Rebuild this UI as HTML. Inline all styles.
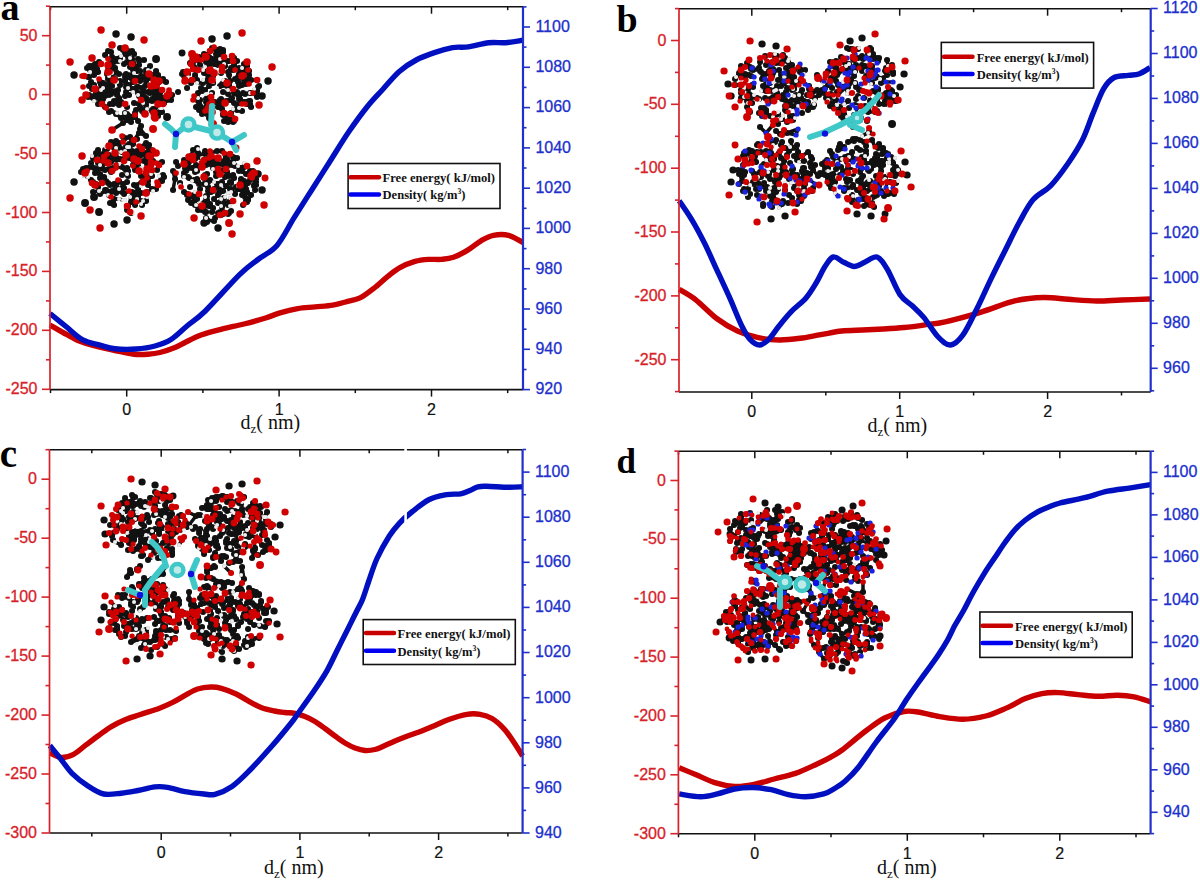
<!DOCTYPE html><html><head><meta charset="utf-8"><style>html,body{margin:0;padding:0;background:#fff;}svg{display:block;}</style></head><body>
<svg width="1200" height="881" viewBox="0 0 1200 881">
<rect width="1200" height="881" fill="#fff"/>
<path d="M50.0,325.0 C52.8,326.6 62.0,332.0 67.0,334.7 C72.0,337.4 75.7,339.5 80.0,341.3 C84.3,343.1 87.2,344.0 93.0,345.5 C98.8,347.0 108.2,349.1 115.0,350.5 C121.8,351.9 128.5,353.6 134.0,354.2 C139.5,354.8 143.7,354.5 148.0,354.2 C152.3,353.9 155.5,353.6 160.0,352.5 C164.5,351.4 170.8,349.2 175.0,347.5 C179.2,345.8 180.7,344.6 185.0,342.5 C189.3,340.4 194.8,337.3 201.0,335.0 C207.2,332.7 215.3,330.7 222.5,328.9 C229.7,327.1 236.8,325.8 244.0,324.0 C251.2,322.2 259.6,319.9 265.6,318.0 C271.6,316.1 274.7,314.5 280.0,312.9 C285.3,311.3 291.7,309.6 297.6,308.6 C303.5,307.6 309.3,307.5 315.2,306.9 C321.1,306.3 327.5,306.0 332.8,305.1 C338.1,304.2 342.4,302.8 346.9,301.6 C351.4,300.4 355.5,300.1 360.0,297.9 C364.5,295.7 369.2,291.9 373.8,288.3 C378.4,284.8 383.1,280.1 387.5,276.6 C391.9,273.2 395.3,270.1 399.9,267.6 C404.5,265.1 410.2,262.8 415.0,261.4 C419.8,260.0 424.4,259.7 428.8,259.4 C433.2,259.1 437.1,259.8 441.2,259.4 C445.3,259.0 449.1,258.8 453.5,257.3 C457.9,255.8 462.7,253.2 467.3,250.4 C471.9,247.7 476.6,243.3 481.0,240.8 C485.4,238.3 488.8,236.2 493.4,235.3 C498.0,234.4 503.7,234.1 508.6,235.3 C513.5,236.5 520.5,241.3 522.9,242.5" fill="none" stroke="#c80000" stroke-width="5.4" stroke-linejoin="round" stroke-linecap="butt"/>
<path d="M50.0,313.5 C52.7,315.7 60.6,322.1 66.0,326.5 C71.4,330.9 76.6,336.5 82.3,339.6 C88.0,342.7 94.5,343.7 100.0,345.2 C105.5,346.7 109.0,348.2 115.0,348.8 C121.0,349.4 129.3,349.5 136.0,349.0 C142.7,348.5 149.2,347.6 155.0,346.0 C160.8,344.4 165.7,342.8 171.0,339.5 C176.3,336.2 181.3,330.8 187.0,326.0 C192.7,321.2 196.5,319.6 205.3,311.0 C214.1,302.4 231.0,283.0 239.8,274.4 C248.6,265.8 251.8,264.3 258.0,259.5 C264.2,254.7 271.0,252.3 277.0,245.4 C283.0,238.5 288.1,227.3 294.0,217.9 C299.9,208.5 306.1,198.8 312.2,189.2 C318.3,179.6 324.4,170.1 330.5,160.5 C336.6,150.9 342.7,140.7 348.8,131.8 C354.9,122.9 361.4,114.0 367.0,107.0 C372.6,100.0 377.3,95.4 382.7,89.5 C388.1,83.6 393.7,76.4 399.3,71.5 C404.9,66.6 410.4,63.1 416.2,60.0 C422.0,56.9 428.3,54.7 434.4,52.6 C440.4,50.5 446.9,48.6 452.5,47.6 C458.1,46.6 462.2,47.7 468.2,46.9 C474.2,46.1 482.4,43.5 488.7,42.8 C494.9,42.1 500.0,43.1 505.7,42.7 C511.4,42.3 520.0,40.6 522.9,40.2" fill="none" stroke="#0010c0" stroke-width="5.4" stroke-linejoin="round" stroke-linecap="butt"/>
<path d="M679.2,289.4 C682.0,291.1 689.5,294.9 695.8,299.8 C702.0,304.7 709.8,313.3 716.7,318.5 C723.7,323.7 730.6,327.8 737.5,331.0 C744.4,334.2 751.3,336.2 758.3,337.7 C765.2,339.2 772.2,339.9 779.2,340.0 C786.2,340.1 793.1,339.2 800.0,338.3 C806.9,337.4 813.8,335.8 820.8,334.6 C827.8,333.4 834.8,331.8 841.7,331.0 C848.7,330.2 855.6,330.3 862.5,330.0 C869.4,329.7 876.3,329.4 883.3,329.0 C890.2,328.6 897.2,328.2 904.2,327.5 C911.2,326.8 918.2,325.8 925.0,324.8 C931.8,323.9 936.0,323.9 945.2,321.8 C954.4,319.7 968.7,315.8 980.4,312.3 C992.1,308.8 1005.0,303.2 1015.6,300.7 C1026.2,298.2 1035.0,297.7 1043.8,297.5 C1052.6,297.3 1059.7,298.7 1068.5,299.3 C1077.3,299.9 1087.8,300.9 1096.6,301.0 C1105.4,301.1 1112.4,300.3 1121.3,300.0 C1130.2,299.7 1145.2,299.2 1150.0,299.0" fill="none" stroke="#c80000" stroke-width="5.4" stroke-linejoin="round" stroke-linecap="butt"/>
<path d="M679.2,200.8 C681.3,203.9 687.5,212.7 691.7,219.6 C695.9,226.5 700.0,234.2 704.2,242.5 C708.4,250.8 712.5,260.6 716.7,269.6 C720.9,278.6 725.0,287.3 729.2,296.7 C733.4,306.1 738.2,318.7 741.7,325.8 C745.2,332.9 747.0,336.2 750.0,339.4 C753.0,342.6 756.3,345.0 759.4,345.0 C762.5,345.0 765.5,342.6 768.8,339.4 C772.0,336.2 775.4,330.5 779.2,325.8 C783.0,321.1 787.2,315.9 791.7,311.2 C796.2,306.6 802.1,302.6 806.2,297.7 C810.4,292.8 813.6,287.2 816.7,282.0 C819.8,276.8 822.2,270.7 825.0,266.5 C827.8,262.3 830.2,257.7 833.3,257.0 C836.4,256.3 840.3,260.7 843.8,262.3 C847.2,263.9 850.7,266.5 854.2,266.5 C857.7,266.5 860.8,263.9 864.6,262.3 C868.4,260.7 873.2,255.8 877.0,257.0 C880.8,258.2 883.7,263.3 887.5,269.6 C891.3,275.9 895.8,288.5 900.0,294.6 C904.2,300.7 908.5,302.2 912.5,306.0 C916.5,309.8 919.7,312.4 924.0,317.6 C928.3,322.8 933.8,332.4 938.2,337.0 C942.6,341.6 946.4,345.3 950.5,345.0 C954.6,344.7 958.4,341.2 962.8,335.2 C967.2,329.2 972.2,318.2 976.9,308.8 C981.6,299.4 986.3,288.6 991.0,278.9 C995.7,269.2 1000.3,260.1 1005.0,250.7 C1009.7,241.3 1014.5,231.0 1019.2,222.5 C1023.9,214.0 1027.9,205.8 1033.2,199.6 C1038.5,193.4 1044.9,191.8 1050.8,185.6 C1056.7,179.4 1063.2,170.3 1068.5,162.7 C1073.8,155.1 1078.4,148.0 1082.5,139.8 C1086.6,131.6 1089.5,121.9 1093.0,113.4 C1096.5,104.9 1100.2,94.7 1103.7,88.7 C1107.2,82.7 1110.1,79.7 1114.2,77.5 C1118.3,75.3 1124.2,76.0 1128.3,75.4 C1132.4,74.8 1135.3,75.3 1138.9,74.0 C1142.5,72.7 1148.2,68.7 1150.0,67.6" fill="none" stroke="#0010c0" stroke-width="5.4" stroke-linejoin="round" stroke-linecap="butt"/>
<path d="M49.8,752.7 C51.7,753.5 57.0,757.1 61.0,757.4 C65.0,757.7 69.4,756.4 73.6,754.3 C77.8,752.2 82.1,747.9 86.3,744.7 C90.5,741.5 94.8,738.2 99.0,735.2 C103.2,732.2 107.5,728.9 111.8,726.4 C116.0,723.9 119.7,722.0 124.5,720.0 C129.3,718.0 134.6,716.5 140.4,714.5 C146.2,712.5 154.2,710.2 159.5,708.2 C164.8,706.2 167.9,704.7 172.2,702.6 C176.4,700.5 180.8,697.7 185.0,695.4 C189.2,693.1 193.3,690.4 197.6,689.0 C201.9,687.6 206.7,687.1 210.7,687.0 C214.7,686.9 217.2,687.1 221.4,688.3 C225.7,689.5 231.6,691.8 236.2,694.0 C240.8,696.2 244.8,699.1 249.0,701.4 C253.2,703.7 257.4,706.2 261.7,707.8 C265.9,709.4 270.6,710.2 274.5,711.0 C278.4,711.8 281.6,712.1 285.0,712.5 C288.4,712.9 291.7,712.8 295.0,713.5 C298.3,714.2 301.7,715.2 305.0,716.5 C308.3,717.8 311.7,719.5 315.0,721.5 C318.3,723.5 321.7,726.1 325.0,728.5 C328.3,730.9 331.7,733.6 335.0,736.0 C338.3,738.4 341.7,741.0 345.0,743.0 C348.3,745.0 351.7,746.8 355.0,748.0 C358.3,749.2 361.7,750.2 365.0,750.5 C368.3,750.8 371.7,750.3 375.0,749.5 C378.3,748.7 381.7,746.9 385.0,745.5 C388.3,744.1 391.7,742.4 395.0,741.0 C398.3,739.6 400.6,738.7 405.0,737.0 C409.4,735.3 416.7,732.9 421.7,731.0 C426.7,729.1 430.5,727.4 435.0,725.5 C439.5,723.6 443.5,721.4 448.8,719.5 C454.1,717.6 461.8,715.2 467.0,714.3 C472.2,713.4 475.8,713.6 480.0,714.3 C484.2,715.0 488.0,716.1 492.0,718.5 C496.0,720.9 500.5,725.0 504.0,728.8 C507.5,732.5 509.9,736.5 513.0,741.0 C516.1,745.5 521.0,753.5 522.6,756.0" fill="none" stroke="#c80000" stroke-width="5.4" stroke-linejoin="round" stroke-linecap="butt"/>
<path d="M49.8,745.5 C51.5,747.6 56.3,753.4 60.0,758.0 C63.7,762.6 67.3,768.6 72.0,773.3 C76.7,778.0 82.7,782.5 88.0,786.0 C93.3,789.5 98.2,792.8 103.8,794.0 C109.3,795.2 115.6,793.8 121.3,793.2 C127.0,792.6 132.4,791.5 138.0,790.5 C143.6,789.5 149.8,787.4 154.7,786.9 C159.6,786.4 162.3,786.5 167.4,787.3 C172.5,788.1 178.9,790.5 185.0,791.6 C191.1,792.7 199.0,793.5 204.0,794.0 C209.0,794.5 210.3,795.6 215.0,794.3 C219.7,793.0 226.3,790.3 232.0,786.4 C237.7,782.5 242.2,777.9 249.0,771.0 C255.8,764.1 265.5,753.4 272.6,745.3 C279.7,737.2 287.1,728.0 291.5,722.5 C295.9,717.0 295.2,717.4 298.9,712.2 C302.6,707.0 308.9,698.4 313.6,691.5 C318.3,684.6 323.0,677.7 326.9,670.8 C330.8,663.9 333.8,657.1 337.2,650.2 C340.6,643.3 344.4,635.9 347.6,629.5 C350.8,623.1 353.9,616.7 356.4,611.8 C358.8,606.9 360.2,605.1 362.3,600.0 C364.4,594.9 366.4,587.9 368.8,581.0 C371.2,574.1 373.6,566.0 377.0,558.5 C380.4,551.0 385.6,541.9 389.3,536.0 C393.1,530.1 395.8,527.1 399.5,523.1 C403.2,519.1 406.8,515.9 411.8,512.0 C416.8,508.1 423.5,502.4 429.3,499.5 C435.1,496.6 441.4,495.6 446.6,494.6 C451.8,493.7 456.8,494.5 460.7,493.8 C464.6,493.1 467.1,491.7 470.0,490.5 C472.9,489.3 475.2,487.5 478.0,486.8 C480.8,486.1 481.6,486.2 486.7,486.3 C491.8,486.4 502.3,487.2 508.3,487.3 C514.3,487.4 520.2,486.9 522.6,486.8" fill="none" stroke="#0010c0" stroke-width="5.4" stroke-linejoin="round" stroke-linecap="butt"/>
<path d="M679.2,767.7 C682.0,768.9 690.3,772.3 696.2,774.8 C702.1,777.3 708.3,780.6 714.7,782.6 C721.1,784.6 728.1,786.1 734.5,786.5 C740.9,786.9 746.3,786.0 752.9,784.7 C759.5,783.5 767.1,780.9 774.2,779.0 C781.3,777.1 788.3,775.9 795.4,773.4 C802.5,770.9 810.7,766.9 816.6,764.2 C822.5,761.5 826.5,759.5 830.8,757.1 C835.0,754.7 836.3,754.4 842.1,750.0 C847.9,745.6 858.6,736.3 865.7,731.0 C872.8,725.7 878.4,721.2 884.7,718.0 C891.1,714.8 898.2,712.5 903.8,711.5 C909.3,710.5 912.0,711.1 918.0,712.0 C924.0,712.9 932.3,715.5 939.8,716.7 C947.3,717.9 955.1,719.4 962.8,719.3 C970.5,719.2 978.7,717.8 985.8,716.0 C992.9,714.2 999.0,711.3 1005.6,708.4 C1012.2,705.5 1019.3,701.1 1025.3,698.6 C1031.3,696.1 1036.3,694.6 1041.8,693.6 C1047.3,692.6 1052.3,692.4 1058.3,692.6 C1064.3,692.8 1071.4,694.0 1078.0,694.6 C1084.6,695.2 1091.2,696.2 1097.8,696.3 C1104.4,696.4 1111.5,695.2 1117.5,695.3 C1123.5,695.4 1128.5,695.8 1134.0,696.9 C1139.5,698.0 1147.8,701.0 1150.5,701.8" fill="none" stroke="#c80000" stroke-width="5.4" stroke-linejoin="round" stroke-linecap="butt"/>
<path d="M679.2,793.9 C682.8,794.4 694.1,796.7 700.5,796.7 C706.9,796.7 711.8,795.2 717.5,793.9 C723.2,792.6 728.6,790.1 734.5,789.0 C740.4,787.9 746.8,787.4 752.9,787.5 C759.0,787.6 765.4,788.5 771.3,789.7 C777.2,790.9 782.6,793.4 788.3,794.6 C794.0,795.8 799.4,796.8 805.3,796.7 C811.2,796.6 818.8,795.3 823.7,793.9 C828.7,792.5 831.5,790.3 835.0,788.2 C838.5,786.1 841.1,784.7 845.0,781.2 C848.9,777.8 853.0,774.0 858.2,767.5 C863.4,761.0 870.2,750.2 876.3,742.0 C882.3,733.8 889.5,725.5 894.5,718.5 C899.5,711.5 902.5,705.7 906.2,700.0 C910.0,694.3 912.9,690.2 917.0,684.5 C921.1,678.8 927.0,670.8 930.6,665.8 C934.2,660.8 935.8,658.9 938.6,654.5 C941.5,650.1 945.1,644.4 947.7,639.7 C950.4,635.0 951.9,631.0 954.5,626.1 C957.1,621.2 960.4,616.3 963.6,610.5 C966.8,604.7 970.1,597.7 973.6,591.5 C977.1,585.3 980.9,578.9 984.5,573.1 C988.1,567.3 992.0,561.9 995.4,556.8 C998.8,551.7 1001.8,546.9 1005.0,542.5 C1008.2,538.1 1011.1,534.0 1014.5,530.2 C1017.9,526.5 1021.5,523.1 1025.4,520.0 C1029.3,516.9 1033.8,514.0 1037.7,511.8 C1041.6,509.6 1044.9,508.5 1048.6,507.0 C1052.3,505.5 1054.0,504.6 1060.0,503.0 C1066.0,501.4 1076.6,499.7 1084.6,497.7 C1092.5,495.7 1100.0,492.8 1107.7,491.2 C1115.4,489.6 1123.6,489.0 1130.7,487.9 C1137.8,486.8 1147.2,485.2 1150.5,484.6" fill="none" stroke="#0010c0" stroke-width="5.4" stroke-linejoin="round" stroke-linecap="butt"/>
<path d="M150 66L150 66M150 66L148 70M125 81L126 84M125 81L125 77M140 107L139 104M140 107L142 111M157 80L157 78M157 80L159 81M121 102L118 103M121 102L119 105M99 79L100 82M99 79L103 83M120 85L120 81M120 85L117 82M101 64L99 62M101 64L96 66M100 82L101 85M157 89L157 86M157 89L155 86M139 61L138 59M139 61L139 65M90 72L90 70M90 72L90 69M147 101L146 104M147 101L146 105M157 98L157 101M157 98L159 96M107 92L105 92M107 92L104 93M162 112L159 112M162 112L162 108M126 92L126 92M126 92L129 95M154 78L154 80M154 78L152 75M95 89L94 87M95 89L96 92M145 98L146 98M145 98L143 97M114 80L115 79M114 80L112 78M127 107L127 104M127 107L125 104M128 77L128 75M128 77L125 75M125 48L123 50M125 48L128 51M116 59L118 61M116 59L114 62M151 88L151 86M151 88L151 90M127 120L127 120M127 120L130 121M133 82L135 81M133 82L132 79M104 89L103 88M104 89L106 88M152 110L153 110M152 110L153 109M162 104L162 104M162 104L163 104M155 86L154 86M155 86L157 86M132 79L135 81M132 62L133 63M132 62L132 64M126 84L129 85M112 73L114 73M112 73L110 72M129 95L126 92M136 82L135 81M96 92L99 90M160 108L162 108M160 108L158 106M154 109L153 109M154 109L153 110M150 66L148 70M89 95L88 97M89 95L86 95M111 52L108 51M111 52L112 57M94 87L94 85M95 67L96 66M95 67L97 69M146 81L149 78M146 81L145 86M109 83L107 85M109 83L112 86M118 61L120 61M118 61L120 58M127 62L124 64M127 62L130 58M136 110L135 113M94 101L93 98M94 101L95 97M142 88L142 88M142 88L143 90M154 86L151 86M100 96L99 94M100 96L98 98M116 91L118 90M116 91L117 94M109 95L111 94M149 78L149 74M132 59L130 58M145 86L142 88M114 73L116 72M98 98L95 97M120 61L120 58M107 85L106 88M98 72L97 69M98 72L95 71M111 63L114 62M111 63L108 65M142 111L143 112M142 111L144 112M162 99L163 98M162 99L158 101M101 102L102 102M101 102L102 104M150 93L148 92M150 93L151 90M158 75L158 76M158 75L157 77M111 69L112 67M111 69L110 72M160 93L159 96M160 93L162 90M92 89L92 87M111 94L111 91M152 75L149 74M132 64L133 63M166 82L163 79M166 82L159 81M105 107L106 108M105 107L102 104M102 104L102 104M103 83L101 85M88 97L86 95M108 51L105 55M99 94L99 90M143 97L146 98M103 88L102 89M108 65L112 67M87 68L89 66M87 68L90 69M140 96L139 96M140 96L138 95M108 72L110 72M108 72L108 70M109 112L111 111M109 112L106 108M110 88L111 91M110 88L112 86M133 92L133 89M133 92L136 90M131 52L132 51M131 52L128 51M106 108L110 104M125 113L125 113M125 113L127 114M94 85L92 85M156 71L158 76M89 86L92 87M89 86L92 85M154 117L155 118M154 117L158 116M158 104L158 106M158 104L158 101M144 60L138 59M120 58L121 56M130 88L128 88M130 88L133 89M159 81L159 82M116 72L119 74M140 78L140 80M140 78L138 78M132 51L134 54M112 57L108 59M91 66L89 66M91 66L90 69M157 77L157 78M157 77L158 76M117 94L117 95M129 85L128 88M140 80L140 81M143 103L143 102M143 103L146 104M105 96L104 93M105 96L103 99M127 114L125 113M144 112L143 112M144 112L145 112M114 101L116 101M114 101L113 104M148 92L151 90M169 90L169 94M169 90L167 96M96 66L95 64M99 90L101 90M99 90L102 89M143 102L141 100M155 95L155 93M121 118L124 117M121 118L116 114M154 80L156 82M95 71L97 69M135 78L138 78M90 69L90 70M90 69L89 66M120 48L123 50M138 93L138 95M138 93L139 96M105 92L104 93M103 99L102 102M115 68L112 67M130 121L131 122M92 85L92 87M133 70L134 73M133 70L130 67M126 74L125 75M126 74L128 75M120 81L117 82M108 77L109 76M108 77L108 79M152 99L152 101M135 115L135 115M135 115L135 113M157 86L157 84M108 59L105 55M137 87L138 87M137 87L136 90M115 79L117 82M117 113L116 114M117 113L111 111M134 103L139 104M163 104L162 104M125 104L127 104M125 104L127 103M139 96L138 95M145 114L145 112M130 58L128 57M157 84L156 82M127 104L127 103M127 120L124 117M144 77L141 76M143 93L143 90M99 62L95 64M95 97L94 96M95 97L93 98M146 109L145 109M146 109L147 109M101 90L102 89M145 112L143 112M137 71L140 71M137 71L134 73M119 105L118 103M136 67L139 65M128 57L128 54M113 104L110 104M146 70L148 70M146 70L146 72M89 77L88 77M89 77L84 76M125 54L128 54M125 54L128 53M135 115L135 117M145 109L147 109M169 94L167 96M88 77L84 76M125 75L125 77M156 82L155 83M146 72L148 70M135 117L133 117M154 113L154 113M109 76L107 74M93 98L94 96M84 76L82 76M158 116L155 118M134 73L132 75M136 90L133 89M128 51L128 53M119 98L117 95M119 98L116 101M146 104L146 105M116 101L118 103M128 53L128 54M110 72L110 72M157 101L158 101M126 87L128 88M167 96L163 98M143 90L142 88M162 108L162 104M214 59L217 59M214 59L210 58M226 101L225 103M226 101L222 102M238 95L239 96M238 95L237 92M223 60L223 60M223 60L223 59M228 122L228 120M228 122L231 120M222 102L222 104M222 102L220 100M218 107L220 104M218 107L222 109M210 82L209 81M210 82L212 80M257 94L257 91M257 94L253 93M209 118L210 119M209 118L211 118M220 59L220 60M220 59L222 60M223 60L223 59M217 65L214 64M217 65L219 63M222 71L222 71M222 71L222 70M229 61L227 61M229 61L233 61M231 120L233 122M231 120L234 121M228 94L228 94M228 94L228 90M210 84L209 86M257 97L253 93M228 94L228 90M228 72L229 75M228 72L231 68M233 61L234 58M233 61L234 65M222 84L223 85M222 84L223 83M250 93L250 93M250 93L251 93M235 119L235 119M235 119L233 118M251 93L250 93M243 93L245 94M243 93L239 96M194 67L193 69M194 67L193 69M248 70L249 71M248 70L246 68M243 77L242 76M243 77L244 75M225 66L224 64M225 66L222 67M245 82L244 80M245 82L246 84M197 83L197 80M197 83L203 83M201 88L202 91M201 88L205 90M184 76L184 74M184 76L182 74M207 70L206 72M207 70L209 71M207 98L206 99M207 98L211 97M245 69L246 68M245 69L246 71M214 73L214 73M214 73L214 72M237 105L240 102M237 105L234 103M242 104L245 104M242 104L243 102M233 70L235 70M233 70L231 68M211 118L210 119M214 64L210 62M198 101L199 100M198 101L200 100M211 94L212 93M211 94L211 97M239 69L239 70M239 69L239 68M239 74L238 77M239 74L242 76M239 99L240 99M239 99L240 102M217 59L218 61M216 73L214 73M246 84L249 84M233 109L236 109M233 109L237 110M235 79L238 79M235 79L238 77M250 104L247 104M250 104L251 107M233 55L232 56M233 55L234 58M198 93L202 91M198 93L198 98M233 122L234 121M257 80L251 80M257 80L250 80M229 86L227 86M229 86L229 84M193 69L193 69M198 98L197 98M198 98L200 100M215 102L212 102M215 102L211 99M183 72L182 74M183 72L184 74M226 83L227 83M226 83L225 81M202 91L205 90M223 115L223 114M223 115L224 113M195 77L195 75M195 77L197 80M207 55L206 57M207 55L205 56M226 85L227 86M226 85L227 83M198 70L199 69M198 70L203 70M206 102L206 99M206 102L209 104M185 81L185 79M185 81L188 77M199 104L200 106M199 61L201 60M199 61L196 59M245 104L247 104M245 104L246 102M223 114L224 113M240 102L240 99M243 71L246 71M209 105L209 104M209 105L209 107M211 99L211 97M211 99L212 102M249 84L249 81M208 60L210 62M208 60L206 62M234 65L231 68M203 70L205 67M203 70L204 73M249 78L250 80M249 78L249 81M210 71L209 71M210 71L210 70M259 86L258 87M259 86L257 91M210 70L209 71M205 56L206 57M225 103L222 104M194 96L193 100M194 96L197 98M192 59L195 58M192 59L196 59M247 66L246 68M247 66L244 64M203 83L203 80M203 83L207 81M209 81L207 81M220 49L220 51M220 49L216 50M234 103L230 100M209 112L212 112M209 112L207 114M222 109L224 113M195 75L197 80M239 108L237 110M239 108L236 109M200 106L202 110M222 67L221 68M251 107L247 104M251 80L250 80M251 80L249 81M222 60L223 59M199 57L196 57M199 57L201 60M199 100L200 100M234 93L237 92M234 93L237 92M193 100L197 98M249 101L250 101M249 101L246 102M254 89L257 91M221 73L220 72M220 86L223 85M235 119L233 118M235 70L239 70M206 107L208 109M206 107L209 107M187 72L188 74M187 72L184 74M202 110L199 110M214 47L212 48M214 47L216 50M189 80L192 80M189 80L188 77M243 102L246 102M221 68L222 70M209 104L212 102M237 61L234 58M220 100L221 99M223 83L223 85M220 72L222 71M238 77L238 79M249 81L250 80M229 75L230 81M249 75L249 71M209 65L210 62M209 65L206 62M184 74L182 74M208 109L209 107M227 83L229 84M228 115L230 114M228 115L231 115M230 81L229 84M193 62L191 64M213 82L213 83M213 82L212 80M247 104L246 102M238 82L239 84M238 82L238 79M222 70L222 71M205 111L207 114M197 98L200 100M236 109L237 110M208 79L207 81M239 86L239 84M239 86L242 85M228 120L226 119M204 73L206 72M242 111L237 110M202 114L207 114M225 81L223 80M242 76L244 75M214 72L214 73M188 77L185 79M231 113L230 114M231 113L231 115M209 57L210 58M196 107L199 110M234 58L232 56M226 119L224 121M213 76L214 73M239 70L239 68M239 96L240 99M212 112L212 107M195 58L196 59M195 58L196 57M230 114L231 115M258 87L257 91M196 59L196 57M192 80L191 83M237 92L237 92M212 48L210 51M218 61L219 63M223 52L223 50M223 52L220 51M216 54L216 50M216 54L220 51M223 50L220 51M191 64L190 63M220 104L222 104M230 100L232 98M127 174L128 176M127 174L128 171M141 168L139 171M141 168L138 166M125 158L124 161M125 158L126 155M102 167L101 168M102 167L103 164M88 168L86 168M88 168L87 171M100 194L99 191M100 194L106 191M106 191L106 190M106 191L105 190M134 159L135 160M134 159L134 161M117 183L114 184M117 183L119 181M144 161L146 159M144 161L147 159M138 197L137 199M138 197L137 200M117 191L116 193M117 191L119 189M135 170L133 166M135 170L139 171M142 205L141 204M142 205L141 201M130 197L132 197M130 197L131 202M109 169L111 172M109 169L112 171M148 178L147 178M148 178L146 177M131 202L136 202M131 202L135 205M93 182L93 183M93 182L92 183M141 183L143 182M141 183L143 182M137 199L137 200M137 199L136 200M114 148L116 148M114 148L115 145M94 168L92 167M94 168L98 169M156 189L153 191M156 189L152 189M122 188L124 188M122 188L122 191M131 213L130 212M131 213L133 213M113 168L113 169M113 168L116 168M141 201L143 201M141 201L140 201M142 149L139 151M142 149L144 146M133 158L133 156M103 157L104 157M103 157L102 159M137 200L136 200M119 199L123 200M119 199L114 199M83 169L81 172M83 169L85 173M149 145L149 149M149 145L146 143M149 149L151 150M149 149L149 151M128 206L127 206M128 206L127 210M153 150L151 150M150 168L152 170M150 168L147 169M123 200L125 200M136 162L135 160M136 162L138 161M103 161L102 159M103 161L103 164M146 173L146 177M146 173L147 169M98 187L97 185M98 187L95 185M146 177L147 178M146 177L145 179M110 193L112 191M110 193L108 192M87 171L86 168M137 158L137 156M137 158L138 161M111 197L109 195M111 197L114 199M132 155L131 154M132 155L132 153M151 165L151 162M116 186L115 186M116 186L114 184M104 177L106 181M104 177L100 178M96 153L99 154M96 153L98 150M151 156L149 156M151 156L151 154M103 154L105 153M116 148L115 145M136 202L136 200M136 200L135 199M93 158L94 157M93 158L92 156M151 162L153 161M143 182L143 182M130 137L132 142M130 137L125 138M147 192L147 193M147 192L146 193M149 151L151 150M108 163L111 162M108 163L107 158M147 164L147 163M129 191L132 192M129 191L124 194M103 164L100 165M151 154L149 156M119 164L119 166M119 164L122 167M130 212L133 213M145 179L147 178M152 170L151 174M132 142L132 143M132 142L133 144M92 183L93 183M151 174L151 176M151 174L150 176M159 176L162 176M159 176L163 175M114 199L113 203M135 153L135 152M135 153L137 154M106 181L108 183M146 156L146 156M146 156L148 155M135 160L134 161M91 163L92 167M107 158L107 156M107 158L104 157M128 176L128 171M150 176L151 176M150 176L152 176M162 162L159 165M162 162L156 163M124 161L120 159M132 192L135 193M100 165L98 163M116 193L119 189M124 139L125 138M124 139L123 137M81 172L85 173M143 201L140 201M132 153L131 154M147 159L146 159M138 189L137 187M138 189L138 185M112 171L111 172M112 171L113 169M108 183L110 185M121 152L121 152M121 152L122 152M123 143L123 142M123 143L119 143M163 175L164 177M163 175L162 176M137 154L137 151M138 161L139 161M94 157L92 156M122 136L123 137M112 144L111 142M93 192L99 191M137 187L138 185M124 194L122 192M124 194L122 191M98 169L101 168M115 186L114 184M118 180L119 181M152 189L153 191M96 184L95 185M96 184L97 185M149 156L148 155M133 165L133 166M133 165L134 161M125 138L123 137M98 150L99 154M107 149L105 150M107 149L106 147M134 185L138 185M112 157L112 160M112 157L109 155M114 205L113 204M114 205L113 203M120 148L121 152M129 147L127 147M129 147L127 149M145 153L146 156M145 153L148 155M138 185L139 185M146 201L147 197M157 170L159 165M110 185L114 184M121 152L122 152M116 168L116 165M116 168L119 166M141 193L140 193M141 193L146 193M157 182L158 184M157 182L158 185M139 146L144 146M131 145L133 144M131 145L132 143M112 191L108 192M127 151L127 149M127 151L125 151M122 191L122 192M144 146L146 143M162 181L161 180M162 181L164 177M106 190L105 190M113 204L113 203M95 185L97 185M161 180L162 176M111 142L109 146M124 151L124 150M124 151L125 151M128 171L126 170M128 171L125 169M127 182L127 182M127 182L123 184M126 146L127 147M127 168L125 169M127 168L126 170M119 166L122 167M120 159L117 160M120 159L116 157M115 153L115 153M115 153L116 157M151 176L152 176M105 153L107 154M107 156L107 154M107 156L109 155M88 177L91 180M88 177L84 176M126 170L125 169M158 184L158 185M135 152L137 151M148 185L148 181M148 155L146 156M132 143L133 144M124 150L125 151M91 180L93 183M147 193L146 193M159 165L156 163M147 197L146 193M98 163L97 160M140 156L140 153M100 178L100 174M116 157L117 160M85 173L84 176M156 163L153 161M109 146L109 146M111 162L112 160M109 195L108 195M107 154L109 155M139 185L141 186M162 176L164 177M116 141L119 143M139 151L140 153M204 178L204 177M204 178L204 177M214 189L213 190M214 189L213 191M207 185L206 184M207 185L207 183M214 165L215 163M214 165L212 165M202 163L201 166M202 163L204 160M205 197L206 198M205 197L206 196M213 168L213 169M231 183L230 182M231 183L234 178M206 180L208 182M252 172L253 171M252 172L252 174M231 189L230 189M231 189L231 190M188 163L189 162M188 163L188 164M241 185L240 185M241 185L240 187M216 172L218 169M216 172L219 172M221 185L222 182M221 185L218 184M200 189L200 189M200 189L199 194M229 202L228 205M229 202L230 198M210 204L209 206M210 204L207 202M184 173L186 171M184 173L184 176M231 190L231 192M207 200L207 201M207 200L206 198M245 197L242 195M245 197L248 200M201 207L202 206M201 207L202 210M252 178L251 176M252 178L251 177M221 157L222 158M221 157L218 158M225 177L227 175M225 177L229 176M186 168L185 168M186 168L186 168M244 167L243 168M244 167L243 168M230 154L230 154M230 154L227 155M204 160L202 158M212 191L213 191M212 191L213 190M254 186L254 185M254 186L256 185M187 194L187 195M187 194L189 194M223 213L223 214M223 213L222 211M221 206L222 207M221 206L224 203M224 203L222 207M244 163L247 166M222 182L218 184M206 196L207 196M243 168L243 168M219 172L220 174M197 167L195 167M197 167L196 165M248 183L245 182M248 183L245 186M246 189L247 192M246 189L245 186M197 156L200 157M197 156L198 153M234 178L233 175M206 218L206 218M206 218L206 219M218 186L217 184M218 186L218 184M220 212L222 211M220 212L218 213M205 202L204 203M205 202L207 201M233 157L230 154M199 184L198 182M199 184L197 181M233 175L229 176M196 170L197 171M196 170L195 172M213 190L213 191M197 171L195 172M189 162L188 164M202 167L201 166M191 196L189 194M191 196L187 195M247 192L251 195M243 205L244 204M243 205L246 201M209 154L211 153M209 154L211 156M225 165L227 166M225 165L223 163M240 189L239 189M240 189L242 190M256 182L256 185M256 182L256 179M187 169L186 168M208 159L209 158M208 159L210 162M205 212L206 212M205 212L202 210M180 183L180 185M180 183L181 187M195 205L196 205M195 205L194 201M228 205L230 206M225 213L223 214M212 160L210 162M212 160L214 159M227 175L227 172M200 157L202 158M221 215L220 215M221 215L223 214M211 156L209 158M217 151L222 151M217 151L211 153M198 149L197 148M198 149L198 153M200 203L201 204M200 203L204 203M225 197L224 198M225 197L221 199M204 154L205 151M204 154L202 158M191 203L194 201M191 203L188 200M184 176L184 177M206 218L206 219M207 174L205 175M207 174L204 177M224 153L222 151M224 153L227 155M196 165L195 167M236 187L237 189M236 187L238 186M184 192L187 195M222 207L222 211M250 171L253 171M234 163L234 165M234 163L232 164M244 181L245 182M244 181L241 181M208 191L208 187M208 191L211 192M218 203L221 199M206 184L204 184M227 172L226 169M198 210L202 210M228 163L226 161M228 163L230 163M207 196L206 198M214 182L217 184M214 182L210 180M218 164L217 163M218 164L215 163M226 169L227 166M202 206L201 204M240 187L240 185M240 187L238 186M205 206L204 203M232 165L232 164M232 165L234 165M254 185L256 185M207 202L207 201M244 204L246 201M189 194L187 195M215 218L214 221M222 164L223 163M204 177L204 177M231 211L229 213M231 211L228 214M205 175L204 177M251 195L248 200M235 166L235 166M235 166L234 165M223 191L220 190M223 191L219 193M192 155L193 156M192 155L189 157M181 187L180 185M212 165L211 164M251 176L251 177M207 183L208 182M241 179L241 181M214 159L218 158M233 201L230 198M246 201L247 202M246 201L247 202M237 158L233 161M235 166L234 165M232 164L234 165M206 212L202 210M192 181L194 180M192 181L189 178M242 190L239 189M185 168L186 168M211 192L213 191M184 177L188 177M193 156L195 159M197 181L198 182M197 181L197 179M193 150L197 148M217 184L218 184M228 193L231 192M206 165L207 163M206 165L211 164M220 190L219 193M239 171L242 171M239 171L240 168M194 180L197 179M195 192L194 195M195 192L199 194M230 154L227 155M197 179L198 182M227 159L226 161M227 159L227 155M230 182L226 186M189 178L188 177M214 221L207 220M247 202L247 202M197 199L194 201M204 203L201 204M193 160L195 159M248 200L247 202M246 174L251 177M207 163L210 162M226 186L230 189M192 168L195 167M210 162L211 164M224 198L221 199M213 208L212 212M240 168L238 166M229 213L228 214M196 205L194 201M210 180L208 182M218 195L219 193M207 222L207 220M253 171L254 173M252 174L254 173M251 179L250 180M215 163L217 163M239 189L237 189M222 158L218 158M235 194L237 189M210 151L211 153M172 95L171 96M172 95L171 100M167 100L171 100M167 100L171 96M171 96L171 100M112 130L123 123M146 136L139 133M146 136L140 129M129 144L134 140M141 126L140 129M141 126L139 133M134 140L139 133M139 133L140 129M173 171L176 173M173 171L175 179M176 173L175 179M173 190L175 179" fill="none" stroke="#111" stroke-width="3.5" stroke-linecap="round"/>
<path d="M150 66h.1M125 81h.1M140 107h.1M157 80h.1M121 102h.1M120 85h.1M100 82h.1M157 89h.1M139 61h.1M147 101h.1M157 98h.1M107 92h.1M162 112h.1M126 92h.1M154 78h.1M145 98h.1M127 107h.1M128 77h.1M116 59h.1M151 88h.1M127 120h.1M133 82h.1M104 89h.1M152 110h.1M162 104h.1M155 86h.1M132 79h.1M132 62h.1M126 84h.1M129 95h.1M96 92h.1M154 109h.1M150 66h.1M89 95h.1M111 52h.1M95 67h.1M146 81h.1M109 83h.1M118 61h.1M127 62h.1M136 110h.1M142 88h.1M100 96h.1M116 91h.1M109 95h.1M149 78h.1M132 59h.1M145 86h.1M114 73h.1M98 98h.1M107 85h.1M98 72h.1M111 63h.1M142 111h.1M162 99h.1M101 102h.1M150 93h.1M158 75h.1M111 69h.1M160 93h.1M92 89h.1M153 110h.1M111 94h.1M152 75h.1M166 82h.1M105 107h.1M103 83h.1M88 97h.1M108 51h.1M99 94h.1M143 97h.1M87 68h.1M140 96h.1M109 112h.1M110 88h.1M131 52h.1M125 113h.1M94 85h.1M156 71h.1M89 86h.1M144 60h.1M120 58h.1M146 98h.1M130 88h.1M116 72h.1M140 78h.1M132 51h.1M112 57h.1M91 66h.1M157 77h.1M117 94h.1M129 85h.1M140 80h.1M101 85h.1M124 64h.1M118 90h.1M105 96h.1M127 114h.1M144 112h.1M114 101h.1M148 92h.1M96 66h.1M99 90h.1M143 102h.1M112 86h.1M155 95h.1M152 111h.1M121 118h.1M95 71h.1M135 78h.1M90 69h.1M120 48h.1M138 93h.1M106 88h.1M105 92h.1M103 99h.1M153 109h.1M151 90h.1M115 68h.1M130 121h.1M92 85h.1M133 70h.1M126 74h.1M120 81h.1M108 77h.1M152 99h.1M125 96h.1M114 62h.1M135 115h.1M157 78h.1M137 87h.1M115 79h.1M134 103h.1M139 96h.1M138 78h.1M158 106h.1M155 93h.1M112 67h.1M157 84h.1M123 50h.1M119 74h.1M127 120h.1M144 77h.1M143 93h.1M99 62h.1M128 75h.1M95 97h.1M146 109h.1M104 93h.1M145 112h.1M137 71h.1M119 105h.1M138 59h.1M164 103h.1M136 67h.1M128 57h.1M113 104h.1M102 102h.1M146 70h.1M89 77h.1M125 54h.1M145 109h.1M111 111h.1M88 77h.1M125 75h.1M95 64h.1M156 82h.1M133 63h.1M146 72h.1M135 117h.1M133 117h.1M116 114h.1M93 98h.1M91 82h.1M158 116h.1M105 55h.1M139 104h.1M143 112h.1M141 76h.1M138 121h.1M139 65h.1M136 90h.1M128 51h.1M112 78h.1M119 98h.1M146 104h.1M146 105h.1M159 112h.1M155 83h.1M116 101h.1M128 53h.1M154 113h.1M108 79h.1M102 89h.1M134 54h.1M140 81h.1M157 101h.1M129 116h.1M94 75h.1M128 54h.1M111 91h.1M140 71h.1M107 74h.1M110 104h.1M126 87h.1M124 117h.1M92 87h.1M152 101h.1M143 90h.1M118 103h.1M130 67h.1M89 66h.1M138 87h.1M159 96h.1M158 101h.1M135 113h.1M163 79h.1M142 88h.1M98 104h.1M125 77h.1M159 82h.1M97 69h.1M90 70h.1M162 104h.1M133 89h.1M117 95h.1M108 70h.1M126 92h.1M131 122h.1M94 96h.1M132 75h.1M163 98h.1M158 76h.1M214 59h.1M226 101h.1M238 95h.1M223 60h.1M228 122h.1M222 102h.1M218 107h.1M210 82h.1M257 94h.1M209 118h.1M223 60h.1M217 65h.1M222 71h.1M229 61h.1M231 120h.1M228 94h.1M210 84h.1M257 97h.1M228 94h.1M228 72h.1M222 84h.1M250 93h.1M251 93h.1M243 93h.1M194 67h.1M243 77h.1M225 66h.1M245 82h.1M209 86h.1M201 88h.1M184 76h.1M207 70h.1M207 98h.1M245 69h.1M214 73h.1M237 105h.1M233 70h.1M211 118h.1M214 64h.1M198 101h.1M239 69h.1M239 74h.1M239 99h.1M217 59h.1M246 84h.1M235 79h.1M250 104h.1M198 93h.1M233 122h.1M229 86h.1M215 102h.1M183 72h.1M245 94h.1M226 83h.1M202 91h.1M223 115h.1M195 77h.1M207 55h.1M226 85h.1M206 102h.1M199 104h.1M199 61h.1M223 114h.1M240 102h.1M243 71h.1M209 105h.1M211 99h.1M208 60h.1M234 65h.1M244 80h.1M249 78h.1M210 71h.1M259 86h.1M247 66h.1M203 83h.1M209 81h.1M206 99h.1M220 49h.1M234 103h.1M210 119h.1M209 112h.1M222 109h.1M195 75h.1M205 90h.1M200 106h.1M227 61h.1M227 86h.1M251 107h.1M251 80h.1M222 60h.1M246 68h.1M199 57h.1M220 60h.1M199 100h.1M197 80h.1M234 93h.1M249 101h.1M221 73h.1M220 86h.1M206 107h.1M202 110h.1M193 69h.1M189 80h.1M231 68h.1M243 102h.1M237 61h.1M220 100h.1M223 83h.1M223 59h.1M238 77h.1M249 81h.1M229 75h.1M249 75h.1M209 65h.1M250 80h.1M184 74h.1M228 115h.1M230 81h.1M193 62h.1M247 104h.1M238 82h.1M222 70h.1M223 85h.1M197 98h.1M236 109h.1M208 79h.1M239 86h.1M210 62h.1M213 83h.1M223 92h.1M228 120h.1M229 84h.1M204 73h.1M242 111h.1M202 114h.1M225 81h.1M206 72h.1M214 72h.1M231 113h.1M209 57h.1M196 107h.1M234 58h.1M238 79h.1M226 119h.1M213 76h.1M239 70h.1M239 96h.1M204 54h.1M195 58h.1M221 99h.1M246 71h.1M237 110h.1M182 74h.1M234 121h.1M199 110h.1M206 62h.1M208 75h.1M207 114h.1M258 87h.1M224 121h.1M240 99h.1M244 64h.1M237 92h.1M191 83h.1M239 68h.1M212 48h.1M218 61h.1M200 100h.1M246 102h.1M223 52h.1M207 81h.1M257 91h.1M239 84h.1M233 118h.1M200 65h.1M212 107h.1M216 54h.1M223 50h.1M242 85h.1M210 58h.1M220 104h.1M187 88h.1M221 56h.1M250 101h.1M212 93h.1M249 71h.1M190 63h.1M230 100h.1M188 74h.1M237 92h.1M220 51h.1M232 98h.1M219 63h.1M216 50h.1M222 104h.1M125 158h.1M102 167h.1M88 168h.1M100 194h.1M106 191h.1M117 183h.1M144 161h.1M138 197h.1M117 191h.1M135 170h.1M142 205h.1M109 169h.1M148 178h.1M131 202h.1M93 182h.1M141 183h.1M114 148h.1M94 168h.1M156 189h.1M122 188h.1M131 213h.1M113 168h.1M141 201h.1M133 158h.1M103 157h.1M137 200h.1M83 169h.1M149 145h.1M149 149h.1M128 206h.1M150 168h.1M136 162h.1M98 187h.1M146 177h.1M110 193h.1M137 158h.1M132 155h.1M116 186h.1M104 177h.1M96 153h.1M103 154h.1M136 200h.1M93 158h.1M130 137h.1M147 192h.1M138 166h.1M149 151h.1M147 164h.1M103 164h.1M151 154h.1M145 179h.1M132 142h.1M114 199h.1M135 153h.1M106 181h.1M146 156h.1M135 160h.1M91 163h.1M107 158h.1M128 176h.1M102 159h.1M147 163h.1M92 167h.1M150 176h.1M162 162h.1M115 145h.1M132 192h.1M116 193h.1M124 139h.1M81 172h.1M132 153h.1M147 159h.1M138 189h.1M108 183h.1M135 199h.1M163 175h.1M137 154h.1M146 159h.1M132 197h.1M94 157h.1M112 144h.1M93 192h.1M137 187h.1M124 194h.1M98 169h.1M115 186h.1M113 169h.1M152 189h.1M96 184h.1M133 165h.1M141 176h.1M125 138h.1M98 150h.1M107 149h.1M134 185h.1M112 157h.1M114 205h.1M132 159h.1M120 148h.1M145 153h.1M138 185h.1M146 201h.1M157 170h.1M110 185h.1M141 193h.1M131 145h.1M112 191h.1M127 151h.1M122 191h.1M144 146h.1M162 181h.1M106 190h.1M129 158h.1M131 154h.1M113 204h.1M122 152h.1M137 156h.1M161 180h.1M143 182h.1M111 142h.1M124 151h.1M128 171h.1M127 182h.1M127 210h.1M126 146h.1M111 172h.1M127 168h.1M119 166h.1M120 159h.1M97 185h.1M151 176h.1M139 161h.1M105 153h.1M107 156h.1M122 175h.1M126 170h.1M158 184h.1M123 137h.1M135 152h.1M151 150h.1M122 192h.1M108 192h.1M148 185h.1M132 143h.1M124 150h.1M125 169h.1M91 180h.1M113 203h.1M86 168h.1M110 203h.1M133 144h.1M105 150h.1M98 163h.1M95 173h.1M140 156h.1M122 167h.1M105 170h.1M100 178h.1M116 157h.1M140 193h.1M117 160h.1M152 176h.1M146 143h.1M146 156h.1M140 201h.1M132 151h.1M109 146h.1M148 181h.1M101 168h.1M111 162h.1M123 184h.1M109 195h.1M105 190h.1M137 151h.1M139 185h.1M93 183h.1M127 182h.1M100 174h.1M162 176h.1M164 177h.1M116 141h.1M139 151h.1M109 155h.1M124 188h.1M127 149h.1M99 154h.1M135 205h.1M114 184h.1M137 139h.1M134 161h.1M153 161h.1M112 160h.1M135 193h.1M115 153h.1M133 156h.1M119 181h.1M140 153h.1M119 143h.1M204 178h.1M214 189h.1M207 185h.1M214 165h.1M213 168h.1M231 183h.1M206 180h.1M252 172h.1M231 189h.1M188 163h.1M216 172h.1M200 189h.1M229 202h.1M210 204h.1M184 173h.1M231 190h.1M207 200h.1M245 197h.1M201 207h.1M225 177h.1M186 168h.1M244 167h.1M212 191h.1M254 186h.1M187 194h.1M223 213h.1M224 203h.1M222 182h.1M206 196h.1M243 168h.1M219 172h.1M197 167h.1M248 183h.1M246 189h.1M197 156h.1M234 178h.1M206 218h.1M218 186h.1M220 212h.1M205 202h.1M233 157h.1M199 184h.1M233 175h.1M197 171h.1M189 162h.1M191 196h.1M247 192h.1M243 205h.1M209 154h.1M225 165h.1M240 189h.1M256 182h.1M187 169h.1M208 159h.1M205 212h.1M180 183h.1M195 205h.1M228 205h.1M212 160h.1M227 175h.1M200 157h.1M221 215h.1M195 172h.1M186 171h.1M243 168h.1M217 151h.1M204 154h.1M191 203h.1M184 176h.1M207 174h.1M196 165h.1M236 187h.1M184 192h.1M222 207h.1M250 171h.1M244 181h.1M208 191h.1M218 203h.1M227 172h.1M198 210h.1M228 163h.1M207 196h.1M222 151h.1M218 164h.1M240 187h.1M205 206h.1M232 165h.1M254 185h.1M207 202h.1M208 187h.1M215 218h.1M222 164h.1M231 211h.1M205 175h.1M188 164h.1M251 195h.1M235 166h.1M223 191h.1M192 155h.1M206 198h.1M212 165h.1M187 195h.1M207 183h.1M241 179h.1M214 159h.1M206 219h.1M246 201h.1M241 181h.1M237 158h.1M235 166h.1M232 164h.1M206 212h.1M207 201h.1M233 161h.1M242 190h.1M223 170h.1M198 153h.1M185 168h.1M202 210h.1M211 192h.1M256 185h.1M223 214h.1M197 181h.1M193 150h.1M188 200h.1M217 184h.1M178 166h.1M222 211h.1M206 165h.1M220 190h.1M204 177h.1M239 171h.1M194 180h.1M216 176h.1M197 179h.1M245 182h.1M245 186h.1M227 159h.1M186 168h.1M230 182h.1M189 178h.1M214 221h.1M247 202h.1M209 206h.1M197 199h.1M255 190h.1M204 203h.1M184 160h.1M201 166h.1M248 200h.1M246 174h.1M207 163h.1M226 186h.1M188 177h.1M192 168h.1M210 162h.1M256 179h.1M230 163h.1M227 155h.1M200 189h.1M226 161h.1M224 198h.1M190 187h.1M213 208h.1M240 168h.1M213 191h.1M229 213h.1M247 202h.1M234 165h.1M214 199h.1M195 159h.1M210 180h.1M208 182h.1M194 201h.1M212 212h.1M218 195h.1M218 184h.1M207 222h.1M207 220h.1M253 171h.1M230 189h.1M195 167h.1M211 164h.1M228 214h.1M251 179h.1M250 180h.1M201 204h.1M198 182h.1M223 163h.1M227 166h.1M197 148h.1M194 195h.1M215 163h.1M251 177h.1M219 193h.1M239 189h.1M205 151h.1M222 158h.1M217 163h.1M235 194h.1M204 184h.1M237 189h.1M218 213h.1M211 153h.1M229 176h.1M242 171h.1M242 195h.1M172 95h.1M167 100h.1M171 96h.1M171 100h.1M178 92h.1M146 136h.1M123 123h.1M129 144h.1M141 126h.1M139 133h.1M140 129h.1M173 171h.1M176 162h.1M173 190h.1M175 179h.1" stroke="#111" stroke-width="6.0" stroke-linecap="round"/>
<path d="M182 53h.1" stroke="#111" stroke-width="6.8" stroke-linecap="round"/>
<path d="M116 34h.1M131 37h.1M74 75h.1M212 39h.1M227 36h.1M268 81h.1M262 96h.1M74 182h.1M114 224h.1M127 220h.1M218 228h.1M262 190h.1M258 174h.1M204 223h.1" stroke="#111" stroke-width="7.4" stroke-linecap="round"/>
<path d="M156 59h.1M167 117h.1M99 212h.1M94 197h.1M85 203h.1" stroke="#111" stroke-width="7.8" stroke-linecap="round"/>
<path d="M90 72h.1M112 73h.1M136 82h.1M160 108h.1M94 87h.1M94 101h.1M120 61h.1M103 88h.1M133 92h.1M143 103h.1M125 113h.1M117 113h.1M138 95h.1M130 58h.1M127 104h.1M127 103h.1M101 90h.1M109 76h.1M134 73h.1M121 56h.1M148 70h.1M110 72h.1M117 82h.1M147 109h.1M162 108h.1M128 88h.1M220 59h.1M235 119h.1M197 83h.1M211 94h.1M216 73h.1M233 109h.1M233 55h.1M198 98h.1M203 70h.1M239 108h.1M199 69h.1M254 89h.1M221 68h.1M220 72h.1M213 82h.1M224 64h.1M217 88h.1M242 68h.1M188 77h.1M228 90h.1M206 94h.1M231 115h.1M223 80h.1M250 93h.1M205 67h.1M203 80h.1M215 69h.1M127 174h.1M141 168h.1M130 197h.1M137 199h.1M119 199h.1M123 200h.1M116 148h.1M119 164h.1M151 174h.1M159 176h.1M100 165h.1M143 201h.1M121 152h.1M123 143h.1M129 147h.1M121 152h.1M99 191h.1M109 177h.1M119 189h.1M88 177h.1M133 213h.1M92 156h.1M148 155h.1M147 193h.1M147 197h.1M106 147h.1M125 200h.1M153 191h.1M84 176h.1M127 147h.1M141 204h.1M125 151h.1M108 195h.1M141 186h.1M205 197h.1M241 185h.1M221 185h.1M221 157h.1M221 206h.1M244 163h.1M196 170h.1M213 169h.1M198 149h.1M200 203h.1M225 197h.1M206 218h.1M234 163h.1M206 184h.1M214 182h.1M230 206h.1M192 181h.1M184 177h.1M228 193h.1M195 192h.1M180 185h.1M231 192h.1M196 205h.1M238 186h.1M230 198h.1M202 158h.1M221 199h.1M238 166h.1" stroke="#eeeeee" stroke-width="4.0" stroke-linecap="round"/>
<path d="M99 79h.1M102 104h.1M106 108h.1M169 90h.1M157 86h.1M108 59h.1M135 115h.1M83 87h.1M82 76h.1M110 72h.1M248 70h.1M242 104h.1M245 104h.1M249 84h.1M194 96h.1M192 59h.1M253 93h.1M193 100h.1M235 70h.1M214 47h.1M201 60h.1M209 104h.1M205 111h.1M185 79h.1M244 75h.1M153 150h.1M103 161h.1M87 171h.1M111 197h.1M136 202h.1M129 191h.1M122 136h.1M118 180h.1M133 166h.1M116 168h.1M157 182h.1M139 146h.1M123 142h.1M147 178h.1M116 165h.1M156 163h.1M107 154h.1M252 178h.1M230 154h.1M224 153h.1M209 158h.1M244 204h.1M189 194h.1M181 187h.1M210 151h.1M176 173h.1" stroke="#d00000" stroke-width="5.6" stroke-linecap="round"/>
<path d="M101 64h.1M154 86h.1M132 64h.1M162 90h.1M135 81h.1M154 117h.1M141 100h.1M102 104h.1M163 104h.1M125 104h.1M84 76h.1M233 61h.1M257 80h.1M193 69h.1M198 70h.1M205 56h.1M209 71h.1M211 97h.1M222 67h.1M235 119h.1M212 102h.1M233 89h.1M224 57h.1M222 71h.1M224 113h.1M230 114h.1M209 107h.1M192 80h.1M191 64h.1M210 51h.1M232 56h.1M142 149h.1M146 173h.1M151 165h.1M151 156h.1M151 162h.1M130 212h.1M152 170h.1M92 183h.1M124 161h.1M112 171h.1M104 157h.1M159 165h.1M127 206h.1M158 185h.1M102 183h.1M97 160h.1M202 163h.1M204 160h.1M213 190h.1M225 213h.1M226 169h.1M220 215h.1M233 201h.1M247 166h.1M218 169h.1M193 156h.1M230 154h.1M199 194h.1M193 160h.1M252 174h.1M134 140h.1" stroke="#d00000" stroke-width="6.6" stroke-linecap="round"/>
<path d="M265 178h.1M236 148h.1" stroke="#d00000" stroke-width="6.8" stroke-linecap="round"/>
<path d="M101 30h.1M144 40h.1M112 45h.1M70 62h.1M92 58h.1M82 100h.1M201 41h.1M242 33h.1M247 62h.1M272 67h.1M259 105h.1M70 198h.1M82 156h.1M90 210h.1M100 228h.1M141 216h.1M240 214h.1M232 234h.1M264 205h.1M257 161h.1M194 218h.1" stroke="#d00000" stroke-width="7.4" stroke-linecap="round"/>
<path d="M95 89h.1M114 80h.1M125 48h.1M108 65h.1M108 72h.1M86 95h.1M158 104h.1M159 81h.1M154 80h.1M145 114h.1M169 94h.1M154 113h.1M155 118h.1M149 74h.1M167 96h.1M151 86h.1M185 81h.1M210 70h.1M225 103h.1M187 72h.1M208 109h.1M227 83h.1M206 57h.1M242 76h.1M212 112h.1M196 59h.1M212 80h.1M196 57h.1M214 73h.1M134 159h.1M143 182h.1M108 163h.1M147 169h.1M138 161h.1M149 156h.1M95 185h.1M115 153h.1M156 153h.1M146 193h.1M85 173h.1M139 171h.1M109 146h.1M126 155h.1M202 167h.1M211 156h.1M202 206h.1M204 177h.1M251 176h.1M220 174h.1M184 164h.1M189 157h.1M240 185h.1M254 173h.1M218 158h.1M112 130h.1" stroke="#d00000" stroke-width="7.6" stroke-linecap="round"/>
<path d="M153 129h.1M192 54h.1M213 124h.1M229 223h.1" stroke="#d00000" stroke-width="7.8" stroke-linecap="round"/>
<path d="M165,124 L171,129 L176,134" fill="none" stroke="#40c8c8" stroke-width="6" stroke-linejoin="round" stroke-linecap="round"/>
<path d="M175,147 L176,134" fill="none" stroke="#40c8c8" stroke-width="6" stroke-linejoin="round" stroke-linecap="round"/>
<path d="M176,134 L182,129" fill="none" stroke="#40c8c8" stroke-width="6" stroke-linejoin="round" stroke-linecap="round"/>
<path d="M195,127 L211,131" fill="none" stroke="#40c8c8" stroke-width="6" stroke-linejoin="round" stroke-linecap="round"/>
<path d="M224,137 L232,142 L244,135" fill="none" stroke="#40c8c8" stroke-width="6" stroke-linejoin="round" stroke-linecap="round"/>
<path d="M232,142 L236,150" fill="none" stroke="#40c8c8" stroke-width="6" stroke-linejoin="round" stroke-linecap="round"/>
<path d="M211,125 L212,106" fill="none" stroke="#40c8c8" stroke-width="6" stroke-linejoin="round" stroke-linecap="round"/>
<circle cx="188.5" cy="124.5" r="6.0" fill="#bfeaea" stroke="#40c8c8" stroke-width="4.5"/>
<circle cx="217.0" cy="132.6" r="6.0" fill="#bfeaea" stroke="#40c8c8" stroke-width="4.5"/>
<circle cx="176.0" cy="134.0" r="3.2" fill="#1010e0"/>
<circle cx="232.0" cy="142.0" r="3.2" fill="#1010e0"/>
<path d="M803 106L802 105M803 106L806 104M789 75L789 75M789 75L788 72M784 96L783 95M784 96L782 99M782 64L781 63M782 64L782 62M769 81L769 83M769 81L770 83M813 92L811 89M813 92L810 95M770 72L769 71M770 72L770 74M772 76L772 74M772 76L772 74M765 117L763 116M765 117L762 116M777 93L776 90M777 93L775 90M760 62L760 58M760 62L759 68M790 66L792 65M790 66L788 62M808 110L809 107M808 110L813 107M795 118L793 116M795 118L793 120M797 110L796 107M797 110L798 106M797 104L798 106M797 104L798 103M772 91L770 90M772 91L774 91M774 119L776 120M774 119L773 121M775 113L774 113M775 113L777 114M763 116L762 116M809 86L808 86M809 86L809 89M781 119L782 119M781 119L783 116M794 88L794 89M794 88L793 89M751 76L749 75M751 76L754 77M792 65L788 61M814 104L814 105M814 104L813 107M775 90L776 90M775 90L774 91M788 95L786 92M759 68L759 68M759 68L759 69M776 120L777 119M785 58L783 55M785 58L782 56M802 105L806 104M788 72L789 75M742 90L741 90M742 90L742 92M805 70L804 74M805 70L802 75M768 104L769 102M768 104L767 101M735 79L736 77M735 79L739 75M747 101L749 102M747 101L748 103M748 103L749 102M765 56L764 57M765 56L770 55M736 77L739 75M785 106L786 106M785 106L788 107M742 77L741 78M742 77L741 75M735 85L734 85M735 85L741 85M798 106L796 107M809 107L813 107M806 104L808 102M806 104L804 101M773 69L771 69M773 69L773 71M741 85L745 83M741 85L744 88M782 81L784 81M782 81L784 83M776 63L776 60M776 63L773 62M784 83L784 81M741 98L740 101M741 98L744 97M752 85L754 83M752 85L753 87M754 95L752 97M754 95L750 95M785 110L786 111M785 110L787 110M793 71L793 71M793 71L792 72M768 91L768 91M768 91L770 90M767 61L770 63M767 61L764 57M794 70L793 71M741 66L742 68M741 66L745 67M752 68L752 68M752 68L751 69M777 86L777 87M777 86L781 86M759 99L759 99M759 99L759 100M814 105L813 107M769 90L770 90M782 56L783 55M801 79L803 81M801 79L799 82M784 73L784 77M784 73L781 75M741 75L739 75M804 101L808 102M767 88L766 86M750 95L749 94M750 95L752 97M739 73L739 75M749 94L747 96M766 86L766 84M796 81L799 82M796 81L797 84M787 122L787 121M787 122L791 121M788 109L790 110M788 109L788 107M794 89L793 89M763 86L766 84M800 72L800 69M800 72L802 75M777 87L776 90M758 69L758 69M758 69L759 69M774 71L773 71M774 71L773 73M769 102L767 101M810 95L811 96M810 95L809 94M745 83L746 80M788 62L788 61M788 62L789 59M758 69L759 69M789 102L792 100M789 102L792 106M742 92L741 93M808 86L809 89M792 82L793 82M792 82L789 79M781 63L782 62M770 55L775 54M783 116L782 119M748 89L749 87M748 89L749 86M773 82L773 80M773 82L771 82M793 120L791 121M792 87L792 87M792 87L794 85M796 100L798 103M796 100L792 100M767 101L765 98M815 98L815 100M815 98L811 96M793 116L790 116M788 112L786 111M788 112L787 110M794 96L796 95M798 67L800 64M798 67L800 69M796 95L799 95M749 111L750 112M749 111L747 107M744 97L744 97M744 97L745 96M769 71L771 69M774 113L777 114M788 107L790 110M774 101L773 97M774 101L770 99M761 72L760 71M761 72L759 69M775 54L777 56M775 54L775 57M747 107L750 103M799 82L797 84M790 110L787 110M746 80L745 76M772 74L772 74M772 74L773 73M770 116L773 117M759 99L759 100M802 75L804 74M787 110L786 111M788 81L786 81M788 81L789 79M786 81L784 81M778 114L777 114M778 114L778 112M800 98L801 98M800 98L799 95M771 69L773 71M765 79L764 78M765 79L762 79M760 58L764 57M771 65L770 63M771 65L773 62M770 74L772 74M770 99L773 97M741 70L742 68M764 78L763 77M766 112L766 110M766 112L764 108M762 116L761 113M811 89L809 89M791 121L790 119M757 98L757 99M766 65L770 63M762 79L763 77M797 84L799 85M779 70L781 75M803 81L805 84M745 75L745 76M745 75L745 74M745 67L742 68M754 83L753 87M754 77L749 75M753 70L752 68M784 77L781 75M764 108L761 108M764 108L766 110M761 108L761 113M759 113L761 113M783 95L782 99M771 82L770 83M771 82L769 83M777 56L775 57M790 119L790 116M747 63L749 60M747 63L750 67M789 59L788 61M753 87L749 86M780 63L782 62M802 90L801 93M802 90L799 95M765 74L763 77M769 83L769 83M769 83L770 83M801 93L799 95M773 73L772 74M752 103L750 103M750 67L751 69M782 99L785 100M786 92L787 88M792 73L792 72M809 94L807 95M768 83L769 83M761 91L766 91M771 78L773 80M749 87L749 86M747 96L745 96M794 77L793 82M770 83L769 83M745 96L744 97M745 74L745 76M752 68L751 69M778 97L778 97M838 95L839 92M838 95L837 92M893 99L892 99M893 99L891 99M858 49L859 48M858 49L854 50M892 65L892 67M892 65L888 66M877 100L876 99M877 100L875 102M841 101L842 99M841 101L844 104M844 86L843 87M844 86L846 88M831 94L833 95M831 94L828 94M834 73L835 72M834 73L836 70M838 85L839 84M838 85L836 81M831 78L831 78M831 78L830 81M890 103L890 104M890 103L890 105M858 121L860 120M858 121L861 118M896 101L896 101M896 101L895 101M841 90L839 90M841 90L839 92M865 106L866 107M865 106L863 107M843 82L847 85M855 66L855 66M855 66L856 65M875 111L875 112M875 111L876 111M841 57L843 58M841 57L844 59M825 89L825 88M825 89L824 92M867 50L870 48M867 50L871 51M875 102L876 99M878 89L878 90M878 89L876 87M887 60L888 66M870 60L869 62M870 60L866 58M855 66L853 67M871 107L873 109M871 107L871 104M885 101L884 104M885 101L886 97M891 106L890 105M891 106L890 104M857 106L856 107M857 106L856 108M888 96L886 97M888 96L890 94M855 83L855 83M855 83L856 87M863 98L864 98M863 98L860 98M866 71L868 71M866 71L863 70M888 87L889 89M888 87L891 90M844 110L844 114M844 110L839 111M847 94L848 91M847 94L852 93M867 58L866 58M867 58L868 54M866 58L863 59M893 74L893 72M893 74L890 70M847 117L845 118M847 117L844 114M826 75L826 74M826 75L825 78M853 59L854 60M853 59L853 57M826 98L828 98M826 98L828 100M862 56L863 59M888 67L888 66M888 67L886 68M861 118L860 120M861 118L860 116M844 104L848 101M839 90L839 92M870 48L871 49M869 93L869 96M869 93L866 92M855 83L856 87M866 80L868 80M866 80L864 78M870 75L871 72M870 75L869 78M839 111L838 113M839 111L840 107M891 90L892 91M891 90L892 91M845 118L843 118M826 74L828 71M878 61L877 63M878 61L879 58M873 59L877 58M873 59L872 56M843 87L846 88M845 73L847 71M845 73L850 72M858 110L859 110M858 110L860 111M847 85L849 84M847 85L848 87M890 92L890 94M880 79L878 77M880 79L883 78M860 90L859 90M860 90L863 91M887 75L885 71M887 75L887 71M855 105L856 107M869 54L868 54M869 54L872 56M836 100L834 97M836 100L832 97M878 70L877 70M878 70L875 72M855 72L855 71M855 72L854 76M877 111L876 111M877 111L875 112M856 87L857 87M869 78L868 80M845 63L844 62M845 63L846 66M838 73L837 75M838 73L840 71M844 62L844 59M875 74L875 72M875 74L873 72M853 57L854 60M873 77L875 78M833 63L834 62M833 63L832 64M854 50L854 51M854 50L852 49M849 64L849 64M849 64L849 68M896 101L895 101M872 83L871 84M872 83L868 80M859 68L862 71M859 68L863 70M870 65L872 66M870 65L869 62M858 96L860 98M858 96L856 99M886 97L884 95M839 84L836 81M825 88L824 92M893 72L890 70M867 121L867 120M867 121L868 119M855 54L854 51M836 70L835 72M836 70L836 67M864 98L860 98M881 96L884 95M830 67L833 66M830 67L832 64M857 87L859 90M834 62L836 61M832 88L828 85M832 88L830 83M881 83L886 82M876 87L878 90M844 59L843 58M844 59L847 58M857 116L857 117M857 116L854 115M847 80L848 76M847 80L851 80M857 117L854 115M851 80L848 76M891 99L892 99M835 76L837 75M892 91L892 91M849 64L849 68M876 92L877 93M876 92L873 91M828 100L827 102M828 100L828 98M876 111L875 112M868 71L868 68M854 60L855 59M863 107L861 106M852 105L852 105M892 67L890 70M832 64L830 62M840 71L842 69M830 81L830 83M877 63L879 58M866 67L865 66M866 67L868 68M860 98L856 99M859 110L860 111M893 82L886 82M872 69L872 66M872 69L868 68M865 66L862 65M840 107L837 105M877 70L875 72M858 58L855 59M846 88L847 89M846 88L848 87M868 119L867 120M861 84L865 83M836 67L833 66M850 72L850 72M850 72L851 70M875 72L873 72M878 90L877 93M877 58L879 58M884 95L886 93M837 105L834 108M872 56L873 54M849 108L852 105M848 87L849 84M863 70L862 71M880 114L879 113M880 114L878 113M830 83L828 85M824 81L825 78M896 95L894 96M859 107L861 106M833 95L832 97M890 105L890 104M847 71L849 70M824 92L824 93M834 97L832 97M870 111L868 112M870 111L873 109M834 109L834 108M834 109L830 106M841 116L843 118M841 116L844 114M878 77L875 78M885 71L887 71M885 71L887 70M873 109L875 109M866 92L863 91M849 70L851 70M849 70L849 68M851 70L850 72M834 108L830 106M852 49L849 49M856 108L856 107M832 103L830 106M888 66L886 68M879 113L878 113M858 113L860 111M842 69L846 66M871 49L871 51M849 49L847 48M870 101L871 104M870 101L869 96M873 72L871 72M873 54L871 51M866 76L864 78M890 70L887 70M890 70L887 71M887 71L887 70M848 91L847 89M884 104L889 106M807 173L807 175M807 173L810 174M785 167L783 165M785 167L782 171M794 156L798 156M794 156L798 152M766 191L766 189M766 191L767 189M776 140L776 140M776 140L775 142M777 201L777 200M777 201L778 202M752 171L751 170M752 171L754 174M783 201L781 203M783 201L782 204M744 189L745 190M744 189L743 191M815 184L813 188M815 184L810 180M776 203L778 202M773 157L774 158M773 157L772 159M799 191L798 191M799 191L797 191M801 201L799 200M801 201L802 199M805 184L805 183M805 184L804 183M747 159L745 160M747 159L750 160M807 179L807 179M807 179L806 179M743 156L744 153M743 156L744 159M769 204L768 204M769 204L770 206M755 174L754 174M755 174L755 178M772 207L770 206M793 169L792 170M793 169L792 166M744 159L745 160M761 152L758 153M761 152L757 152M786 175L787 176M786 175L786 172M785 190L785 190M785 190L785 186M753 182L754 184M753 182L755 180M771 155L771 153M756 189L759 189M756 189L760 188M804 161L802 156M804 161L799 162M769 147L771 147M769 147L770 148M778 171L782 171M778 171L777 175M743 165L743 165M743 165L743 166M744 174L744 175M744 174L745 172M746 182L750 185M746 182L742 181M782 204L782 204M782 204L781 203M805 183L804 183M803 168L804 168M803 168L802 171M793 203L788 203M793 203L797 204M777 175L776 175M777 175L780 176M756 162L752 163M756 162L755 156M783 165L780 167M745 190L743 191M798 191L797 190M807 175L804 176M771 160L772 159M771 160L774 159M789 179L790 178M789 179L787 176M763 173L763 173M763 173L763 174M772 201L775 200M779 178L780 176M779 178L776 179M740 171L739 171M740 171L738 170M748 153L747 153M748 153L746 154M754 174L755 178M805 195L804 196M805 195L808 192M804 178L804 176M804 178L806 179M802 171L803 173M755 180L755 178M793 174L792 174M793 174L794 177M767 144L767 144M773 145L772 143M773 145L771 147M782 171L786 172M743 165L743 166M774 159L774 158M774 159L772 159M742 170L741 172M739 171L738 170M795 177L796 177M795 177L794 177M775 166L775 167M775 166L777 166M752 151L750 151M752 151L749 150M811 157L812 159M811 157L808 152M759 145L760 146M759 145L758 144M761 177L760 177M761 177L758 177M761 167L762 166M761 167L765 167M797 175L796 177M808 152L802 156M770 188L772 189M770 188L767 187M818 176L820 173M818 176L813 170M799 183L800 181M799 183L797 181M803 173L804 176M755 178L758 177M789 151L790 147M789 151L792 148M786 172L787 176M769 174L769 173M769 174L768 172M767 165L765 167M767 165L764 164M776 140L775 142M761 196L761 196M761 196L764 197M779 188L778 189M779 188L779 184M813 188L813 191M813 188L812 191M739 184L738 184M739 184L742 181M812 191L813 191M812 191L810 190M810 180L807 179M801 156L802 156M801 156L798 156M760 146L758 144M748 194L748 194M748 194L750 194M746 194L745 192M746 194L748 194M759 199L761 196M785 186L785 183M785 186L785 190M778 189L776 192M780 151L779 153M780 151L783 148M782 142L781 145M752 163L748 164M752 163L750 160M777 166L775 167M745 151L744 153M745 151L746 154M799 162L797 160M779 184L778 183M779 184L777 184M769 192L767 189M768 204L770 206M790 147L792 148M744 153L746 154M750 151L749 150M781 203L782 204M763 204L763 206M768 172L769 173M770 148L771 147M766 189L767 189M807 179L806 179M742 181L742 177M791 183L794 182M791 183L795 184M758 144L757 145M781 158L779 153M781 158L784 161M774 170L775 167M775 200L777 200M813 170L811 167M813 170L810 174M794 177L796 177M796 180L797 180M796 180L797 181M772 159L774 158M787 157L787 155M787 157L784 161M804 191L804 189M804 191L808 192M800 181L801 179M762 186L760 188M762 186L764 183M758 177L760 177M760 172L763 173M748 164L744 165M764 183L767 187M765 155L767 158M765 155L766 151M780 167L778 167M767 189L767 187M773 190L772 189M773 190L774 188M770 196L773 197M794 188L797 190M794 188L797 191M750 194L750 194M771 153L769 153M779 208L782 204M768 176L770 179M766 160L767 158M748 189L745 192M764 171L763 173M776 179L775 182M778 183L777 184M799 195L797 191M751 158L752 157M751 158L750 160M795 184L794 182M795 184L797 181M764 197L761 196M797 180L797 181M797 145L796 148M797 145L792 148M763 174L763 173M797 202L799 200M797 202L797 204M758 153L757 152M785 148L783 148M802 199L799 200M765 167L762 166M759 189L760 188M783 148L781 145M776 192L774 193M774 193L773 197M791 141L792 148M796 148L792 148M772 189L774 188M775 182L777 184M808 192L810 190M772 143L771 147M790 163L792 166M742 177L744 175M815 165L811 167M815 165L810 163M755 156L752 157M747 153L746 154M797 191L797 190M810 163L811 167M810 163L812 159M789 195L792 198M763 143L767 144M792 170L792 166M798 188L797 190M863 199L864 198M863 199L865 199M853 186L852 187M853 186L853 185M840 175L842 175M840 175L839 178M842 159L840 159M842 159L845 157M832 154L830 151M832 154L833 157M846 179L847 182M846 179L849 180M894 174L896 174M894 174L896 173M863 187L861 187M863 187L860 188M862 177L863 176M862 177L861 179M879 185L879 186M879 185L878 187M848 199L848 199M848 199L847 198M881 193L881 191M881 193L879 193M871 169L871 167M871 169L869 171M874 207L872 205M874 207L870 205M860 188L861 187M866 184L868 184M866 184L868 182M898 170L898 170M898 170L897 169M863 191L864 193M863 191L861 193M848 142L853 139M848 142L854 141M851 170L849 170M851 170L851 172M890 182L893 183M890 182L887 182M850 180L849 180M850 180L847 182M835 193L834 189M835 193L838 196M888 174L890 175M888 174L891 175M832 182L832 180M832 182L831 180M896 173L896 174M896 173L895 172M870 189L867 191M870 189L873 187M862 168L861 169M862 168L864 167M866 198L865 199M866 198L864 198M852 152L851 156M852 152L849 157M836 162L836 162M836 162L837 162M848 168L848 165M848 168L849 170M893 163L892 160M893 163L889 162M868 170L869 171M868 170L867 168M889 162L889 163M889 162L892 160M852 195L852 195M852 195L853 196M891 175L890 175M854 141L853 139M854 141L856 139M847 188L844 189M847 188L844 189M844 190L844 189M844 190L844 189M860 172L861 169M860 172L856 172M844 189L844 189M840 159L845 157M852 195L853 196M843 171L846 172M843 171L842 175M895 158L892 160M895 158L891 157M827 160L827 162M827 160L825 165M869 180L870 181M869 180L868 182M852 199L852 202M834 182L835 182M845 149L844 147M845 149L838 150M896 167L895 167M896 167L897 169M849 180L847 182M868 199L868 200M868 199L869 199M880 164L878 164M880 164L881 167M890 193L888 194M890 193L894 194M856 139L853 139M885 177L885 179M838 196L840 196M895 176L895 176M896 183L898 181M896 183L893 183M890 158L891 157M890 158L889 158M846 172L847 172M846 172L848 173M875 183L876 182M875 183L877 187M857 148L860 150M833 174L834 176M833 174L830 178M832 180L831 180M864 198L865 199M846 160L847 162M846 160L845 157M867 168L869 167M831 188L834 189M831 188L829 184M852 187L853 185M866 146L864 142M866 146L867 141M868 184L868 182M885 194L884 196M885 194L888 194M861 179L858 181M849 157L848 156M849 157L851 156M831 180L830 178M878 187L878 188M878 187L877 187M860 150L866 151M847 162L849 164M864 167L864 167M864 167L864 166M889 163L892 160M854 159L852 160M854 159L853 162M886 188L887 191M886 188L887 182M897 169L898 170M856 205L858 206M856 205L852 202M893 170L895 172M888 155L888 154M888 155L886 153M872 140L867 141M872 140L875 147M889 159L889 158M836 169L838 164M836 169L841 167M865 156L866 154M865 156L862 157M836 156L833 157M851 156L848 156M836 162L837 162M825 165L827 162M825 165L828 168M895 172L896 174M871 167L869 167M858 166L859 165M858 166L861 169M876 176L880 175M876 176L879 179M879 193L881 191M872 205L872 203M872 205L870 205M875 196L877 195M875 196L873 197M869 199L870 199M859 165L861 163M880 175L880 175M828 171L825 175M828 171L828 168M864 193L861 193M864 166L864 167M875 187L873 187M875 187L877 187M856 172L855 171M856 172L854 171M854 171L855 171M882 154L886 153M882 154L883 150M875 158L875 160M875 158L877 157M847 198L848 199M881 171L881 167M834 189L835 186M864 160L862 157M891 157L889 158M873 187L877 187M878 148L875 147M878 148L879 144M879 179L876 182M879 179L880 175M875 147L879 144M837 177L839 178M837 177L834 176M829 182L829 183M829 182L827 182M901 175L902 174M901 175L896 174M861 183L858 181M862 164L861 163M835 186L835 182M849 170L848 173M887 158L889 158M848 165L848 165M848 165L849 164M864 206L870 205M864 206L868 200M858 200L859 200M858 200L859 199M861 193L862 194M849 164L848 165M894 194L895 191M845 157L848 156M886 153L888 154M866 151L866 154M872 203L870 205M839 147L840 144M839 147L838 150M871 164L872 161M871 164L874 165M870 181L868 182M867 165L868 164M875 160L877 157M895 191L893 188M883 161L880 161M883 161L883 165M853 162L852 160M860 140L864 142M874 165L872 161M887 182L885 179M859 200L859 199M838 150L844 147M853 174L851 172M830 178L828 179M883 148L883 150M848 173L848 173M848 173L847 172M859 159L857 159M829 184L829 183M840 144L844 147M876 154L877 157M838 164L837 162M848 173L847 172M883 165L881 167M867 141L864 142M798 129L796 135M798 129L787 133M796 135L787 133M776 131L780 134M776 131L782 135M773 125L766 133M784 130L787 133M784 130L782 135M787 133L782 135M780 134L782 135M760 127L766 133M766 133L771 139M862 136L868 133M862 136L869 132M869 128L869 132M869 128L868 133M873 134L869 132M873 134L868 133M869 132L868 133M822 90L817 90M822 90L819 95M818 77L817 75M818 77L823 83M817 90L819 95M828 161L825 162M828 161L827 163M827 163L825 162M822 174L828 174M822 174L825 167M822 164L825 167" fill="none" stroke="#111" stroke-width="3.5" stroke-linecap="round"/>
<path d="M789 75h.1M784 96h.1M769 81h.1M813 92h.1M772 76h.1M777 93h.1M760 62h.1M790 66h.1M808 110h.1M797 104h.1M772 91h.1M774 119h.1M809 86h.1M794 88h.1M751 76h.1M792 65h.1M775 90h.1M759 68h.1M785 58h.1M788 72h.1M742 90h.1M805 70h.1M735 79h.1M747 101h.1M765 56h.1M785 106h.1M742 77h.1M735 85h.1M809 107h.1M773 69h.1M789 75h.1M782 81h.1M776 63h.1M784 83h.1M741 98h.1M752 85h.1M785 110h.1M794 70h.1M741 66h.1M777 86h.1M759 99h.1M814 105h.1M769 90h.1M768 91h.1M741 75h.1M804 101h.1M767 88h.1M750 95h.1M739 73h.1M749 94h.1M766 86h.1M787 122h.1M788 109h.1M794 89h.1M763 86h.1M800 72h.1M777 87h.1M758 69h.1M774 71h.1M769 102h.1M788 62h.1M758 69h.1M789 102h.1M770 90h.1M813 107h.1M741 90h.1M792 82h.1M781 63h.1M748 89h.1M793 120h.1M796 100h.1M752 97h.1M815 98h.1M793 116h.1M796 95h.1M744 97h.1M769 71h.1M781 86h.1M788 107h.1M761 72h.1M747 107h.1M799 82h.1M772 74h.1M778 80h.1M770 116h.1M759 99h.1M787 110h.1M786 81h.1M778 114h.1M800 98h.1M759 69h.1M771 69h.1M770 74h.1M770 99h.1M749 102h.1M764 78h.1M800 69h.1M801 98h.1M766 112h.1M762 116h.1M796 107h.1M757 98h.1M789 79h.1M766 65h.1M762 79h.1M797 84h.1M779 70h.1M745 75h.1M753 70h.1M764 108h.1M777 114h.1M761 108h.1M773 97h.1M759 113h.1M783 95h.1M778 124h.1M777 56h.1M790 119h.1M739 75h.1M747 63h.1M753 87h.1M780 63h.1M775 57h.1M802 90h.1M790 116h.1M742 68h.1M765 98h.1M786 68h.1M765 74h.1M769 83h.1M766 110h.1M801 93h.1M773 73h.1M752 103h.1M792 100h.1M750 67h.1M782 99h.1M792 87h.1M802 113h.1M783 55h.1M786 92h.1M772 74h.1M750 112h.1M792 73h.1M809 94h.1M794 85h.1M792 72h.1M766 91h.1M798 103h.1M749 87h.1M781 75h.1M785 100h.1M808 102h.1M759 68h.1M749 75h.1M760 71h.1M794 77h.1M770 83h.1M782 62h.1M782 119h.1M787 88h.1M745 74h.1M807 95h.1M792 90h.1M752 68h.1M766 84h.1M751 69h.1M793 82h.1M792 106h.1M745 76h.1M778 97h.1M741 93h.1M770 63h.1M763 77h.1M811 96h.1M786 111h.1M809 89h.1M893 99h.1M858 49h.1M892 65h.1M877 100h.1M844 86h.1M831 94h.1M838 85h.1M831 78h.1M858 121h.1M896 101h.1M841 90h.1M865 106h.1M855 66h.1M841 57h.1M878 89h.1M887 60h.1M855 66h.1M871 107h.1M885 101h.1M857 106h.1M888 96h.1M855 83h.1M893 74h.1M853 59h.1M826 98h.1M862 56h.1M888 67h.1M861 118h.1M870 48h.1M866 80h.1M839 111h.1M891 90h.1M845 118h.1M878 61h.1M873 59h.1M889 89h.1M858 110h.1M890 92h.1M860 90h.1M887 75h.1M855 105h.1M836 100h.1M877 111h.1M856 87h.1M869 78h.1M845 63h.1M838 73h.1M844 62h.1M896 101h.1M872 83h.1M858 96h.1M886 97h.1M825 88h.1M893 72h.1M867 121h.1M836 70h.1M864 98h.1M857 87h.1M834 62h.1M832 88h.1M881 83h.1M883 78h.1M857 117h.1M851 80h.1M891 99h.1M835 76h.1M892 91h.1M839 92h.1M849 64h.1M876 92h.1M828 98h.1M836 61h.1M854 60h.1M863 107h.1M832 64h.1M840 71h.1M866 67h.1M837 75h.1M859 110h.1M872 69h.1M868 54h.1M863 59h.1M865 66h.1M840 107h.1M856 99h.1M858 58h.1M846 88h.1M895 101h.1M854 76h.1M836 67h.1M850 72h.1M875 72h.1M878 90h.1M877 58h.1M884 95h.1M872 56h.1M866 107h.1M830 62h.1M849 108h.1M848 87h.1M892 99h.1M863 70h.1M833 66h.1M862 71h.1M860 120h.1M837 92h.1M856 65h.1M848 101h.1M862 65h.1M896 95h.1M859 107h.1M860 116h.1M847 71h.1M824 92h.1M870 111h.1M841 116h.1M886 93h.1M878 77h.1M885 71h.1M849 70h.1M849 84h.1M851 70h.1M877 93h.1M843 118h.1M834 108h.1M879 58h.1M854 115h.1M852 49h.1M832 103h.1M879 104h.1M872 66h.1M868 112h.1M858 113h.1M828 85h.1M849 68h.1M871 49h.1M849 49h.1M832 97h.1M835 72h.1M870 101h.1M868 68h.1M854 51h.1M873 72h.1M892 91h.1M873 54h.1M866 76h.1M890 70h.1M887 71h.1M890 104h.1M830 106h.1M871 51h.1M824 93h.1M844 114h.1M873 91h.1M875 112h.1M831 78h.1M875 78h.1M847 48h.1M855 71h.1M886 68h.1M884 104h.1M853 120h.1M836 81h.1M859 90h.1M828 71h.1M847 89h.1M807 173h.1M794 156h.1M766 191h.1M776 140h.1M752 171h.1M783 201h.1M744 189h.1M773 157h.1M801 201h.1M805 184h.1M807 179h.1M743 156h.1M755 174h.1M772 207h.1M793 169h.1M761 152h.1M753 182h.1M771 155h.1M756 189h.1M804 161h.1M743 165h.1M744 174h.1M782 204h.1M803 168h.1M804 183h.1M777 175h.1M756 162h.1M783 165h.1M745 190h.1M788 203h.1M807 175h.1M771 160h.1M789 179h.1M772 201h.1M779 178h.1M740 171h.1M748 153h.1M754 174h.1M780 176h.1M804 178h.1M802 171h.1M793 174h.1M767 144h.1M782 171h.1M743 165h.1M774 159h.1M742 170h.1M739 171h.1M738 170h.1M775 166h.1M752 151h.1M739 174h.1M811 157h.1M759 145h.1M761 177h.1M797 175h.1M808 152h.1M818 176h.1M803 173h.1M789 151h.1M786 172h.1M769 174h.1M776 140h.1M813 188h.1M754 184h.1M739 184h.1M812 191h.1M801 156h.1M748 194h.1M775 142h.1M778 189h.1M782 142h.1M777 166h.1M744 153h.1M750 151h.1M787 176h.1M804 186h.1M763 204h.1M770 148h.1M766 189h.1M742 181h.1M758 144h.1M781 158h.1M774 170h.1M775 200h.1M813 170h.1M762 186h.1M804 176h.1M775 167h.1M760 172h.1M757 145h.1M764 183h.1M780 167h.1M767 189h.1M773 190h.1M770 196h.1M794 188h.1M750 194h.1M771 153h.1M768 176h.1M748 194h.1M804 189h.1M785 190h.1M748 189h.1M745 172h.1M776 179h.1M778 183h.1M799 195h.1M751 158h.1M795 184h.1M774 158h.1M797 145h.1M763 174h.1M787 155h.1M810 174h.1M785 148h.1M769 173h.1M784 161h.1M759 189h.1M797 181h.1M758 183h.1M776 192h.1M774 193h.1M791 141h.1M781 145h.1M796 148h.1M772 189h.1M775 182h.1M792 174h.1M798 156h.1M804 168h.1M772 143h.1M790 163h.1M742 177h.1M779 153h.1M815 165h.1M773 197h.1M741 172h.1M796 177h.1M767 158h.1M755 156h.1M747 153h.1M797 160h.1M801 179h.1M797 191h.1M767 187h.1M797 204h.1M766 151h.1M798 152h.1M810 163h.1M743 191h.1M770 179h.1M746 154h.1M760 177h.1M763 206h.1M744 175h.1M789 195h.1M777 184h.1M750 160h.1M782 204h.1M820 173h.1M748 197h.1M750 194h.1M792 170h.1M762 166h.1M812 159h.1M792 148h.1M792 198h.1M778 202h.1M797 190h.1M757 195h.1M774 188h.1M804 196h.1M763 173h.1M799 200h.1M757 152h.1M764 164h.1M811 167h.1M749 150h.1M863 199h.1M853 186h.1M840 175h.1M832 154h.1M846 179h.1M894 174h.1M863 187h.1M862 177h.1M879 185h.1M848 199h.1M871 169h.1M874 207h.1M866 184h.1M898 170h.1M861 187h.1M863 191h.1M848 142h.1M851 170h.1M890 182h.1M850 180h.1M832 182h.1M896 173h.1M870 189h.1M866 198h.1M852 152h.1M836 162h.1M848 168h.1M893 163h.1M868 170h.1M852 195h.1M891 175h.1M854 141h.1M847 188h.1M844 190h.1M860 172h.1M844 189h.1M840 159h.1M852 195h.1M843 171h.1M827 160h.1M852 199h.1M834 182h.1M896 167h.1M849 180h.1M880 164h.1M890 193h.1M856 139h.1M885 177h.1M895 176h.1M896 183h.1M890 158h.1M846 172h.1M857 148h.1M833 174h.1M832 180h.1M864 198h.1M831 188h.1M852 187h.1M866 146h.1M868 184h.1M885 194h.1M861 179h.1M831 180h.1M878 187h.1M860 150h.1M847 162h.1M854 159h.1M897 169h.1M893 170h.1M872 140h.1M836 169h.1M852 202h.1M895 167h.1M851 156h.1M836 162h.1M825 165h.1M895 172h.1M871 167h.1M884 196h.1M876 176h.1M879 193h.1M875 196h.1M833 157h.1M863 176h.1M869 199h.1M859 165h.1M880 175h.1M864 166h.1M861 169h.1M854 171h.1M882 154h.1M875 158h.1M864 167h.1M881 171h.1M864 160h.1M891 157h.1M834 163h.1M865 199h.1M878 148h.1M829 182h.1M861 183h.1M862 164h.1M827 162h.1M847 182h.1M849 170h.1M887 158h.1M888 194h.1M881 191h.1M864 206h.1M858 200h.1M853 139h.1M844 188h.1M857 190h.1M861 193h.1M894 194h.1M845 157h.1M886 153h.1M866 151h.1M872 203h.1M895 176h.1M839 147h.1M879 186h.1M888 154h.1M870 205h.1M871 164h.1M858 181h.1M834 176h.1M844 191h.1M870 181h.1M867 165h.1M875 160h.1M869 171h.1M883 161h.1M866 154h.1M830 151h.1M868 164h.1M860 140h.1M874 165h.1M876 182h.1M862 194h.1M873 197h.1M880 161h.1M838 150h.1M853 174h.1M830 178h.1M862 157h.1M883 148h.1M829 184h.1M828 168h.1M853 185h.1M840 144h.1M883 150h.1M876 154h.1M835 182h.1M896 174h.1M868 182h.1M847 172h.1M867 191h.1M841 167h.1M892 160h.1M883 165h.1M848 156h.1M878 164h.1M877 195h.1M852 160h.1M828 179h.1M829 183h.1M877 157h.1M844 147h.1M889 158h.1M879 144h.1M881 167h.1M872 161h.1M864 142h.1M825 175h.1M776 131h.1M787 133h.1M780 134h.1M760 127h.1M853 127h.1M869 132h.1M822 90h.1M817 75h.1M817 90h.1M819 95h.1M825 162h.1M822 174h.1M822 164h.1M825 167h.1M828 174h.1" stroke="#111" stroke-width="6.0" stroke-linecap="round"/>
<path d="M885 214h.1" stroke="#111" stroke-width="6.8" stroke-linecap="round"/>
<path d="M762 44h.1M776 46h.1M728 84h.1M731 96h.1M850 41h.1M862 38h.1M904 74h.1M900 87h.1M733 170h.1M731 182h.1M771 219h.1M785 216h.1M857 214h.1M871 216h.1M905 162h.1M907 175h.1" stroke="#111" stroke-width="7.2" stroke-linecap="round"/>
<path d="M892 124h.1" stroke="#111" stroke-width="7.8" stroke-linecap="round"/>
<path d="M795 118h.1M775 113h.1M781 119h.1M814 104h.1M748 103h.1M736 77h.1M798 106h.1M754 95h.1M777 119h.1M796 81h.1M783 116h.1M773 82h.1M794 96h.1M775 54h.1M790 110h.1M774 91h.1M773 117h.1M784 77h.1M771 82h.1M789 59h.1M815 100h.1M744 88h.1M793 89h.1M768 83h.1M788 61h.1M761 91h.1M804 74h.1M745 96h.1M744 97h.1M773 80h.1M778 112h.1M776 90h.1M799 95h.1M759 100h.1M843 82h.1M875 102h.1M891 106h.1M866 71h.1M847 94h.1M847 117h.1M844 104h.1M855 83h.1M880 79h.1M869 54h.1M855 72h.1M849 64h.1M857 116h.1M828 100h.1M860 98h.1M876 99h.1M837 105h.1M869 62h.1M880 114h.1M834 97h.1M873 109h.1M881 74h.1M859 48h.1M888 66h.1M894 96h.1M856 107h.1M848 91h.1M871 84h.1M860 111h.1M869 96h.1M846 66h.1M889 106h.1M747 159h.1M744 159h.1M769 147h.1M778 171h.1M755 180h.1M773 145h.1M770 188h.1M779 188h.1M746 194h.1M799 162h.1M769 192h.1M768 204h.1M790 147h.1M768 172h.1M791 183h.1M804 191h.1M758 177h.1M779 208h.1M766 160h.1M785 183h.1M750 185h.1M765 167h.1M777 200h.1M794 182h.1M806 179h.1M798 188h.1M778 167h.1M842 159h.1M835 193h.1M888 174h.1M889 162h.1M895 158h.1M869 180h.1M849 157h.1M864 167h.1M889 163h.1M889 159h.1M865 156h.1M849 192h.1M828 171h.1M856 172h.1M853 196h.1M898 181h.1M869 167h.1M837 177h.1M901 175h.1M835 186h.1M849 164h.1M898 170h.1M870 199h.1M868 178h.1M837 162h.1M840 196h.1M851 172h.1M885 179h.1M862 136h.1M868 133h.1M823 83h.1" stroke="#eeeeee" stroke-width="4.0" stroke-linecap="round"/>
<path d="M797 110h.1M763 116h.1M788 95h.1M802 105h.1M768 104h.1M806 104h.1M752 68h.1M784 73h.1M808 86h.1M797 114h.1M802 75h.1M765 79h.1M771 65h.1M754 83h.1M754 77h.1M805 84h.1M784 81h.1M773 71h.1M769 83h.1M800 64h.1M841 101h.1M825 89h.1M870 60h.1M863 98h.1M867 58h.1M866 58h.1M843 87h.1M845 73h.1M847 85h.1M878 70h.1M875 74h.1M873 77h.1M839 84h.1M855 54h.1M830 67h.1M876 87h.1M876 111h.1M868 71h.1M852 105h.1M877 63h.1M893 82h.1M877 70h.1M868 119h.1M861 84h.1M842 99h.1M868 80h.1M847 58h.1M830 83h.1M824 81h.1M853 67h.1M852 105h.1M850 72h.1M856 108h.1M879 113h.1M886 82h.1M890 94h.1M848 76h.1M815 184h.1M776 203h.1M799 191h.1M769 204h.1M805 195h.1M751 170h.1M761 167h.1M761 196h.1M810 180h.1M759 199h.1M745 151h.1M770 206h.1M781 203h.1M794 177h.1M796 180h.1M800 181h.1M764 171h.1M797 180h.1M797 202h.1M745 192h.1M769 153h.1M784 194h.1M790 178h.1M760 188h.1M738 184h.1M761 196h.1M763 143h.1M743 166h.1M792 166h.1M881 193h.1M862 168h.1M845 149h.1M838 196h.1M875 183h.1M867 168h.1M886 188h.1M888 155h.1M836 156h.1M858 166h.1M844 189h.1M877 187h.1M848 165h.1M840 187h.1M853 162h.1M842 175h.1M859 200h.1M857 159h.1M838 164h.1M878 188h.1M859 199h.1M893 188h.1M798 129h.1M796 135h.1M766 133h.1M771 139h.1M818 77h.1M828 161h.1" stroke="#1a22e0" stroke-width="5.2" stroke-linecap="round"/>
<path d="M782 64h.1M765 117h.1M767 61h.1M745 83h.1M792 87h.1M767 101h.1M788 112h.1M798 67h.1M774 113h.1M746 80h.1M788 81h.1M811 89h.1M791 121h.1M757 99h.1M741 78h.1M799 85h.1M764 57h.1M750 103h.1M787 121h.1M740 101h.1M838 95h.1M839 90h.1M859 68h.1M843 58h.1M865 83h.1M828 94h.1M833 95h.1M890 105h.1M834 109h.1M825 78h.1M827 102h.1M871 72h.1M864 78h.1M871 104h.1M785 167h.1M785 190h.1M805 183h.1M748 164h.1M776 155h.1M758 153h.1M802 199h.1M771 147h.1M813 191h.1M744 165h.1M860 188h.1M834 189h.1M875 147h.1M848 165h.1M887 191h.1M859 159h.1M882 183h.1M848 173h.1M867 141h.1M868 200h.1M827 182h.1M873 134h.1M827 163h.1" stroke="#d00000" stroke-width="5.2" stroke-linecap="round"/>
<path d="M770 72h.1M776 120h.1M768 91h.1M782 56h.1M801 79h.1M734 85h.1M742 92h.1M793 71h.1M770 55h.1M760 58h.1M803 81h.1M745 67h.1M786 106h.1M749 86h.1M747 96h.1M773 121h.1M761 113h.1M778 97h.1M888 87h.1M844 110h.1M826 75h.1M870 65h.1M830 81h.1M867 120h.1M866 92h.1M838 113h.1M842 69h.1M878 113h.1M861 106h.1M875 109h.1M852 93h.1M887 70h.1M855 59h.1M863 91h.1M746 182h.1M795 177h.1M767 165h.1M760 146h.1M785 186h.1M780 151h.1M752 163h.1M779 184h.1M802 156h.1M772 159h.1M787 157h.1M765 155h.1M776 175h.1M783 148h.1M808 192h.1M752 157h.1M810 190h.1M846 160h.1M864 193h.1M875 187h.1M847 198h.1M875 192h.1M855 171h.1M832 164h.1M887 182h.1M858 206h.1M839 178h.1M890 175h.1M773 125h.1M784 130h.1M782 135h.1M869 128h.1" stroke="#d00000" stroke-width="6.0" stroke-linecap="round"/>
<path d="M803 106h.1M741 85h.1M793 71h.1M810 95h.1M749 111h.1M774 101h.1M741 70h.1M749 60h.1M771 78h.1M776 60h.1M773 62h.1M729 96h.1M834 73h.1M890 103h.1M875 111h.1M867 50h.1M869 93h.1M870 75h.1M826 74h.1M853 57h.1M833 63h.1M854 50h.1M881 96h.1M844 59h.1M847 80h.1M892 67h.1M839 63h.1M777 201h.1M786 175h.1M793 203h.1M798 191h.1M763 173h.1M799 183h.1M755 178h.1M807 179h.1M764 197h.1M773 165h.1M745 160h.1M767 144h.1M735 145h.1M868 199h.1M856 205h.1M893 183h.1M872 205h.1M873 187h.1M879 179h.1M902 174h.1M895 191h.1M848 199h.1M848 173h.1M861 163h.1M880 175h.1M819 185h.1" stroke="#d00000" stroke-width="6.8" stroke-linecap="round"/>
<path d="M750 41h.1M787 49h.1M724 71h.1M735 107h.1M840 45h.1M875 34h.1M905 61h.1M898 100h.1M738 159h.1M729 195h.1M757 222h.1M795 212h.1M847 211h.1M884 219h.1M901 151h.1M911 187h.1" stroke="#d00000" stroke-width="7.2" stroke-linecap="round"/>
<path d="M747 117h.1M818 78h.1M768 137h.1M888 208h.1" stroke="#d00000" stroke-width="7.8" stroke-linecap="round"/>
<path d="M810,137 L825,132 L840,125 L855,117 L865,110 L875,100 L879,95" fill="none" stroke="#40c8c8" stroke-width="6" stroke-linejoin="round" stroke-linecap="round"/>
<path d="M850,125 L862,130" fill="none" stroke="#40c8c8" stroke-width="6" stroke-linejoin="round" stroke-linecap="round"/>
<circle cx="857.0" cy="118.0" r="4.5" fill="#bfeaea" stroke="#40c8c8" stroke-width="4.5"/>
<circle cx="825.0" cy="133.6" r="3.2" fill="#1010e0"/>
<path d="M127 528L129 527M127 528L124 531M137 532L137 532M137 532L137 532M157 495L158 494M157 495L157 493M128 506L127 509M128 506L127 503M174 523L176 524M174 523L177 523M159 501L156 501M159 501L160 499M158 551L158 550M158 551L160 552M149 542L151 544M149 542L150 539M161 494L164 494M161 494L158 494M168 531L166 529M168 531L168 528M177 523L176 524M177 523L178 522M165 551L165 554M165 551L167 548M165 554L162 555M165 554L163 557M139 546L141 550M139 546L141 542M143 555L142 556M143 555L141 556M118 505L116 509M118 505L122 503M185 520L185 523M185 520L183 516M158 511L155 512M158 511L156 514M148 517L146 517M148 517L147 515M136 531L137 532M154 553L151 555M154 553L153 557M162 555L163 557M162 555L161 557M161 501L163 499M180 530L179 530M180 530L181 526M165 505L167 501M165 505L166 509M174 530L173 529M174 530L174 529M140 501L140 502M140 501L139 504M131 544L133 544M131 544L129 543M157 493L155 492M165 513L167 514M165 513L165 516M148 560L151 555M148 560L153 557M132 495L135 497M132 495L132 502M123 519L122 520M123 519L121 515M156 501L155 500M179 516L181 515M179 516L182 516M144 526L142 524M144 526L141 523M159 532L159 534M159 532L155 529M152 533L152 531M152 533L154 537M183 525L181 526M183 525L186 526M142 540L143 540M142 540L141 542M126 511L127 509M126 511L123 513M186 526L185 523M141 531L137 532M141 531L137 532M109 533L112 536M109 533L116 531M158 523L159 522M158 523L159 521M162 515L165 516M164 542L163 543M164 542L167 541M162 557L161 557M162 557L162 558M128 522L128 522M128 522L132 522M155 512L156 514M155 512L155 510M137 512L133 513M137 512L133 512M137 532L137 532M132 516L131 515M132 516L131 514M153 541L156 541M153 541L151 544M132 506L133 506M132 506L132 502M172 507L171 509M172 507L176 507M122 520L121 524M163 497L165 497M163 497L163 499M133 513L133 512M133 513L131 514M174 521L176 521M134 535L136 535M134 535L134 538M178 522L176 521M125 498L124 502M125 498L127 503M150 503L153 503M150 503L148 507M172 549L172 552M172 549L167 548M122 509L122 509M122 509L123 508M172 535L173 534M172 535L172 534M172 514L169 515M172 514L170 517M118 510L116 509M118 510L121 511M171 509L176 507M135 519L135 519M135 519L134 518M141 519L140 518M141 519L143 519M142 556L141 556M160 526L160 527M160 526L161 526M131 514L131 515M155 510L154 509M180 538L182 540M180 538L184 537M179 530L176 532M121 511L123 513M160 527L161 526M156 514L157 514M128 550L128 550M128 550L131 549M146 545L145 548M146 545L146 540M136 504L132 502M136 504L139 504M150 547L153 548M150 547L151 544M121 545L122 539M121 545L115 542M158 550L160 552M129 527L128 522M141 523L142 524M114 525L114 525M114 525L110 525M136 535L134 538M123 513L121 515M117 529L116 531M165 517L165 516M165 517L167 515M170 517L169 515M170 517L168 518M172 534L171 534M172 534L173 534M142 516L143 519M147 539L146 540M147 539L150 539M141 539L143 540M144 507L145 506M144 507L144 504M113 520L117 517M113 520L112 515M142 551L141 550M182 516L183 516M182 516L181 515M179 545L182 540M128 522L132 522M171 537L171 534M166 529L168 528M116 531L112 536M161 548L160 546M169 526L168 524M169 526L170 524M165 497L166 496M167 555L166 557M153 548L151 544M127 503L129 502M127 503L124 502M127 533L124 531M127 533L129 537M168 518L168 518M137 518L135 519M135 519L134 518M114 525L110 525M167 501L170 500M163 543L167 541M146 535L146 532M115 542L113 540M122 509L123 508M123 531L124 531M123 531L123 527M163 557L162 558M163 557L161 557M131 539L131 537M131 539L134 540M154 509L155 506M146 517L147 515M133 544L134 540M146 532L150 530M173 529L174 529M176 518L176 521M145 506L144 504M126 540L129 543M126 540L122 539M161 557L162 558M123 508L124 507M128 550L131 549M133 520L134 518M154 537L156 541M151 498L150 498M151 498L155 500M129 537L131 537M183 516L181 515M169 543L170 541M169 543L167 541M184 537L182 540M150 498L155 500M165 537L167 541M153 503L155 500M134 540L134 538M155 529L152 531M159 522L159 521M132 502L129 502M113 540L112 536M167 515L167 514M167 515L165 516M136 549L133 551M170 541L167 541M122 503L124 502M139 504L140 502M139 504L141 506M150 530L152 531M172 552L172 554M172 552L172 555M162 511L166 509M123 527L121 524M123 527L120 525M153 557L151 555M112 515L117 517M133 551L131 549M172 555L172 554M168 524L170 524M120 525L121 524M144 504L145 502M170 523L170 524M205 547L206 545M205 547L208 547M223 532L223 530M223 532L222 533M241 538L239 538M241 538L239 538M227 497L226 497M227 497L228 499M257 555L258 555M257 555L254 552M232 534L231 534M232 534L229 533M213 558L213 557M213 558L216 557M248 509L250 507M248 509L251 512M231 505L232 504M231 505L231 501M251 517L252 518M251 517L254 519M252 535L250 533M252 535L255 536M199 531L199 533M199 531L200 529M262 527L262 525M262 527L263 530M236 555L236 555M236 555L236 553M228 528L224 529M228 528L231 525M239 552L239 552M239 552L243 552M255 533L253 531M255 533L255 529M216 557L213 557M216 557L215 554M265 532L264 532M265 532L265 533M253 514L254 513M253 514L251 512M252 518L254 519M231 534L229 533M211 543L210 544M211 543L214 543M238 520L237 519M238 520L236 522M199 533L200 529M217 545L216 546M217 545L218 548M205 521L207 522M205 521L207 521M207 522L207 521M239 500L237 501M239 500L240 502M195 527L193 529M195 527L191 527M207 529L206 531M207 529L209 525M236 559L238 561M236 559L233 562M264 530L263 530M224 497L223 496M224 497L226 497M213 515L215 515M213 515L212 518M270 527L271 527M270 527L273 525M227 511L225 509M227 511L231 510M238 529L240 528M238 529L239 532M207 509L209 509M207 509L211 509M252 558L254 552M198 543L198 546M198 543L196 541M254 509L254 509M254 509L250 507M229 563L230 562M229 563L233 562M218 548L216 546M204 541L204 539M204 541L207 540M213 529L212 527M213 529L216 527M222 556L224 556M222 556L220 557M253 529L253 528M253 529L253 531M248 523L245 526M248 523L245 528M258 511L260 513M258 511L257 514M236 535L238 534M236 535L236 533M223 496L222 496M204 539L202 538M208 547L208 547M208 547L207 549M233 562L230 562M262 545L265 546M262 545L259 541M237 546L234 543M237 546L243 548M253 528L254 525M253 503L255 505M253 503L255 501M236 541L234 541M236 541L234 543M241 504L239 503M241 504L240 502M202 538L201 538M257 521L258 521M257 521L254 521M242 512L241 513M242 512L242 509M214 543L214 540M234 516L235 518M234 516L234 513M258 521L259 518M258 525L260 523M258 525L262 525M247 516L243 515M209 525L209 523M209 525L212 527M258 518L259 518M258 518L257 516M198 515L200 515M198 515L204 516M239 532L238 534M241 513L240 515M219 507L216 508M219 507L214 509M238 512L238 514M255 536L257 538M246 546L245 546M246 546L245 547M234 523L233 524M234 523L236 522M216 497L215 498M216 497L219 497M257 529L255 529M239 538L239 538M239 538L240 537M227 502L228 499M227 502L231 501M231 510L232 511M231 510L235 511M268 522L269 523M268 522L267 524M191 527L193 529M216 527L217 525M216 527L212 527M215 515L217 517M243 498L244 497M243 498L242 502M247 530L245 528M247 530L245 526M196 541L198 546M269 523L267 524M223 526L224 529M223 526L220 529M241 495L239 494M241 495L244 497M212 518L212 519M245 546L245 547M271 527L273 525M207 517L204 516M207 517L207 521M240 537L239 538M210 506L211 507M210 506L211 509M232 511L235 511M265 533L264 532M265 533L265 535M219 524L217 525M219 524L217 522M254 519L254 521M251 512L254 513M209 509L211 509M207 536L206 534M244 545L245 544M199 548L198 546M199 548L202 549M231 520L231 520M231 520L227 521M233 524L232 525M266 550L263 552M266 550L265 546M202 549L205 550M240 561L238 561M215 554L215 553M215 554L213 557M202 508L207 505M260 523L262 525M217 520L217 522M217 520L217 517M211 509L211 507M266 517L264 517M266 517L267 512M216 508L214 509M216 508L214 511M236 533L238 534M224 529L223 530M237 501L240 502M267 512L264 517M216 541L214 540M216 541L215 538M224 517L222 519M224 517L221 518M245 535L246 536M245 535L246 534M211 501L212 502M211 501L208 500M239 494L244 497M264 517L266 522M204 516L200 515M218 514L220 514M231 549L230 547M231 549L227 548M227 548L230 547M231 501L232 504M204 554L204 552M204 554L205 550M231 520L227 521M234 554L236 553M222 519L221 518M236 527L234 528M232 525L231 525M230 544L230 547M230 544L226 543M205 550L205 550M205 550L204 552M212 498L215 498M236 553L236 555M222 500L219 497M253 550L253 551M253 550L255 549M260 513L257 514M208 544L208 545M208 544L206 545M243 548L245 547M206 531L206 534M240 502L239 503M234 541L234 543M201 545L198 546M258 555L254 552M214 509L214 511M255 549L255 548M269 545L269 543M269 545L265 546M240 522L240 525M271 524L273 525M220 536L222 533M220 536L215 538M221 561L220 557M245 526L245 528M245 526L242 528M246 536L246 534M242 528L245 528M242 528L240 528M260 506L261 507M257 514L257 516M257 514L254 513M212 502L216 501M214 540L215 538M259 541L260 540M259 541L257 538M231 496L231 497M237 519L235 518M262 535L265 535M210 544L208 545M254 509L254 513M263 552L265 546M226 543L226 541M205 550L207 549M224 556L226 557M254 542L255 548M226 541L227 539M269 543L267 540M220 529L223 530M253 551L254 552M207 540L210 539M208 547L207 549M222 533L223 530M234 513L235 511M206 545L208 545M260 540L257 538M240 515L238 514M255 501L255 505M209 550L207 549M140 596L137 596M140 596L138 600M125 614L126 613M125 614L126 613M168 607L167 609M168 607L170 605M137 639L139 637M137 639L139 636M170 605L167 609M116 618L116 619M116 618L115 616M145 600L147 600M145 600L148 602M133 607L132 605M133 607L131 605M141 648L144 646M141 648L144 646M161 643L163 644M161 643L158 646M155 647L157 647M155 647L158 646M138 600L137 602M138 600L137 596M163 644L165 646M109 612L110 612M109 612L109 614M151 589L153 589M151 589L151 592M147 600L148 602M155 637L155 636M155 637L157 639M153 589L151 592M146 636L144 637M146 636L144 634M146 633L144 633M146 633L144 634M185 616L185 617M185 616L185 616M156 631L156 633M156 631L161 630M147 641L145 643M147 641L150 642M137 625L139 626M137 625L139 626M143 621L142 619M143 621L139 621M133 602L134 602M133 602L131 603M140 637L139 637M140 637L142 638M174 623L173 622M174 623L170 622M139 636L139 637M125 636L121 637M125 636L126 632M139 585L139 586M139 585L139 584M128 629L129 629M128 629L127 629M127 629L127 628M156 585L157 584M156 585L158 590M134 621L136 620M134 621L136 620M156 633L155 636M179 601L178 599M179 601L179 604M168 639L171 639M168 639L166 637M156 609L157 608M156 609L155 607M110 612L111 614M129 598L129 597M129 598L132 595M158 646L157 647M161 639L159 639M161 639L163 637M161 613L161 614M161 613L161 612M166 637L163 637M176 607L177 608M176 607L176 610M140 609L140 611M140 609L143 607M139 621L142 619M139 621L136 620M115 620L116 619M173 596L174 594M173 596L174 601M146 649L144 646M146 649L144 646M155 624L157 621M155 624L159 621M117 626L117 628M117 626L117 630M121 637L121 637M121 637L119 634M157 639L155 640M178 619L178 616M178 619L179 623M139 584L139 586M167 600L167 602M167 600L163 602M131 605L132 605M147 618L149 618M147 618L142 619M166 590L165 589M166 590L168 590M148 596L150 593M148 596L145 595M127 624L125 625M127 624L124 626M144 646L144 646M144 646L144 645M157 621L159 621M134 640L134 640M157 608L155 607M119 607L115 606M119 607L115 606M122 598L124 597M122 598L122 595M143 630L142 633M143 630L146 630M161 630L164 627M144 634L144 633M122 595L124 597M140 611L143 607M165 616L165 619M165 616L162 616M150 603L151 604M150 603L148 602M120 633L119 634M120 633L121 637M124 622L123 620M124 622L125 625M122 610L122 610M122 610L120 612M134 602L131 603M163 637L161 635M149 618L154 617M179 611L176 610M179 611L178 614M151 604L148 602M126 613L126 613M159 607L159 608M159 607L160 607M164 593L165 595M164 593L162 595M111 602L115 606M111 602L115 606M145 643L145 644M145 643L144 645M125 625L124 626M165 626L164 627M165 626L163 626M175 639L175 638M175 639L171 639M148 628L146 630M125 595L124 597M136 620L136 620M160 607L161 607M160 607L159 608M161 612L159 611M111 614L109 614M138 628L139 626M138 628L136 629M166 630L164 627M166 630L170 630M119 634L117 630M132 595L129 597M155 601L155 603M155 601L155 598M176 631L176 628M176 631L170 630M174 601L175 603M174 601L175 604M173 622L170 622M120 615L118 616M120 615L120 612M176 610L177 608M168 590L165 589M117 630L117 628M117 630L115 630M159 610L159 611M169 618L169 618M169 618L167 619M111 623L110 622M111 623L111 621M131 616L128 617M131 616L134 616M171 640L171 639M151 592L150 593M182 611L184 613M163 602L161 605M163 602L167 602M160 592L160 592M160 592L159 590M136 629L136 629M163 589L165 589M163 589L163 587M158 599L155 598M129 629L129 628M133 589L132 587M153 596L154 596M153 596L155 598M154 596L155 593M163 587L163 585M163 587L165 589M165 619L167 619M169 618L167 619M111 621L110 622M157 590L158 590M157 590L159 590M185 616L185 617M170 643L171 639M155 640L154 640M163 626L164 627M115 616L113 615M187 614L186 617M162 621L159 621M167 619L168 620M154 617L159 621M175 603L175 604M118 595L117 597M169 620L168 620M142 584L141 584M156 593L155 593M159 590L158 590M178 616L178 614M186 617L185 617M145 644L144 645M145 644L144 646M139 626L139 626M162 616L161 614M116 612L114 609M115 630L117 628M122 610L120 612M114 609L115 606M136 618L136 620M165 595L162 595M144 645L144 646M142 588L146 588M115 606L115 606M147 583L146 588M251 612L251 612M251 612L250 614M210 627L213 625M210 627L211 623M256 592L253 592M256 592L253 591M216 600L215 601M216 600L217 601M236 645L236 643M236 645L239 649M241 622L238 625M241 622L238 626M225 593L230 592M225 593L223 598M265 627L260 626M265 627L269 623M246 596L248 598M246 596L249 595M208 587L207 586M208 587L208 588M201 604L202 603M201 604L204 603M203 596L203 597M203 596L202 595M241 589L242 591M241 589L238 589M201 636L200 638M201 636L199 637M213 625L214 624M213 625L216 625M213 630L214 634M261 601L261 602M261 601L260 606M242 595L241 596M242 595L242 591M199 611L198 611M199 611L196 612M228 582L228 582M228 582L225 583M233 611L233 610M233 611L232 611M219 635L220 638M219 635L221 639M263 609L264 609M263 609L266 608M215 636L215 637M215 636L214 634M252 617L254 615M252 617L250 618M240 605L240 605M240 605L240 604M250 622L250 621M250 622L250 619M261 602L259 606M238 638L237 636M238 638L234 639M251 636L253 639M251 636L248 638M220 643L220 642M220 643L219 644M241 609L240 608M241 609L243 607M204 587L207 586M209 603L211 604M209 603L211 605M217 625L216 625M217 625L216 626M269 621L269 623M269 621L266 621M247 619L246 618M247 619L248 617M254 605L256 607M254 605L252 603M243 617L246 616M243 617L244 614M254 611L257 611M254 611L256 610M234 616L231 616M234 616L236 619M248 617L250 618M231 630L232 631M231 630L234 630M254 625L259 625M223 598L221 599M223 598L227 599M230 646L230 646M230 646L229 645M242 583L238 589M207 586L208 588M266 611L266 613M266 611L264 609M216 584L219 584M216 584L219 586M211 605L211 604M222 604L223 603M222 604L224 608M250 642L252 644M250 642L249 645M221 639L220 638M221 639L222 639M214 599L215 601M229 610L230 611M229 610L232 611M220 638L222 639M224 608L223 603M222 588L224 587M222 588L219 586M214 634L212 635M238 625L238 626M254 615L253 614M206 596L205 594M206 596L207 599M231 616L229 617M260 626L259 625M260 636L259 638M260 636L253 639M249 592L250 590M249 592L249 594M257 611L256 610M208 610L210 611M208 610L209 612M198 618L198 617M198 618L197 616M234 639L234 639M234 639L233 641M245 609L245 610M245 609L243 607M216 621L217 618M216 621L214 624M220 621L217 618M200 598L203 597M192 611L193 611M192 611L194 614M210 639L209 639M210 639L210 638M211 594L211 596M211 594L209 592M249 594L249 594M249 594L249 595M259 618L257 615M202 631L201 633M202 631L200 628M236 619L232 621M195 608L197 608M195 608L198 611M256 610L256 608M264 609L266 608M226 620L225 623M226 620L229 617M252 644L249 645M197 626L196 627M197 626L200 628M190 619L194 614M190 619L196 615M220 642L221 641M247 646L246 647M247 646L249 645M235 602L230 603M235 602L238 606M247 615L246 616M232 631L233 634M230 605L229 606M230 605L230 603M229 626L225 623M229 606L230 603M215 637L215 638M219 584L219 586M229 645L228 644M234 639L233 641M259 638L253 639M214 646L215 649M214 646L218 642M197 616L198 617M197 616L196 615M197 608L198 611M233 592L230 592M233 592L238 589M215 638L216 639M248 609L245 610M249 595L249 594M217 601L216 602M207 619L210 616M207 619L212 619M240 604L240 604M250 619L250 618M230 611L232 611M228 643L228 644M196 627L200 628M212 638L210 638M216 626L216 625M232 649L234 649M232 649L234 651M231 598L227 599M231 598L227 600M267 605L268 607M267 605L266 608M202 595L205 594M239 649L234 651M208 644L206 643M208 644L206 642M253 595L256 595M253 595L253 592M198 611L196 612M224 615L224 616M224 615L221 615M249 596L250 598M239 600L240 599M239 600L238 598M201 633L199 631M241 596L240 599M206 633L207 634M206 633L208 637M211 623L214 624M269 623L266 621M224 640L222 639M256 608L256 607M238 606L240 605M268 607L266 608M220 600L221 599M212 619L210 616M212 619L211 614M232 583L228 582M207 634L208 637M225 627L225 628M225 627L225 623M223 646L225 645M223 646L220 646M231 642L231 643M231 642L233 641M234 651L234 651M234 651L234 649M211 596L209 592M233 610L232 611M250 598L248 598M209 612L210 611M207 599L206 602M214 588L219 586M215 649L217 650M248 637L248 638M244 614L246 616M253 591L253 591M253 591L253 592M193 611L194 614M218 611L221 615M218 611L215 607M224 616L221 615M206 643L206 642M209 639L210 638M208 637L210 638M244 645L246 647M204 639L206 642M204 639L200 638M225 645L222 643M266 613L264 613M250 614L253 614M250 614L251 612M202 603L204 603M250 590L249 588M224 587L225 583M200 628L202 627M228 582L225 583M222 643L221 641M259 595L259 594M259 595L256 595M260 606L259 606M194 600L193 603M211 614L210 616M247 603L248 598M247 603L252 603M215 607L216 602M253 591L253 592M215 601L216 602M209 591L209 592M200 638L199 637M206 602L204 603M240 599L238 598M227 600L227 599M256 595L259 594M234 651L234 649M222 652L217 650M163 574L164 567M163 574L152 579M138 570L137 570M138 570L137 569M137 569L137 570M152 579L153 584M152 579L144 581M130 570L131 573M130 570L127 577M127 577L131 573M144 581L144 578M215 567L214 566M215 567L211 568M207 572L207 570M207 572L209 577M224 566L231 573M244 579L241 575M244 579L242 567M241 575L242 567M211 578L213 579M211 578L209 577M214 566L211 568M206 578L209 577M207 566L207 570M221 582L213 579M213 579L209 577M186 523L186 525M186 523L189 525M187 527L186 525M187 527L189 525M188 512L196 516M196 516L189 525M187 623L187 621M187 623L189 627M182 615L187 621M182 615L190 615M192 610L190 615M192 610L194 605M187 621L189 627M191 605L194 605M191 605L189 599M189 599L189 592" fill="none" stroke="#111" stroke-width="3.5" stroke-linecap="round"/>
<path d="M127 528h.1M137 532h.1M157 495h.1M128 506h.1M174 523h.1M159 501h.1M158 551h.1M161 494h.1M168 531h.1M177 523h.1M139 546h.1M143 555h.1M158 511h.1M148 517h.1M136 531h.1M154 553h.1M180 530h.1M165 505h.1M174 530h.1M140 501h.1M131 544h.1M165 513h.1M148 560h.1M132 495h.1M155 492h.1M123 519h.1M156 501h.1M179 516h.1M144 526h.1M159 532h.1M152 533h.1M142 540h.1M126 511h.1M186 526h.1M141 531h.1M158 523h.1M162 515h.1M164 542h.1M162 557h.1M128 522h.1M155 512h.1M137 532h.1M132 516h.1M153 541h.1M132 506h.1M122 520h.1M133 513h.1M134 535h.1M178 522h.1M125 498h.1M172 549h.1M122 509h.1M172 535h.1M172 514h.1M118 510h.1M171 509h.1M135 519h.1M142 556h.1M167 548h.1M160 526h.1M160 527h.1M141 556h.1M128 550h.1M146 545h.1M136 504h.1M150 547h.1M121 545h.1M141 523h.1M114 525h.1M133 512h.1M136 535h.1M154 515h.1M117 529h.1M137 532h.1M170 517h.1M147 539h.1M141 539h.1M144 507h.1M182 516h.1M128 522h.1M160 552h.1M171 537h.1M169 526h.1M153 548h.1M168 518h.1M137 518h.1M167 501h.1M163 543h.1M161 526h.1M181 526h.1M143 540h.1M122 509h.1M133 506h.1M163 557h.1M131 539h.1M141 550h.1M146 517h.1M121 515h.1M146 532h.1M146 540h.1M128 550h.1M133 520h.1M166 496h.1M131 515h.1M142 524h.1M151 498h.1M129 537h.1M169 543h.1M131 537h.1M160 546h.1M129 543h.1M150 498h.1M147 515h.1M153 503h.1M159 534h.1M160 499h.1M134 540h.1M155 529h.1M159 522h.1M132 502h.1M113 540h.1M167 515h.1M129 517h.1M169 515h.1M134 518h.1M151 544h.1M136 549h.1M170 541h.1M122 503h.1M141 542h.1M139 504h.1M150 530h.1M124 507h.1M172 552h.1M158 558h.1M162 511h.1M156 541h.1M149 522h.1M110 525h.1M159 521h.1M171 534h.1M133 551h.1M176 532h.1M167 514h.1M172 555h.1M168 524h.1M120 525h.1M163 528h.1M141 535h.1M168 518h.1M165 516h.1M155 506h.1M170 500h.1M144 504h.1M124 502h.1M140 502h.1M143 519h.1M164 494h.1M140 518h.1M145 502h.1M157 514h.1M166 509h.1M170 523h.1M127 509h.1M173 534h.1M135 497h.1M162 558h.1M112 536h.1M185 523h.1M172 554h.1M132 532h.1M134 538h.1M174 529h.1M181 515h.1M141 506h.1M170 524h.1M129 502h.1M205 547h.1M223 532h.1M227 497h.1M232 534h.1M213 558h.1M248 509h.1M251 517h.1M252 535h.1M199 531h.1M262 527h.1M228 528h.1M239 552h.1M253 514h.1M231 534h.1M211 543h.1M238 520h.1M199 533h.1M217 545h.1M205 521h.1M207 522h.1M195 527h.1M207 529h.1M236 559h.1M264 530h.1M224 497h.1M213 515h.1M227 511h.1M238 529h.1M207 509h.1M252 558h.1M198 543h.1M254 509h.1M229 563h.1M218 548h.1M204 541h.1M213 529h.1M222 556h.1M253 529h.1M248 523h.1M258 511h.1M236 535h.1M223 496h.1M204 539h.1M208 547h.1M233 562h.1M262 545h.1M222 496h.1M237 546h.1M253 528h.1M253 503h.1M236 541h.1M241 504h.1M202 538h.1M242 512h.1M214 543h.1M234 516h.1M258 521h.1M258 525h.1M209 525h.1M209 523h.1M198 515h.1M239 532h.1M241 513h.1M219 507h.1M238 512h.1M255 536h.1M246 546h.1M216 497h.1M257 529h.1M239 538h.1M227 502h.1M200 529h.1M231 510h.1M201 538h.1M255 529h.1M250 533h.1M216 546h.1M212 527h.1M245 546h.1M271 527h.1M210 506h.1M219 524h.1M254 519h.1M209 509h.1M207 536h.1M231 520h.1M233 524h.1M245 544h.1M266 550h.1M202 549h.1M240 561h.1M215 554h.1M267 524h.1M202 508h.1M260 523h.1M217 520h.1M211 509h.1M236 533h.1M224 529h.1M215 553h.1M211 507h.1M237 501h.1M267 512h.1M216 541h.1M224 517h.1M200 515h.1M218 514h.1M231 549h.1M227 548h.1M231 501h.1M204 554h.1M231 520h.1M234 554h.1M222 519h.1M236 527h.1M232 525h.1M230 544h.1M212 498h.1M236 553h.1M253 550h.1M264 532h.1M260 513h.1M208 544h.1M193 529h.1M206 531h.1M240 502h.1M262 525h.1M234 541h.1M258 555h.1M214 509h.1M227 521h.1M234 543h.1M217 517h.1M255 549h.1M215 498h.1M269 545h.1M240 522h.1M271 524h.1M208 500h.1M220 536h.1M221 561h.1M245 526h.1M246 536h.1M242 528h.1M234 528h.1M260 506h.1M231 525h.1M250 507h.1M212 502h.1M238 534h.1M229 533h.1M214 540h.1M257 516h.1M215 538h.1M240 528h.1M263 530h.1M219 497h.1M235 518h.1M262 535h.1M210 544h.1M244 497h.1M214 511h.1M263 552h.1M239 503h.1M226 543h.1M249 537h.1M216 501h.1M205 550h.1M198 546h.1M224 556h.1M226 541h.1M265 546h.1M269 543h.1M253 551h.1M221 518h.1M242 509h.1M245 528h.1M206 534h.1M204 552h.1M254 521h.1M207 540h.1M239 552h.1M220 514h.1M267 540h.1M222 533h.1M227 539h.1M254 513h.1M208 545h.1M234 520h.1M240 525h.1M245 547h.1M238 561h.1M246 534h.1M235 511h.1M255 548h.1M226 557h.1M243 515h.1M259 518h.1M266 522h.1M236 555h.1M254 552h.1M239 538h.1M217 522h.1M209 550h.1M207 505h.1M255 505h.1M207 549h.1M225 509h.1M261 507h.1M228 499h.1M220 557h.1M213 557h.1M140 596h.1M125 614h.1M168 607h.1M137 639h.1M145 600h.1M133 607h.1M141 648h.1M138 600h.1M163 644h.1M109 612h.1M151 589h.1M147 600h.1M155 637h.1M153 589h.1M146 633h.1M185 616h.1M156 631h.1M147 641h.1M137 625h.1M143 621h.1M133 602h.1M139 636h.1M125 636h.1M139 585h.1M127 629h.1M134 621h.1M156 633h.1M179 601h.1M156 609h.1M129 598h.1M161 613h.1M166 637h.1M176 607h.1M140 609h.1M139 621h.1M115 620h.1M173 596h.1M155 624h.1M117 626h.1M157 639h.1M139 584h.1M167 600h.1M131 605h.1M147 618h.1M166 590h.1M126 632h.1M148 596h.1M179 623h.1M127 624h.1M144 646h.1M165 646h.1M157 621h.1M134 640h.1M157 608h.1M139 637h.1M119 607h.1M122 598h.1M131 623h.1M161 630h.1M144 634h.1M122 595h.1M165 616h.1M150 603h.1M122 610h.1M126 613h.1M159 607h.1M164 593h.1M145 643h.1M125 625h.1M134 640h.1M165 626h.1M132 605h.1M125 595h.1M136 620h.1M160 607h.1M161 612h.1M159 608h.1M111 614h.1M138 628h.1M166 630h.1M151 650h.1M119 634h.1M155 601h.1M158 636h.1M121 637h.1M176 631h.1M174 601h.1M131 642h.1M120 615h.1M117 630h.1M159 610h.1M169 618h.1M111 623h.1M171 640h.1M163 602h.1M160 592h.1M118 616h.1M142 619h.1M129 629h.1M133 589h.1M177 608h.1M173 610h.1M126 613h.1M169 618h.1M157 590h.1M185 616h.1M155 640h.1M163 626h.1M115 616h.1M129 628h.1M155 636h.1M162 621h.1M109 614h.1M154 617h.1M157 647h.1M175 603h.1M161 607h.1M118 595h.1M169 620h.1M143 607h.1M142 584h.1M123 620h.1M156 593h.1M150 593h.1M159 590h.1M171 639h.1M154 640h.1M178 599h.1M178 616h.1M155 593h.1M159 639h.1M186 617h.1M165 589h.1M132 611h.1M148 602h.1M128 617h.1M139 626h.1M141 584h.1M162 616h.1M115 630h.1M136 629h.1M114 609h.1M114 623h.1M136 618h.1M142 638h.1M120 612h.1M144 645h.1M131 603h.1M150 642h.1M167 602h.1M142 588h.1M184 613h.1M147 583h.1M179 604h.1M159 621h.1M117 628h.1M137 602h.1M163 585h.1M161 605h.1M146 588h.1M124 626h.1M145 595h.1M132 629h.1M139 626h.1M175 638h.1M144 646h.1M155 598h.1M124 597h.1M146 630h.1M170 630h.1M155 603h.1M142 633h.1M174 594h.1M170 622h.1M157 584h.1M161 614h.1M132 587h.1M251 612h.1M210 627h.1M256 592h.1M216 600h.1M236 645h.1M241 622h.1M265 627h.1M208 587h.1M201 604h.1M203 596h.1M241 589h.1M201 636h.1M213 625h.1M213 630h.1M261 601h.1M228 582h.1M233 611h.1M219 635h.1M263 609h.1M215 636h.1M240 605h.1M250 622h.1M261 602h.1M238 638h.1M204 587h.1M209 603h.1M217 625h.1M269 621h.1M247 619h.1M254 605h.1M243 617h.1M234 616h.1M248 617h.1M231 630h.1M254 625h.1M230 646h.1M207 586h.1M266 611h.1M216 584h.1M211 605h.1M222 604h.1M250 642h.1M221 639h.1M214 599h.1M220 638h.1M224 608h.1M222 588h.1M238 625h.1M254 615h.1M246 618h.1M231 616h.1M260 626h.1M248 629h.1M257 611h.1M198 618h.1M234 639h.1M200 598h.1M210 639h.1M249 594h.1M259 618h.1M236 619h.1M195 608h.1M256 610h.1M264 609h.1M226 620h.1M252 644h.1M197 626h.1M220 642h.1M235 602h.1M247 615h.1M232 631h.1M230 605h.1M229 626h.1M229 606h.1M215 637h.1M219 584h.1M229 645h.1M234 639h.1M259 638h.1M197 608h.1M218 642h.1M215 638h.1M237 636h.1M248 609h.1M249 595h.1M217 601h.1M207 619h.1M240 604h.1M240 604h.1M238 626h.1M198 617h.1M250 619h.1M230 611h.1M228 643h.1M216 626h.1M229 617h.1M231 598h.1M202 595h.1M249 645h.1M239 649h.1M208 644h.1M253 595h.1M224 615h.1M211 604h.1M203 612h.1M239 600h.1M201 633h.1M234 630h.1M206 633h.1M211 623h.1M203 597h.1M224 640h.1M256 608h.1M238 606h.1M230 603h.1M268 607h.1M208 588h.1M227 640h.1M214 624h.1M232 583h.1M207 634h.1M223 646h.1M231 642h.1M234 651h.1M211 596h.1M233 610h.1M250 598h.1M216 596h.1M217 618h.1M248 637h.1M212 635h.1M244 614h.1M253 591h.1M193 611h.1M218 611h.1M224 616h.1M206 643h.1M225 623h.1M208 637h.1M244 645h.1M204 639h.1M219 629h.1M225 645h.1M266 613h.1M250 614h.1M250 618h.1M202 603h.1M242 591h.1M250 590h.1M199 631h.1M224 587h.1M200 628h.1M250 621h.1M253 639h.1M249 588h.1M228 582h.1M256 607h.1M228 644h.1M259 595h.1M230 592h.1M260 606h.1M264 613h.1M210 638h.1M199 621h.1M202 627h.1M249 594h.1M238 589h.1M246 647h.1M211 614h.1M247 603h.1M215 607h.1M259 606h.1M253 591h.1M209 591h.1M222 639h.1M216 602h.1M210 616h.1M225 583h.1M232 611h.1M206 602h.1M240 599h.1M193 603h.1M210 611h.1M227 600h.1M266 621h.1M245 641h.1M240 605h.1M204 603h.1M266 608h.1M252 603h.1M227 599h.1M243 607h.1M256 595h.1M234 649h.1M222 652h.1M248 598h.1M253 592h.1M233 634h.1M259 594h.1M206 642h.1M199 637h.1M223 603h.1M245 610h.1M163 574h.1M137 569h.1M152 579h.1M130 570h.1M140 566h.1M164 567h.1M127 577h.1M137 570h.1M131 573h.1M144 581h.1M144 578h.1M215 567h.1M207 572h.1M244 579h.1M211 578h.1M214 566h.1M206 578h.1M211 568h.1M242 567h.1M207 570h.1M221 582h.1M213 579h.1M186 523h.1M187 527h.1M186 525h.1M196 516h.1M195 539h.1M189 525h.1M187 623h.1M192 610h.1M187 621h.1M191 605h.1M189 627h.1M189 599h.1M194 605h.1M189 592h.1M190 615h.1" stroke="#111" stroke-width="6.0" stroke-linecap="round"/>
<path d="M173 496h.1" stroke="#111" stroke-width="6.8" stroke-linecap="round"/>
<path d="M142 482h.1M155 485h.1M104 520h.1M105 534h.1M229 486h.1M242 484h.1M280 525h.1M275 537h.1M104 607h.1M101 620h.1M137 659h.1M150 656h.1M222 659h.1M237 661h.1M274 611h.1M277 624h.1" stroke="#111" stroke-width="7.2" stroke-linecap="round"/>
<path d="M149 542h.1M165 554h.1M162 555h.1M161 501h.1M137 512h.1M121 511h.1M156 514h.1M123 513h.1M165 517h.1M150 539h.1M179 545h.1M166 529h.1M184 530h.1M127 533h.1M135 519h.1M146 535h.1M115 542h.1M166 557h.1M145 506h.1M161 557h.1M123 508h.1M124 531h.1M148 507h.1M152 531h.1M153 557h.1M137 527h.1M121 524h.1M236 555h.1M255 533h.1M257 521h.1M247 516h.1M191 527h.1M216 527h.1M247 530h.1M212 518h.1M240 537h.1M232 511h.1M199 548h.1M217 525h.1M266 517h.1M245 535h.1M211 501h.1M264 517h.1M204 516h.1M236 522h.1M243 548h.1M234 513h.1M206 545h.1M242 502h.1M230 547h.1M223 530h.1M231 497h.1M240 518h.1M210 539h.1M116 618h.1M168 639h.1M143 630h.1M140 611h.1M134 602h.1M163 637h.1M148 628h.1M137 644h.1M168 590h.1M136 629h.1M144 633h.1M154 596h.1M145 644h.1M134 616h.1M115 606h.1M129 597h.1M155 607h.1M185 617h.1M115 606h.1M220 643h.1M241 609h.1M223 598h.1M214 634h.1M220 621h.1M202 631h.1M232 621h.1M247 646h.1M233 592h.1M198 611h.1M220 600h.1M209 612h.1M259 625h.1M209 639h.1M233 641h.1M220 646h.1M221 615h.1M227 649h.1M221 641h.1M248 638h.1M209 592h.1M234 651h.1M217 650h.1M238 598h.1M219 586h.1M231 643h.1M224 566h.1M241 575h.1" stroke="#eeeeee" stroke-width="4.0" stroke-linecap="round"/>
<path d="M185 520h.1M158 494h.1M150 503h.1M155 510h.1M180 538h.1M172 534h.1M142 516h.1M142 551h.1M161 548h.1M127 503h.1M114 525h.1M133 544h.1M173 529h.1M176 518h.1M176 524h.1M151 555h.1M163 499h.1M176 521h.1M167 541h.1M241 538h.1M257 555h.1M231 505h.1M265 532h.1M252 518h.1M270 527h.1M258 518h.1M215 515h.1M223 526h.1M241 495h.1M265 533h.1M244 545h.1M226 497h.1M222 500h.1M250 546h.1M259 541h.1M220 529h.1M230 562h.1M208 547h.1M260 540h.1M240 515h.1M174 623h.1M110 612h.1M158 646h.1M161 639h.1M121 637h.1M120 633h.1M179 611h.1M151 604h.1M111 602h.1M132 636h.1M139 586h.1M151 592h.1M182 611h.1M163 589h.1M124 589h.1M111 621h.1M170 643h.1M127 628h.1M167 619h.1M176 628h.1M117 597h.1M136 620h.1M144 637h.1M110 622h.1M164 627h.1M159 611h.1M254 611h.1M206 596h.1M249 592h.1M245 609h.1M192 611h.1M190 619h.1M196 627h.1M267 605h.1M241 596h.1M269 623h.1M216 625h.1M212 619h.1M216 639h.1M207 599h.1M219 644h.1M222 643h.1M200 589h.1M194 600h.1M200 638h.1M251 612h.1M209 577h.1" stroke="#d00000" stroke-width="5.2" stroke-linecap="round"/>
<path d="M165 551h.1M157 493h.1M109 533h.1M174 521h.1M141 519h.1M179 530h.1M113 520h.1M165 497h.1M167 555h.1M123 531h.1M145 548h.1M126 540h.1M176 507h.1M122 539h.1M154 537h.1M183 516h.1M184 537h.1M116 509h.1M160 524h.1M112 515h.1M182 540h.1M132 522h.1M131 549h.1M216 557h.1M239 500h.1M243 498h.1M196 541h.1M269 523h.1M207 517h.1M216 508h.1M239 494h.1M231 496h.1M254 542h.1M265 535h.1M257 538h.1M255 501h.1M273 525h.1M238 514h.1M155 647h.1M167 609h.1M137 596h.1M140 637h.1M156 585h.1M146 649h.1M124 622h.1M149 618h.1M175 639h.1M132 595h.1M131 616h.1M116 619h.1M153 596h.1M161 635h.1M122 610h.1M160 592h.1M175 604h.1M178 614h.1M199 611h.1M252 617h.1M251 636h.1M242 583h.1M229 610h.1M216 621h.1M214 646h.1M197 616h.1M212 638h.1M225 627h.1M214 588h.1M236 643h.1M246 616h.1M196 612h.1M215 601h.1M231 573h.1M188 512h.1M182 615h.1" stroke="#d00000" stroke-width="6.0" stroke-linecap="round"/>
<path d="M118 505h.1M183 525h.1M172 507h.1M163 497h.1M131 514h.1M158 550h.1M129 527h.1M116 531h.1M154 509h.1M165 537h.1M168 528h.1M173 542h.1M155 500h.1M123 527h.1M117 517h.1M170 497h.1M234 523h.1M268 522h.1M253 531h.1M251 512h.1M207 521h.1M205 550h.1M254 525h.1M201 545h.1M257 514h.1M237 519h.1M254 509h.1M212 519h.1M232 504h.1M243 552h.1M276 552h.1M170 605h.1M161 643h.1M146 636h.1M128 629h.1M178 619h.1M173 622h.1M176 610h.1M158 599h.1M163 587h.1M165 619h.1M187 614h.1M113 615h.1M116 612h.1M165 595h.1M162 595h.1M158 590h.1M168 620h.1M194 622h.1M225 593h.1M246 596h.1M242 595h.1M260 636h.1M208 610h.1M211 594h.1M257 615h.1M230 646h.1M232 649h.1M249 596h.1M196 615h.1M215 649h.1M240 608h.1M194 614h.1M205 594h.1M253 614h.1M221 599h.1M225 628h.1M201 577h.1M138 570h.1M153 584h.1M207 566h.1" stroke="#d00000" stroke-width="6.8" stroke-linecap="round"/>
<path d="M131 479h.1M165 489h.1M101 506h.1M106 545h.1M216 490h.1M257 481h.1M266 505h.1M285 512h.1M271 549h.1M105 596h.1M99 632h.1M126 661h.1M160 654h.1M211 655h.1M251 665h.1M270 600h.1M280 637h.1" stroke="#d00000" stroke-width="7.2" stroke-linecap="round"/>
<path d="M260 565h.1M109 629h.1M194 636h.1" stroke="#d00000" stroke-width="7.8" stroke-linecap="round"/>
<path d="M152,542 L157,547 L163,556 L166,566" fill="none" stroke="#40c8c8" stroke-width="6" stroke-linejoin="round" stroke-linecap="round"/>
<path d="M191,574 L197,560" fill="none" stroke="#40c8c8" stroke-width="6" stroke-linejoin="round" stroke-linecap="round"/>
<path d="M191,574 L195,587" fill="none" stroke="#40c8c8" stroke-width="6" stroke-linejoin="round" stroke-linecap="round"/>
<path d="M163,567 L152,580 L145,590" fill="none" stroke="#40c8c8" stroke-width="6" stroke-linejoin="round" stroke-linecap="round"/>
<path d="M140,595 L128,590" fill="none" stroke="#40c8c8" stroke-width="6" stroke-linejoin="round" stroke-linecap="round"/>
<path d="M145,592 L145,605" fill="none" stroke="#40c8c8" stroke-width="6" stroke-linejoin="round" stroke-linecap="round"/>
<circle cx="177.4" cy="570.0" r="6.0" fill="#bfeaea" stroke="#40c8c8" stroke-width="4.5"/>
<circle cx="191.0" cy="574.0" r="3.2" fill="#1010e0"/>
<circle cx="140.0" cy="595.0" r="3.2" fill="#1010e0"/>
<path d="M746 514L750 514M746 514L750 513M759 518L758 517M759 518L760 515M732 535L734 536M732 535L733 537M800 562L798 560M800 562L798 560M788 522L791 520M788 522L786 526M770 526L771 528M770 526L770 524M741 514L741 517M741 514L739 518M793 562L795 563M793 562L791 562M791 520L792 519M791 520L792 521M752 550L753 549M752 550L753 550M785 565L787 566M785 565L787 563M775 553L777 553M775 553L772 552M767 519L767 518M767 519L769 518M765 513L766 512M765 513L766 514M771 528L770 524M799 546L801 546M799 546L797 546M797 565L795 565M797 565L795 563M768 535L768 536M768 535L771 536M775 537L774 540M775 537L771 536M740 528L742 527M740 528L738 532M749 544L751 545M749 544L748 542M765 531L763 530M765 531L766 530M760 521L758 522M760 521L762 519M777 526L777 525M777 526L775 524M755 558L756 558M755 558L756 559M753 545L752 544M753 545L754 544M788 549L790 549M788 549L788 546M746 530L750 530M746 530L750 532M741 538L744 539M741 538L744 540M786 573L785 572M786 573L785 571M760 571L759 571M760 571L759 569M777 563L776 564M777 563L777 565M751 520L752 523M751 520L746 521M763 516L762 517M763 516L762 516M790 532L788 532M790 532L789 535M750 514L750 513M750 514L752 515M781 517L780 516M781 517L783 515M730 541L733 537M730 541L730 536M737 543L738 540M737 543L742 544M789 535L787 535M789 535L788 532M746 535L750 536M746 535L751 534M730 536L733 537M793 541L794 540M793 541L792 543M746 521L746 520M746 521L745 523M801 546L797 546M799 552L799 555M799 552L799 555M790 558L790 557M790 558L790 555M766 514L766 512M766 514L767 515M754 552L755 553M754 552L755 554M791 551L790 549M792 543L788 543M779 554L780 555M779 554L777 553M804 553L803 554M804 553L803 554M778 546L775 544M778 546L775 548M787 570L785 571M792 561L791 562M797 545L797 546M797 545L798 542M781 530L780 529M781 530L777 530M798 560L798 560M765 543L767 544M765 543L768 545M774 540L774 541M774 540L775 543M796 549L797 548M796 549L794 550M738 532L738 532M788 543L788 543M788 543L786 545M770 533L770 532M770 533L771 536M790 528L792 527M746 540L744 540M746 540L744 539M736 549L736 549M736 549L737 551M798 542L798 540M762 566L760 565M762 566L765 566M751 564L753 564M751 564L751 566M761 562L762 562M761 562L760 565M741 517L739 518M766 530L763 530M770 569L773 571M770 569L770 572M752 544L751 545M766 556L765 556M766 556L762 557M747 565L747 565M747 565L750 568M756 559L756 558M806 550L803 554M781 549L782 549M781 549L780 550M764 569L766 571M764 569L765 567M751 566L752 568M751 566L750 568M762 517L762 516M780 516L783 515M792 519L792 521M799 533L797 529M799 533L796 530M773 531L775 532M773 531L770 532M777 514L775 510M759 571L759 569M741 552L742 549M741 552L741 556M753 528L751 529M753 528L751 529M774 541L775 543M773 571L770 572M736 552L737 551M736 552L735 551M781 558L783 557M781 558L780 555M776 564L777 565M759 548L758 554M759 548L753 550M799 555L799 555M799 555L797 556M753 550L753 549M759 534L758 536M759 534L755 536M792 527L796 530M742 544L746 545M742 544L744 540M782 549L784 548M777 518L777 519M777 518L778 519M775 528L777 530M775 528L777 531M734 525L735 521M734 525L739 523M739 523L742 521M739 523L742 527M781 544L785 545M769 518L767 518M752 515L750 513M750 568L752 568M783 557L786 559M779 572L780 569M779 572L777 570M797 556L799 555M772 554L772 552M785 545L786 545M785 545L788 546M797 525L797 529M797 525L800 528M758 554L756 555M758 554L755 554M796 530L797 529M796 530L800 528M758 536L755 536M795 563L795 565M746 545L748 542M765 556L762 557M757 565L760 565M757 565L756 568M793 547L794 550M736 549L737 551M800 528L797 529M779 568L780 569M779 568L780 568M775 510L782 512M777 525L775 524M795 552L794 550M777 530L777 531M777 530L775 532M794 568L795 565M794 568L789 569M780 555L777 553M775 543L775 544M767 544L768 545M789 569L787 566M765 517L765 515M756 568L759 569M787 563L787 566M751 534L750 532M751 534L751 532M751 554L750 554M751 554L752 556M790 555L790 557M780 568L780 568M780 568L780 569M767 515L765 515M754 538L755 538M754 538L755 536M751 546L751 545M742 521L745 523M775 532L777 531M803 554L803 554M780 565L780 568M738 540L737 538M771 544L770 547M771 544L768 545M794 559L793 556M773 520L773 520M773 520L771 522M756 555L755 554M785 571L785 572M752 556L750 554M758 517L760 515M757 539L755 538M755 538L755 536M760 515L762 516M775 548L775 544M762 562L760 565M762 529L763 530M778 519L777 519M755 553L755 554M797 548L797 546M765 566L765 567M744 539L744 540M750 554L748 556M750 536L750 532M733 537L734 536M768 536L771 536M735 551L737 551M753 530L751 532M753 530L751 529M751 532L750 532M788 543L786 545M770 524L771 522M773 520L771 522M751 529L751 529M751 529L750 530M751 529L750 530M758 524L758 522M762 557L762 557M762 557L762 556M786 545L788 546M766 571L765 567M762 557L762 556M832 519L832 519M832 519L834 520M854 526L853 525M854 526L855 525M835 550L835 548M835 550L833 553M823 527L825 523M823 527L824 523M813 536L813 534M813 536L811 533M871 528L869 527M871 528L872 526M827 520L828 517M827 520L827 523M854 565L851 566M854 565L852 567M821 571L821 571M821 571L821 571M823 532L823 533M823 532L824 533M835 579L837 578M835 579L837 581M860 552L861 552M860 552L860 550M842 552L843 552M842 552L843 549M851 582L856 579M851 582L846 580M824 523L825 523M824 523L827 523M855 545L853 546M855 545L856 548M869 530L869 527M853 546L856 548M825 548L827 550M825 548L823 545M851 566L852 567M851 566L852 568M819 541L819 540M819 541L818 545M865 559L864 559M865 559L866 559M843 557L845 560M843 557L846 560M867 575L866 575M867 575L866 574M848 517L849 517M848 517L849 517M817 559L817 560M817 559L815 559M859 543L861 541M861 526L860 528M861 526L862 528M837 538L839 539M837 538L835 535M828 517L832 519M835 574L835 575M835 574L834 576M833 545L834 546M833 545L832 543M876 552L875 551M876 552L876 554M863 577L866 574M863 577L866 575M859 568L860 566M859 568L858 569M846 560L845 560M876 560L879 563M876 560L878 564M845 541L845 542M845 541L847 540M837 581L837 578M858 569L856 568M858 517L858 518M858 517L857 515M841 536L843 538M841 536L845 537M835 548L834 546M876 549L876 549M876 549L874 549M861 537L861 538M861 537L859 537M840 567L841 567M840 567L842 568M822 560L824 560M822 560L820 562M848 555L850 556M848 555L850 558M874 549L876 549M814 563L815 559M814 563L817 560M829 570L827 573M829 570L833 571M844 532L846 533M844 532L841 531M817 549L813 547M817 549L820 547M873 532L872 534M829 525L829 523M829 525L833 525M811 553L810 553M811 553L814 555M850 526L850 526M850 526L853 525M850 547L846 550M860 528L862 528M824 575L824 574M824 575L827 573M833 553L833 555M833 553L835 556M836 560L838 562M836 560L836 557M881 546L880 544M881 546L882 550M842 562L842 562M842 562L845 560M845 537L843 538M845 537L847 540M846 573L847 573M846 573L846 576M833 576L834 576M833 576L835 575M862 531L863 532M862 531L863 530M834 523L833 522M834 523L833 525M876 554L878 552M867 546L866 549M867 546L867 543M840 580L837 578M857 576L855 577M857 576L856 579M832 533L829 535M832 533L834 536M867 560L866 559M866 563L865 564M866 563L863 562M838 518L837 520M838 518L839 516M866 575L866 574M848 533L850 534M848 533L846 533M822 553L821 553M822 553L821 551M844 566L842 568M844 566L841 567M828 547L827 550M809 538L811 539M846 580L846 576M846 580L842 577M821 519L818 523M845 548L845 550M845 548L846 550M875 544L876 544M875 544L873 545M841 542L839 542M841 542L845 542M825 530L824 533M835 514L833 514M835 514L832 513M842 568L841 567M842 568L842 570M835 575L834 576M830 559L832 558M830 559L830 556M830 552L828 552M830 552L830 551M813 547L809 547M851 542L850 539M851 542L854 539M864 559L863 562M852 571L853 569M852 571L852 568M818 523L816 526M829 523L827 523M876 539L873 543M876 539L876 544M866 573L866 574M832 529L833 525M848 552L846 552M848 552L846 550M867 533L866 533M850 556L850 558M850 556L852 554M810 553L814 555M858 529L858 533M827 523L825 523M825 552L826 554M825 552L825 554M816 526L818 531M854 539L856 538M854 539L852 537M821 571L821 571M849 535L850 534M882 550L880 550M818 545L820 547M827 573L824 574M817 560L815 559M844 520L843 521M844 520L845 516M843 552L843 549M879 555L878 552M851 512L851 513M851 512L849 516M846 552L846 550M858 533L859 536M858 533L859 537M879 563L878 564M876 549L875 551M880 550L878 552M852 554L856 553M839 539L839 542M821 565L819 564M821 565L820 562M821 554L821 553M821 554L821 556M834 520L833 522M819 540L815 542M866 559L868 557M813 534L811 533M873 545L873 543M833 525L833 522M870 541L869 542M870 541L873 543M821 533L823 533M827 565L824 569M827 565L824 560M870 568L872 571M870 568L865 564M829 535L828 539M880 544L876 544M851 513L849 516M867 543L869 542M867 543L863 543M823 545L820 547M822 536L824 533M822 536L823 533M835 542L835 542M835 542L832 543M871 549L875 551M836 557L835 557M836 557L835 556M814 532L811 533M838 555L835 557M866 533L863 532M859 537L859 536M811 539L814 540M824 552L824 553M863 543L863 545M863 543L861 541M863 532L863 530M850 526L853 525M848 519L849 517M828 539L825 540M853 569L852 568M853 569L852 567M852 567L852 568M825 554L826 554M845 550L846 550M855 577L856 579M824 533L823 533M846 515L846 516M846 515L845 516M839 547L843 549M845 516L846 516M821 556L821 553M827 580L830 579M828 552L830 551M858 581L856 579M870 523L867 524M849 517L849 517M849 517L849 516M857 515L858 518M845 542L847 540M835 557L835 556M863 547L863 545M863 547L861 548M833 514L832 513M824 571L824 569M865 564L863 562M830 579L833 579M820 562L819 564M842 577L846 576M833 555L835 556M849 516L849 517M869 558L868 557M869 558L871 558M852 537L850 539M841 531L841 532M846 576L847 573M821 551L821 553M861 552L860 550M842 562L845 560M835 567L833 571M851 518L849 517M834 536L835 535M871 558L868 557M832 558L830 556M853 525L855 525M835 542L832 543M815 542L814 540M837 520L837 521M876 544L876 545M861 548L860 550M776 609L775 607M776 609L779 610M769 615L771 618M769 615L767 613M734 596L736 601M734 596L733 602M795 621L794 623M795 621L792 621M778 604L779 601M778 604L773 605M761 650L760 648M761 650L761 646M796 628L797 630M796 628L793 628M791 619L792 621M791 619L790 622M781 628L784 627M781 628L785 628M763 597L762 596M763 597L766 596M767 607L767 605M767 607L764 604M789 642L789 640M789 642L788 644M782 613L782 609M782 613L786 612M736 601L738 602M736 601L733 602M762 632L760 632M762 632L760 632M786 646L789 645M786 646L788 644M725 620L724 619M725 620L727 622M764 620L766 623M764 620L761 624M788 627L787 626M788 627L790 628M744 621L741 619M744 621L747 623M790 622L789 623M790 622L792 621M738 613L739 615M738 613L740 612M773 624L772 625M773 624L769 623M733 641L733 638M733 641L737 642M742 639L746 637M742 639L747 639M765 642L764 642M765 642L761 640M753 615L754 618M753 615L755 618M742 629L742 626M742 629L742 625M769 623L767 625M769 623L766 623M742 607L742 608M742 607L743 609M730 622L731 622M730 622L728 621M771 618L773 617M771 618L773 618M792 646L789 645M792 646L788 644M739 615L740 612M796 641L797 638M796 641L792 640M748 648L748 649M748 648L750 646M769 629L766 630M769 629L767 625M786 612L786 615M754 619L755 618M754 619L754 618M795 609L795 608M795 609L797 608M788 630L785 629M761 644L761 645M761 644L760 643M793 628L790 628M768 646L768 646M768 646L767 651M776 635L778 633M776 635L777 632M789 623L788 622M757 645L760 643M757 645L761 645M749 627L749 627M749 627L751 624M779 624L779 622M766 596L763 594M728 619L728 621M728 619L727 622M728 621L727 622M789 633L790 632M789 633L791 632M763 594L762 596M791 614L793 612M791 614L795 615M785 618L787 617M785 618L786 615M790 632L791 632M738 643L737 642M738 643L738 645M760 648L761 646M761 624L759 625M761 624L763 627M792 639L792 640M792 639L793 637M786 623L788 622M779 617L779 616M779 617L778 615M758 597L760 595M758 597L762 596M756 594L756 594M756 594L756 592M761 590L761 589M761 590L762 591M773 617L773 618M773 617L773 619M754 618L755 618M765 615L767 613M765 615L763 613M738 632L737 633M738 632L737 630M731 636L733 638M731 636L734 635M746 637L747 639M748 620L748 617M748 620L749 623M761 589L762 589M757 632L760 632M757 632L760 632M734 635L733 638M778 615L779 616M778 615L778 614M751 595L750 593M751 595L749 598M738 627L737 630M738 627L734 625M757 603L756 601M757 603L754 604M754 590L753 591M754 590L755 591M752 637L753 636M752 637L754 635M749 641L747 639M749 641L751 643M787 626L785 628M774 616L775 615M785 628L784 627M785 628L785 629M782 609L783 607M782 609L779 610M789 640L792 640M793 637L792 640M746 598L749 598M746 598L744 601M761 640L760 643M761 640L764 642M760 593L760 595M775 645L779 649M775 645L770 642M738 602L734 604M761 636L760 632M761 636L760 632M741 619L740 618M768 646L767 651M735 606L734 604M735 606L733 602M756 594L756 592M786 599L786 598M786 599L785 600M773 618L773 619M744 601L744 604M785 605L785 604M785 605L785 606M797 608L799 608M797 608L795 608M749 627L751 624M753 648L755 651M753 648L750 646M749 623L747 623M749 623L751 624M753 599L751 601M753 599L750 599M743 648L741 646M743 648L745 651M779 601L779 597M761 646L762 646M761 646L761 645M729 616L731 615M787 617L786 615M750 609L751 606M750 609L745 607M754 592L753 591M754 592L755 591M724 616L724 619M724 616L726 612M772 594L775 593M772 594L774 591M762 646L761 645M763 609L762 609M763 609L763 613M737 630L735 632M762 591L763 589M753 636L754 635M774 591L775 590M774 591L775 593M797 617L795 615M737 642L738 645M755 591L756 592M745 607L743 609M745 607L742 608M800 623L794 623M783 600L783 600M783 600L785 600M773 605L775 607M773 605L771 607M745 614L745 613M745 614L743 613M758 617L759 620M750 599L749 599M750 599L749 598M732 602L733 602M732 602L734 604M789 645L788 644M779 649L780 650M755 627L755 627M755 627L756 628M778 633L777 632M764 604L767 605M764 604L761 605M759 625L755 627M756 629L756 628M788 606L791 607M788 606L785 606M742 608L743 609M742 608L741 609M761 630L760 632M783 631L785 629M760 605L761 605M754 604L751 606M784 602L783 600M768 588L768 589M768 588L763 589M750 593L753 591M787 596L785 595M787 596L786 598M730 611L731 609M730 611L728 612M729 632L727 629M797 632L797 630M778 612L778 614M778 612L779 610M741 646L738 645M737 633L735 632M750 646L751 643M768 636L770 642M783 607L783 605M741 609L739 610M777 595L779 597M777 595L775 593M733 617L734 618M733 617L731 615M786 642L788 644M731 609L728 612M763 589L762 589M796 605L798 605M750 633L751 631M742 626L742 625M794 624L794 623M740 612L743 613M753 641L752 642M753 641L751 643M775 590L775 593M784 593L785 595M791 607L795 608M774 628L777 632M749 598L749 599M733 602L734 604M793 612L795 615M745 651L748 652M745 651L748 649M748 652L748 649M753 589L753 591M766 623L767 625M744 617L748 617M783 605L783 604M785 600L786 598M785 606L785 604M736 623L737 623M736 623L734 625M770 611L767 613M745 613L743 613M762 609L759 611M752 642L751 643M739 610L738 610M760 632L760 632M726 612L728 612M799 608L798 605M734 625L737 623M872 637L874 636M872 637L872 633M830 621L832 620M830 621L830 619M810 634L810 632M810 634L814 632M818 638L819 637M818 638L819 636M860 608L861 609M860 608L858 607M825 597L826 598M825 597L823 599M865 628L865 629M865 628L865 627M875 611L876 611M875 611L875 609M826 625L825 624M826 625L827 626M810 632L812 630M834 625L835 627M834 625L831 627M812 626L813 625M812 626L815 626M851 619L849 622M851 619L848 620M837 594L840 596M837 594L840 597M824 630L823 629M824 630L823 632M851 624L851 626M851 624L849 622M860 652L859 655M860 652L861 656M857 627L856 629M857 627L856 629M822 599L823 599M864 603L865 603M864 603L862 603M830 660L827 657M830 660L831 655M866 620L866 621M866 620L864 618M814 614L815 615M814 614L813 616M858 631L858 632M858 631L856 632M840 597L841 597M840 597L840 596M834 613L835 613M834 613L833 615M845 609L844 610M845 609L845 606M875 608L875 609M846 601L848 601M846 601L847 599M841 597L840 596M831 655L829 653M831 655L827 653M864 618L864 618M864 618L862 618M862 600L862 601M862 600L863 601M814 611L814 609M814 611L812 609M858 607L858 606M858 607L858 605M823 632L823 629M854 622L855 620M840 602L840 601M840 602L839 604M823 603L824 602M823 603L824 605M842 613L845 614M842 613L841 611M829 648L830 649M829 648L826 647M843 597L843 597M838 652L836 654M838 652L835 654M852 607L854 608M852 607L853 602M880 625L880 628M880 625L880 629M830 598L831 599M830 598L831 596M838 639L842 639M838 639L838 643M819 652L818 650M819 652L820 654M862 603L863 602M831 651L830 649M831 651L829 653M848 601L847 599M854 639L854 638M854 639L855 640M831 642L831 642M831 642L832 642M839 648L838 648M839 648L841 648M867 644L867 642M867 644L865 644M843 661L846 662M843 661L847 663M849 615L851 613M849 615L845 614M857 603L859 602M857 603L858 605M865 629L865 627M831 642L832 642M855 642L855 641M855 642L855 640M871 648L865 650M831 606L833 609M831 606L833 602M815 626L813 625M830 634L830 635M830 634L829 635M849 649L852 648M849 649L846 650M835 616L833 615M835 616L835 613M860 614L863 614M860 614L857 611M851 613L854 614M860 620L859 619M860 620L861 620M863 628L865 627M849 658L848 656M849 658L850 654M855 641L855 640M852 648L851 646M858 606L858 605M840 616L840 619M840 616L844 616M814 632L816 633M814 632L812 630M875 629L877 628M875 629L872 633M832 620L830 619M831 596L831 599M870 614L872 614M870 614L870 612M811 641L811 639M811 641L814 645M841 648L842 649M865 607L869 609M865 607L868 605M816 622L816 620M816 622L815 619M872 633L874 636M845 639L842 639M845 639L848 635M826 647L823 648M858 643L858 642M858 643L859 644M824 605L824 602M855 599L854 596M855 599L858 597M848 635L847 632M848 635L850 637M869 603L870 604M869 603L868 605M858 595L858 597M858 595L855 595M857 636L855 637M857 636L854 638M831 627L830 629M831 627L835 627M819 647L818 650M819 647L815 648M826 602L824 602M810 620L811 620M810 620L808 622M856 629L856 629M868 628L869 629M851 626L849 631M836 647L835 645M836 647L838 648M816 633L819 634M827 657L824 659M827 657L827 653M843 644L844 644M843 644L847 645M855 654L855 655M855 654L854 656M855 620L857 618M868 634L866 633M868 634L865 634M846 662L847 663M849 622L848 620M815 619L816 620M854 656L855 655M827 628L826 629M827 628L827 626M862 598L862 601M860 646L859 644M836 654L835 654M847 632L849 631M872 617L872 614M854 596L855 595M858 632L856 632M859 655L861 656M859 655L857 657M854 638L855 637M828 612L827 617M828 612L827 617M840 619L844 621M833 645L835 645M833 645L832 642M833 602L832 601M833 602L836 604M862 618L861 617M862 618L861 620M813 616L815 615M847 645L844 644M845 620L844 621M845 620L848 620M836 612L835 613M844 616L845 614M818 613L815 615M819 636L818 636M819 636L819 637M859 619L861 620M826 623L825 624M812 609L814 609M854 614L857 618M865 645L865 644M827 617L827 617M827 617L827 619M865 603L865 602M869 629L868 631M861 617L861 620M865 611L866 612M865 611L863 614M824 659L820 654M845 606L844 606M815 648L814 645M811 620L808 622M825 620L827 619M863 614L866 612M835 627L834 629M836 604L839 604M862 601L863 601M848 656L846 654M844 621L848 620M868 605L870 604M866 621L864 618M841 611L841 609M820 654L818 650M818 636L819 637M857 610L857 611M857 610L861 609M863 601L863 602M821 628L822 627M821 628L818 627M869 609L870 612M835 636L832 639M861 656L857 657M877 628L880 628M836 659L837 661M827 617L827 619M818 627L822 627M876 619L874 619M876 619L879 620M832 601L831 599M830 619L827 619M865 634L866 633M859 644L858 642M842 634L838 629M842 634L842 639M846 650L848 652M848 652L850 654M848 652L846 654M857 657L856 659M874 614L872 614M829 635L830 635M880 628L880 629M827 653L829 653M873 622L874 619M844 593L843 597M872 614L870 612M840 601L839 604M815 567L816 568M815 567L811 567M818 581L819 578M818 581L814 579M804 569L807 572M804 569L811 567M803 611L808 615M803 611L807 604M807 589L809 586M807 589L811 593M800 579L808 575M800 579L791 579M825 593L823 589M825 593L820 596M792 598L790 600M792 598L797 600M818 597L820 596M818 597L813 598M823 578L826 580M823 578L819 578M807 604L808 601M807 604L804 601M812 607L814 610M798 602L800 602M798 602L797 600M813 598L811 597M813 598L811 593M809 586L811 593M811 593L811 597M791 612L791 614M791 612L795 606M808 601L804 601M821 604L820 608M795 606L800 602M812 578L814 579M812 578L808 575M816 568L811 567M827 581L826 580M827 581L825 582M790 600L797 600M808 615L813 615M797 600L800 602M816 574L813 573M807 572L808 575M820 608L814 610M826 580L825 582M813 615L814 610M823 589L825 582M770 571L769 574M770 571L769 578M780 586L785 582M780 586L784 590M776 579L769 578M769 574L769 578M785 582L784 577M790 587L784 590M771 589L772 587M751 579L751 582M751 579L756 580M756 580L757 584M784 577L784 576M757 584L751 582M863 592L857 594M863 592L863 582M830 585L830 585M830 585L831 585M830 591L829 592M830 591L827 592M831 585L830 585M857 594L847 589M845 593L847 589M827 592L829 592" fill="none" stroke="#111" stroke-width="3.5" stroke-linecap="round"/>
<path d="M732 535h.1M800 562h.1M788 522h.1M770 526h.1M741 514h.1M793 562h.1M752 550h.1M775 553h.1M767 519h.1M799 546h.1M797 565h.1M768 535h.1M740 528h.1M749 544h.1M765 531h.1M760 521h.1M755 558h.1M753 545h.1M746 530h.1M741 538h.1M786 573h.1M760 571h.1M777 563h.1M751 520h.1M790 532h.1M737 543h.1M789 535h.1M746 535h.1M801 546h.1M799 552h.1M790 558h.1M766 514h.1M754 552h.1M791 551h.1M779 554h.1M804 553h.1M792 561h.1M797 545h.1M781 530h.1M765 543h.1M774 540h.1M796 549h.1M788 543h.1M770 533h.1M790 528h.1M798 542h.1M751 564h.1M761 562h.1M741 517h.1M770 569h.1M766 556h.1M806 550h.1M781 549h.1M764 569h.1M751 566h.1M762 517h.1M788 532h.1M792 519h.1M799 533h.1M773 531h.1M777 514h.1M741 552h.1M753 528h.1M791 562h.1M774 541h.1M773 571h.1M736 552h.1M781 558h.1M759 548h.1M799 555h.1M753 550h.1M759 534h.1M792 527h.1M777 518h.1M734 525h.1M739 523h.1M769 518h.1M783 557h.1M797 556h.1M772 554h.1M785 545h.1M797 525h.1M758 554h.1M796 530h.1M758 536h.1M757 565h.1M793 547h.1M736 549h.1M800 528h.1M775 510h.1M777 525h.1M795 552h.1M777 530h.1M794 568h.1M780 555h.1M767 544h.1M775 524h.1M794 550h.1M765 517h.1M756 568h.1M787 563h.1M751 534h.1M762 519h.1M753 549h.1M748 542h.1M780 568h.1M754 538h.1M747 565h.1M751 546h.1M780 569h.1M742 521h.1M730 529h.1M775 532h.1M803 554h.1M799 555h.1M780 565h.1M735 521h.1M738 540h.1M756 558h.1M794 559h.1M745 523h.1M773 520h.1M777 531h.1M785 571h.1M767 510h.1M752 556h.1M757 539h.1M755 538h.1M790 557h.1M760 515h.1M742 549h.1M775 548h.1M762 562h.1M742 527h.1M778 519h.1M755 553h.1M770 572h.1M754 544h.1M770 532h.1M765 515h.1M797 548h.1M784 548h.1M775 544h.1M765 566h.1M750 554h.1M750 536h.1M734 536h.1M792 521h.1M768 536h.1M780 550h.1M782 512h.1M762 516h.1M749 547h.1M737 551h.1M771 536h.1M788 543h.1M770 524h.1M777 519h.1M770 547h.1M773 520h.1M785 572h.1M763 530h.1M751 529h.1M751 529h.1M750 532h.1M753 564h.1M771 522h.1M762 557h.1M750 513h.1M786 545h.1M755 554h.1M788 546h.1M762 557h.1M780 568h.1M793 556h.1M762 556h.1M797 546h.1M777 570h.1M755 536h.1M738 532h.1M748 556h.1M772 552h.1M801 558h.1M832 519h.1M854 526h.1M835 550h.1M860 552h.1M842 552h.1M824 523h.1M851 566h.1M867 575h.1M859 543h.1M861 526h.1M837 538h.1M828 517h.1M833 545h.1M876 552h.1M846 560h.1M876 560h.1M845 541h.1M858 569h.1M841 536h.1M835 548h.1M848 555h.1M874 549h.1M814 563h.1M829 570h.1M844 532h.1M811 553h.1M850 526h.1M850 547h.1M860 528h.1M860 566h.1M836 560h.1M842 562h.1M845 537h.1M846 573h.1M833 576h.1M869 527h.1M856 568h.1M834 523h.1M876 554h.1M867 560h.1M866 563h.1M848 533h.1M822 553h.1M828 547h.1M846 580h.1M845 548h.1M841 542h.1M835 514h.1M842 568h.1M830 559h.1M830 552h.1M851 542h.1M829 523h.1M866 573h.1M832 529h.1M848 552h.1M850 556h.1M810 553h.1M858 529h.1M814 555h.1M825 552h.1M843 538h.1M854 539h.1M821 571h.1M849 535h.1M882 550h.1M818 545h.1M827 573h.1M846 533h.1M844 520h.1M843 552h.1M879 555h.1M846 552h.1M876 549h.1M880 550h.1M848 570h.1M821 565h.1M819 540h.1M813 534h.1M815 559h.1M833 525h.1M870 541h.1M827 565h.1M870 568h.1M829 535h.1M880 544h.1M851 513h.1M867 543h.1M823 545h.1M822 536h.1M835 542h.1M833 522h.1M871 549h.1M836 557h.1M814 532h.1M834 546h.1M838 555h.1M866 533h.1M859 537h.1M811 539h.1M863 543h.1M863 532h.1M821 571h.1M850 526h.1M834 576h.1M848 519h.1M828 539h.1M853 569h.1M852 567h.1M821 570h.1M825 554h.1M845 550h.1M855 577h.1M824 533h.1M841 567h.1M837 578h.1M863 556h.1M839 547h.1M845 516h.1M869 542h.1M821 556h.1M878 552h.1M827 580h.1M858 581h.1M861 541h.1M857 515h.1M845 542h.1M856 553h.1M842 570h.1M833 514h.1M843 549h.1M865 564h.1M809 547h.1M830 579h.1M820 562h.1M827 550h.1M833 555h.1M818 531h.1M849 516h.1M869 558h.1M861 538h.1M824 569h.1M852 537h.1M841 531h.1M875 551h.1M825 523h.1M841 532h.1M867 538h.1M842 562h.1M835 567h.1M850 558h.1M863 562h.1M858 518h.1M862 528h.1M845 560h.1M867 524h.1M846 550h.1M853 525h.1M835 542h.1M833 579h.1M855 525h.1M843 521h.1M859 536h.1M863 530h.1M831 561h.1M850 564h.1M832 543h.1M837 521h.1M835 535h.1M835 556h.1M861 548h.1M821 553h.1M811 533h.1M876 545h.1M824 557h.1M860 550h.1M862 520h.1M847 573h.1M776 609h.1M769 615h.1M795 621h.1M796 628h.1M781 628h.1M763 597h.1M767 607h.1M789 642h.1M782 613h.1M736 601h.1M762 632h.1M786 646h.1M764 620h.1M744 621h.1M790 622h.1M733 641h.1M742 639h.1M742 629h.1M742 607h.1M771 618h.1M769 629h.1M754 619h.1M795 609h.1M761 644h.1M793 628h.1M768 646h.1M776 635h.1M757 645h.1M766 596h.1M728 621h.1M763 594h.1M791 614h.1M790 632h.1M790 628h.1M738 643h.1M760 648h.1M761 624h.1M792 639h.1M786 623h.1M779 617h.1M761 590h.1M773 617h.1M754 618h.1M765 615h.1M738 632h.1M746 637h.1M761 589h.1M757 632h.1M778 615h.1M751 595h.1M757 603h.1M754 590h.1M766 630h.1M752 637h.1M792 621h.1M785 628h.1M782 609h.1M746 598h.1M775 645h.1M741 619h.1M735 606h.1M756 594h.1M786 599h.1M773 618h.1M785 605h.1M797 608h.1M749 627h.1M753 648h.1M753 599h.1M779 601h.1M761 646h.1M750 609h.1M762 596h.1M754 592h.1M764 642h.1M772 594h.1M762 646h.1M763 609h.1M737 630h.1M762 591h.1M753 636h.1M774 591h.1M761 645h.1M788 637h.1M797 617h.1M745 607h.1M783 600h.1M773 605h.1M745 614h.1M758 617h.1M760 643h.1M750 599h.1M789 645h.1M779 649h.1M779 622h.1M755 627h.1M764 604h.1M727 622h.1M756 629h.1M742 608h.1M761 630h.1M760 605h.1M754 604h.1M750 593h.1M787 596h.1M756 601h.1M756 628h.1M778 612h.1M773 619h.1M756 592h.1M763 613h.1M750 646h.1M768 636h.1M783 607h.1M733 638h.1M761 605h.1M763 589h.1M796 605h.1M750 633h.1M742 626h.1M794 624h.1M753 641h.1M775 590h.1M791 607h.1M770 642h.1M738 637h.1M731 615h.1M748 652h.1M751 601h.1M753 629h.1M734 604h.1M777 632h.1M766 623h.1M785 629h.1M751 624h.1M783 642h.1M744 617h.1M785 600h.1M736 623h.1M783 600h.1M748 644h.1M770 611h.1M794 623h.1M745 613h.1M792 603h.1M743 613h.1M739 610h.1M786 615h.1M767 625h.1M763 627h.1M759 611h.1M780 650h.1M747 623h.1M726 612h.1M751 631h.1M784 627h.1M788 644h.1M779 616h.1M738 610h.1M728 612h.1M759 620h.1M734 625h.1M724 619h.1M737 623h.1M785 595h.1M795 615h.1M872 637h.1M830 621h.1M810 634h.1M818 638h.1M860 608h.1M825 597h.1M865 628h.1M875 611h.1M826 625h.1M834 625h.1M812 626h.1M851 619h.1M851 624h.1M860 652h.1M857 627h.1M864 603h.1M866 620h.1M814 614h.1M823 599h.1M858 631h.1M834 613h.1M875 608h.1M846 601h.1M841 597h.1M864 618h.1M814 611h.1M858 607h.1M823 632h.1M854 622h.1M875 609h.1M843 597h.1M838 652h.1M852 607h.1M880 625h.1M830 598h.1M838 639h.1M819 652h.1M848 601h.1M831 642h.1M839 648h.1M867 644h.1M843 661h.1M849 615h.1M831 642h.1M871 648h.1M831 606h.1M815 626h.1M849 649h.1M835 616h.1M855 641h.1M852 648h.1M858 606h.1M840 616h.1M875 629h.1M832 620h.1M831 596h.1M841 648h.1M816 622h.1M845 639h.1M826 647h.1M812 630h.1M858 643h.1M824 605h.1M874 636h.1M869 603h.1M857 636h.1M826 602h.1M810 620h.1M868 628h.1M851 626h.1M844 610h.1M823 648h.1M855 654h.1M854 608h.1M856 629h.1M868 634h.1M846 662h.1M849 622h.1M854 656h.1M827 628h.1M861 627h.1M860 646h.1M836 654h.1M847 632h.1M872 617h.1M854 596h.1M858 632h.1M826 629h.1M854 638h.1M833 645h.1M833 602h.1M862 618h.1M849 631h.1M845 620h.1M836 612h.1M844 616h.1M818 613h.1M819 636h.1M859 619h.1M854 614h.1M865 645h.1M855 640h.1M865 603h.1M855 595h.1M869 629h.1M865 611h.1M824 659h.1M853 602h.1M811 620h.1M830 629h.1M825 620h.1M832 642h.1M863 614h.1M835 627h.1M836 604h.1M844 621h.1M868 605h.1M866 621h.1M808 622h.1M827 626h.1M857 610h.1M879 639h.1M833 615h.1M863 601h.1M821 628h.1M820 632h.1M835 636h.1M877 628h.1M816 620h.1M827 617h.1M876 619h.1M830 619h.1M831 599h.1M861 609h.1M832 639h.1M842 634h.1M865 602h.1M835 645h.1M833 609h.1M838 643h.1M867 642h.1M844 644h.1M814 645h.1M857 618h.1M858 642h.1M823 629h.1M827 653h.1M873 622h.1M847 663h.1M822 622h.1M857 611h.1M844 593h.1M822 627h.1M872 614h.1M818 609h.1M843 597h.1M834 629h.1M851 646h.1M868 631h.1M827 619h.1M838 648h.1M840 601h.1M841 609h.1M839 604h.1M858 597h.1M848 620h.1M870 612h.1M866 612h.1M850 654h.1M842 639h.1M853 641h.1M838 629h.1M847 599h.1M861 620h.1M841 624h.1M815 567h.1M818 581h.1M804 569h.1M803 611h.1M807 589h.1M800 579h.1M823 578h.1M798 602h.1M813 598h.1M809 586h.1M791 612h.1M808 601h.1M821 604h.1M791 614h.1M812 578h.1M816 568h.1M790 600h.1M808 615h.1M791 579h.1M797 600h.1M807 572h.1M820 608h.1M826 580h.1M813 573h.1M814 579h.1M800 602h.1M811 567h.1M813 615h.1M811 597h.1M814 610h.1M776 579h.1M785 582h.1M790 587h.1M784 590h.1M769 578h.1M784 576h.1M863 592h.1M831 585h.1M836 585h.1M857 594h.1M827 592h.1M829 592h.1" stroke="#111" stroke-width="6.0" stroke-linecap="round"/>
<path d="M729 638h.1" stroke="#111" stroke-width="6.8" stroke-linecap="round"/>
<path d="M765 503h.1M778 507h.1M730 534h.1M853 506h.1M842 510h.1M886 541h.1M884 555h.1M720 622h.1M751 660h.1M765 659h.1M832 666h.1M842 668h.1M879 623h.1M880 636h.1" stroke="#111" stroke-width="7.0" stroke-linecap="round"/>
<path d="M766 530h.1M752 523h.1M783 515h.1M758 513h.1M854 565h.1M863 545h.1M748 648h.1M758 597h.1M740 612h.1M792 598h.1M840 597h.1M830 634h.1M859 655h.1M864 618h.1M818 597h.1" stroke="#eeeeee" stroke-width="4.0" stroke-linecap="round"/>
<path d="M759 518h.1M777 526h.1M750 514h.1M762 566h.1M756 559h.1M767 518h.1M746 545h.1M779 568h.1M787 566h.1M751 545h.1M753 530h.1M766 552h.1M744 540h.1M758 524h.1M750 530h.1M777 553h.1M786 526h.1M851 582h.1M855 545h.1M825 548h.1M865 559h.1M835 574h.1M859 568h.1M876 549h.1M840 567h.1M873 532h.1M829 525h.1M833 553h.1M866 575h.1M809 538h.1M816 526h.1M858 533h.1M870 523h.1M849 517h.1M863 547h.1M824 571h.1M856 538h.1M857 558h.1M850 539h.1M861 552h.1M826 554h.1M868 557h.1M872 571h.1M847 540h.1M814 540h.1M778 604h.1M773 624h.1M765 642h.1M786 612h.1M789 623h.1M789 633h.1M748 620h.1M738 627h.1M749 641h.1M755 618h.1M793 637h.1M761 636h.1M768 646h.1M749 623h.1M732 602h.1M792 640h.1M778 633h.1M757 639h.1M784 593h.1M768 589h.1M771 607h.1M783 605h.1M762 609h.1M752 642h.1M775 593h.1M735 632h.1M748 617h.1M767 613h.1M797 638h.1M785 604h.1M742 625h.1M824 630h.1M822 599h.1M840 602h.1M823 603h.1M829 648h.1M862 603h.1M857 603h.1M863 628h.1M814 632h.1M813 616h.1M873 640h.1M876 611h.1M820 654h.1M861 656h.1M818 627h.1M865 634h.1M844 606h.1M880 628h.1M815 605h.1M850 637h.1M813 625h.1M846 654h.1M825 593h.1M811 593h.1M827 581h.1M756 580h.1M784 577h.1M757 584h.1M830 591h.1" stroke="#1a22e0" stroke-width="5.2" stroke-linecap="round"/>
<path d="M791 520h.1M775 537h.1M781 517h.1M792 543h.1M746 540h.1M736 549h.1M780 516h.1M742 544h.1M781 544h.1M752 515h.1M794 540h.1M739 518h.1M751 554h.1M790 555h.1M771 544h.1M758 517h.1M762 529h.1M733 537h.1M735 551h.1M768 545h.1M751 532h.1M737 538h.1M797 529h.1M746 520h.1M823 532h.1M835 579h.1M863 577h.1M861 537h.1M832 533h.1M813 547h.1M821 554h.1M866 559h.1M824 552h.1M832 519h.1M856 579h.1M846 576h.1M866 549h.1M830 556h.1M878 564h.1M833 571h.1M839 542h.1M832 513h.1M824 574h.1M838 562h.1M788 627h.1M738 613h.1M753 615h.1M769 623h.1M739 615h.1M779 624h.1M734 635h.1M761 640h.1M755 591h.1M759 625h.1M783 631h.1M768 588h.1M730 611h.1M755 627h.1M751 606h.1M774 628h.1M745 651h.1M748 649h.1M767 605h.1M727 629h.1M738 645h.1M749 599h.1M795 608h.1M753 591h.1M810 632h.1M837 594h.1M831 655h.1M842 613h.1M865 629h.1M860 614h.1M811 641h.1M872 633h.1M855 599h.1M848 635h.1M827 657h.1M815 619h.1M828 612h.1M840 619h.1M842 649h.1M835 654h.1M826 598h.1M827 617h.1M818 643h.1M815 648h.1M841 611h.1M869 609h.1M811 639h.1M837 661h.1M846 650h.1M863 602h.1M857 657h.1M874 614h.1M829 635h.1M880 629h.1M818 650h.1M824 602h.1M856 632h.1M815 615h.1M874 619h.1M865 650h.1M792 598h.1M807 604h.1M820 596h.1M804 601h.1M825 582h.1M751 579h.1M830 585h.1" stroke="#d00000" stroke-width="4.8" stroke-linecap="round"/>
<path d="M785 565h.1M765 513h.1M788 549h.1M763 516h.1M746 521h.1M778 546h.1M798 560h.1M738 532h.1M752 544h.1M747 565h.1M776 564h.1M775 528h.1M750 568h.1M779 572h.1M765 556h.1M789 569h.1M777 565h.1M767 515h.1M756 555h.1M798 540h.1M805 543h.1M803 554h.1M796 562h.1M758 522h.1M786 559h.1M765 567h.1M788 539h.1M871 528h.1M827 520h.1M821 571h.1M843 557h.1M848 517h.1M817 559h.1M837 581h.1M822 560h.1M856 548h.1M881 546h.1M862 531h.1M867 546h.1M821 519h.1M875 544h.1M825 530h.1M835 575h.1M864 559h.1M876 539h.1M867 533h.1M827 523h.1M851 512h.1M879 563h.1M873 545h.1M821 533h.1M872 526h.1M846 515h.1M820 547h.1M828 552h.1M856 573h.1M846 516h.1M821 551h.1M851 518h.1M872 534h.1M871 558h.1M832 558h.1M866 574h.1M876 544h.1M854 517h.1M734 596h.1M791 619h.1M730 622h.1M788 630h.1M749 627h.1M756 594h.1M731 636h.1M774 616h.1M772 625h.1M787 617h.1M737 642h.1M775 607h.1M788 606h.1M784 602h.1M754 635h.1M741 646h.1M775 615h.1M777 595h.1M797 630h.1M733 602h.1M753 589h.1M760 595h.1M783 604h.1M779 597h.1M734 618h.1M799 608h.1M778 614h.1M760 632h.1M779 610h.1M798 605h.1M767 651h.1M755 651h.1M743 609h.1M830 660h.1M845 609h.1M831 651h.1M854 639h.1M851 613h.1M849 658h.1M865 607h.1M858 595h.1M819 647h.1M816 633h.1M843 644h.1M855 620h.1M847 645h.1M826 623h.1M861 617h.1M836 659h.1M840 596h.1M825 624h.1M855 655h.1M859 602h.1M855 637h.1M856 659h.1M830 635h.1M795 606h.1M823 589h.1M770 571h.1M769 574h.1M751 582h.1M772 587h.1M863 582h.1M845 593h.1M847 589h.1" stroke="#d00000" stroke-width="5.6" stroke-linecap="round"/>
<path d="M746 514h.1M771 528h.1M730 541h.1M730 536h.1M793 541h.1M787 570h.1M766 512h.1M790 549h.1M759 571h.1M782 549h.1M798 560h.1M795 563h.1M752 568h.1M775 543h.1M787 535h.1M741 556h.1M744 539h.1M795 565h.1M780 529h.1M766 571h.1M759 569h.1M760 565h.1M823 527h.1M813 536h.1M869 530h.1M853 546h.1M819 541h.1M858 517h.1M817 549h.1M824 575h.1M840 580h.1M857 576h.1M838 518h.1M844 566h.1M852 571h.1M818 523h.1M817 560h.1M852 554h.1M839 539h.1M834 520h.1M850 534h.1M873 543h.1M852 568h.1M839 516h.1M835 557h.1M842 577h.1M864 569h.1M830 551h.1M834 536h.1M815 542h.1M849 517h.1M837 520h.1M819 564h.1M825 540h.1M824 553h.1M824 560h.1M823 533h.1M761 650h.1M725 620h.1M792 646h.1M796 641h.1M728 619h.1M785 618h.1M787 626h.1M791 632h.1M789 640h.1M760 593h.1M738 602h.1M744 601h.1M743 648h.1M729 616h.1M776 639h.1M724 616h.1M800 623h.1M747 639h.1M729 632h.1M797 632h.1M737 633h.1M741 609h.1M733 617h.1M786 642h.1M731 609h.1M788 622h.1M749 598h.1M793 612h.1M785 606h.1M760 632h.1M747 591h.1M762 589h.1M744 604h.1M740 618h.1M751 643h.1M731 622h.1M781 634h.1M786 598h.1M862 600h.1M855 642h.1M860 620h.1M870 614h.1M831 627h.1M856 629h.1M836 647h.1M862 598h.1M812 609h.1M845 614h.1M830 649h.1M845 606h.1M862 601h.1M848 656h.1M858 605h.1M818 636h.1M865 644h.1M819 634h.1M870 604h.1M832 601h.1M835 613h.1M859 644h.1M879 620h.1M848 652h.1M819 637h.1M814 609h.1M866 633h.1M865 627h.1M829 653h.1M812 607h.1M819 578h.1M816 574h.1M808 575h.1M780 586h.1M771 589h.1M830 585h.1" stroke="#d00000" stroke-width="6.2" stroke-linecap="round"/>
<path d="M718 532h.1" stroke="#d00000" stroke-width="6.8" stroke-linecap="round"/>
<path d="M753 499h.1M788 510h.1M727 522h.1M734 557h.1M862 503h.1M887 529h.1M880 566h.1M716 632h.1M738 660h.1M776 659h.1M824 664h.1M852 671h.1M880 646h.1M882 614h.1" stroke="#d00000" stroke-width="7.0" stroke-linecap="round"/>
<path d="M797 506h.1M804 549h.1M841 592h.1M770 586h.1M881 615h.1M886 618h.1" stroke="#d00000" stroke-width="7.8" stroke-linecap="round"/>
<path d="M757,566 L768,571 L777,578" fill="none" stroke="#40c8c8" stroke-width="6" stroke-linejoin="round" stroke-linecap="round"/>
<path d="M816,583 L823,575" fill="none" stroke="#40c8c8" stroke-width="6" stroke-linejoin="round" stroke-linecap="round"/>
<path d="M816,583 L825,591" fill="none" stroke="#40c8c8" stroke-width="6" stroke-linejoin="round" stroke-linecap="round"/>
<path d="M780,590 L780,607" fill="none" stroke="#40c8c8" stroke-width="6" stroke-linejoin="round" stroke-linecap="round"/>
<circle cx="802.0" cy="584.4" r="6.5" fill="#bfeaea" stroke="#40c8c8" stroke-width="4.5"/>
<circle cx="785.0" cy="582.0" r="5.5" fill="#bfeaea" stroke="#40c8c8" stroke-width="4.5"/>
<circle cx="816.0" cy="583.0" r="3.2" fill="#1010e0"/>
<circle cx="763.6" cy="566.3" r="3.2" fill="#1010e0"/>
<rect x="348.1" y="163.5" width="151.9" height="45.0" fill="#fff" stroke="#111" stroke-width="1.6"/>
<line x1="350.5" y1="177.2" x2="379.0" y2="177.2" stroke="#c80000" stroke-width="4.5" stroke-linecap="round"/>
<line x1="350.5" y1="194.4" x2="379.0" y2="194.4" stroke="#0000f0" stroke-width="4.5" stroke-linecap="round"/>
<text x="382.5" y="182.0" font-family="Liberation Serif" font-weight="bold" font-size="13.3" fill="#111" textLength="112.5" lengthAdjust="spacingAndGlyphs">Free energy( kJ/mol)</text>
<text x="382.5" y="199.2" font-family="Liberation Serif" font-weight="bold" font-size="13.3" fill="#111" textLength="83.0" lengthAdjust="spacingAndGlyphs">Density( kg/m<tspan font-size="8" dy="-5">3</tspan><tspan dy="5">)</tspan></text>
<line x1="50.0" y1="6.7" x2="523.0" y2="6.7" stroke="#111" stroke-width="1.6"/>
<line x1="50.0" y1="389.6" x2="523.0" y2="389.6" stroke="#111" stroke-width="1.6"/>
<line x1="50.5" y1="389.6" x2="50.5" y2="393.1" stroke="#111" stroke-width="1.5"/>
<line x1="50.5" y1="6.7" x2="50.5" y2="10.2" stroke="#111" stroke-width="1.5"/>
<line x1="126.7" y1="389.6" x2="126.7" y2="396.6" stroke="#111" stroke-width="1.5"/>
<line x1="126.7" y1="6.7" x2="126.7" y2="13.7" stroke="#111" stroke-width="1.5"/>
<text x="126.7" y="414.8" font-family="Liberation Sans" font-size="16" text-anchor="middle" fill="#111" stroke="#111" stroke-width="0.2">0</text>
<line x1="202.9" y1="389.6" x2="202.9" y2="393.1" stroke="#111" stroke-width="1.5"/>
<line x1="202.9" y1="6.7" x2="202.9" y2="10.2" stroke="#111" stroke-width="1.5"/>
<line x1="279.1" y1="389.6" x2="279.1" y2="396.6" stroke="#111" stroke-width="1.5"/>
<line x1="279.1" y1="6.7" x2="279.1" y2="13.7" stroke="#111" stroke-width="1.5"/>
<text x="279.1" y="414.8" font-family="Liberation Sans" font-size="16" text-anchor="middle" fill="#111" stroke="#111" stroke-width="0.2">1</text>
<line x1="355.3" y1="389.6" x2="355.3" y2="393.1" stroke="#111" stroke-width="1.5"/>
<line x1="355.3" y1="6.7" x2="355.3" y2="10.2" stroke="#111" stroke-width="1.5"/>
<line x1="431.5" y1="389.6" x2="431.5" y2="396.6" stroke="#111" stroke-width="1.5"/>
<line x1="431.5" y1="6.7" x2="431.5" y2="13.7" stroke="#111" stroke-width="1.5"/>
<text x="431.5" y="414.8" font-family="Liberation Sans" font-size="16" text-anchor="middle" fill="#111" stroke="#111" stroke-width="0.2">2</text>
<line x1="507.7" y1="389.6" x2="507.7" y2="393.1" stroke="#111" stroke-width="1.5"/>
<line x1="507.7" y1="6.7" x2="507.7" y2="10.2" stroke="#111" stroke-width="1.5"/>
<line x1="50.0" y1="6.7" x2="50.0" y2="389.6" stroke="#d8222a" stroke-width="1.7"/>
<line x1="42.0" y1="389.3" x2="50.0" y2="389.3" stroke="#d8222a" stroke-width="1.6"/>
<text x="37.5" y="394.3" font-family="Liberation Sans" font-size="16" text-anchor="end" fill="#d8222a" stroke="#d8222a" stroke-width="0.3">-250</text>
<line x1="46.0" y1="359.8" x2="50.0" y2="359.8" stroke="#d8222a" stroke-width="1.6"/>
<line x1="42.0" y1="330.3" x2="50.0" y2="330.3" stroke="#d8222a" stroke-width="1.6"/>
<text x="37.5" y="335.3" font-family="Liberation Sans" font-size="16" text-anchor="end" fill="#d8222a" stroke="#d8222a" stroke-width="0.3">-200</text>
<line x1="46.0" y1="300.9" x2="50.0" y2="300.9" stroke="#d8222a" stroke-width="1.6"/>
<line x1="42.0" y1="271.4" x2="50.0" y2="271.4" stroke="#d8222a" stroke-width="1.6"/>
<text x="37.5" y="276.4" font-family="Liberation Sans" font-size="16" text-anchor="end" fill="#d8222a" stroke="#d8222a" stroke-width="0.3">-150</text>
<line x1="46.0" y1="241.9" x2="50.0" y2="241.9" stroke="#d8222a" stroke-width="1.6"/>
<line x1="42.0" y1="212.5" x2="50.0" y2="212.5" stroke="#d8222a" stroke-width="1.6"/>
<text x="37.5" y="217.5" font-family="Liberation Sans" font-size="16" text-anchor="end" fill="#d8222a" stroke="#d8222a" stroke-width="0.3">-100</text>
<line x1="46.0" y1="183.0" x2="50.0" y2="183.0" stroke="#d8222a" stroke-width="1.6"/>
<line x1="42.0" y1="153.5" x2="50.0" y2="153.5" stroke="#d8222a" stroke-width="1.6"/>
<text x="37.5" y="158.5" font-family="Liberation Sans" font-size="16" text-anchor="end" fill="#d8222a" stroke="#d8222a" stroke-width="0.3">-50</text>
<line x1="46.0" y1="124.1" x2="50.0" y2="124.1" stroke="#d8222a" stroke-width="1.6"/>
<line x1="42.0" y1="94.6" x2="50.0" y2="94.6" stroke="#d8222a" stroke-width="1.6"/>
<text x="37.5" y="99.6" font-family="Liberation Sans" font-size="16" text-anchor="end" fill="#d8222a" stroke="#d8222a" stroke-width="0.3">0</text>
<line x1="46.0" y1="65.1" x2="50.0" y2="65.1" stroke="#d8222a" stroke-width="1.6"/>
<line x1="42.0" y1="35.7" x2="50.0" y2="35.7" stroke="#d8222a" stroke-width="1.6"/>
<text x="37.5" y="40.7" font-family="Liberation Sans" font-size="16" text-anchor="end" fill="#d8222a" stroke="#d8222a" stroke-width="0.3">50</text>
<line x1="46.0" y1="6.2" x2="50.0" y2="6.2" stroke="#d8222a" stroke-width="1.6"/>
<line x1="523.0" y1="6.7" x2="523.0" y2="389.6" stroke="#2030cc" stroke-width="2.2"/>
<line x1="523.0" y1="389.6" x2="530.0" y2="389.6" stroke="#2030cc" stroke-width="1.6"/>
<text x="535.4" y="394.4" font-family="Liberation Sans" font-size="16" fill="#2030cc" stroke="#2030cc" stroke-width="0.3">920</text>
<line x1="523.0" y1="369.5" x2="526.5" y2="369.5" stroke="#2030cc" stroke-width="1.6"/>
<line x1="523.0" y1="349.3" x2="530.0" y2="349.3" stroke="#2030cc" stroke-width="1.6"/>
<text x="535.4" y="354.1" font-family="Liberation Sans" font-size="16" fill="#2030cc" stroke="#2030cc" stroke-width="0.3">940</text>
<line x1="523.0" y1="329.2" x2="526.5" y2="329.2" stroke="#2030cc" stroke-width="1.6"/>
<line x1="523.0" y1="309.0" x2="530.0" y2="309.0" stroke="#2030cc" stroke-width="1.6"/>
<text x="535.4" y="313.8" font-family="Liberation Sans" font-size="16" fill="#2030cc" stroke="#2030cc" stroke-width="0.3">960</text>
<line x1="523.0" y1="288.9" x2="526.5" y2="288.9" stroke="#2030cc" stroke-width="1.6"/>
<line x1="523.0" y1="268.7" x2="530.0" y2="268.7" stroke="#2030cc" stroke-width="1.6"/>
<text x="535.4" y="273.5" font-family="Liberation Sans" font-size="16" fill="#2030cc" stroke="#2030cc" stroke-width="0.3">980</text>
<line x1="523.0" y1="248.6" x2="526.5" y2="248.6" stroke="#2030cc" stroke-width="1.6"/>
<line x1="523.0" y1="228.4" x2="530.0" y2="228.4" stroke="#2030cc" stroke-width="1.6"/>
<text x="535.4" y="233.2" font-family="Liberation Sans" font-size="16" fill="#2030cc" stroke="#2030cc" stroke-width="0.3">1000</text>
<line x1="523.0" y1="208.3" x2="526.5" y2="208.3" stroke="#2030cc" stroke-width="1.6"/>
<line x1="523.0" y1="188.2" x2="530.0" y2="188.2" stroke="#2030cc" stroke-width="1.6"/>
<text x="535.4" y="193.0" font-family="Liberation Sans" font-size="16" fill="#2030cc" stroke="#2030cc" stroke-width="0.3">1020</text>
<line x1="523.0" y1="168.0" x2="526.5" y2="168.0" stroke="#2030cc" stroke-width="1.6"/>
<line x1="523.0" y1="147.9" x2="530.0" y2="147.9" stroke="#2030cc" stroke-width="1.6"/>
<text x="535.4" y="152.7" font-family="Liberation Sans" font-size="16" fill="#2030cc" stroke="#2030cc" stroke-width="0.3">1040</text>
<line x1="523.0" y1="127.7" x2="526.5" y2="127.7" stroke="#2030cc" stroke-width="1.6"/>
<line x1="523.0" y1="107.6" x2="530.0" y2="107.6" stroke="#2030cc" stroke-width="1.6"/>
<text x="535.4" y="112.4" font-family="Liberation Sans" font-size="16" fill="#2030cc" stroke="#2030cc" stroke-width="0.3">1060</text>
<line x1="523.0" y1="87.4" x2="526.5" y2="87.4" stroke="#2030cc" stroke-width="1.6"/>
<line x1="523.0" y1="67.3" x2="530.0" y2="67.3" stroke="#2030cc" stroke-width="1.6"/>
<text x="535.4" y="72.1" font-family="Liberation Sans" font-size="16" fill="#2030cc" stroke="#2030cc" stroke-width="0.3">1080</text>
<line x1="523.0" y1="47.1" x2="526.5" y2="47.1" stroke="#2030cc" stroke-width="1.6"/>
<line x1="523.0" y1="27.0" x2="530.0" y2="27.0" stroke="#2030cc" stroke-width="1.6"/>
<text x="535.4" y="31.8" font-family="Liberation Sans" font-size="16" fill="#2030cc" stroke="#2030cc" stroke-width="0.3">1100</text>
<line x1="523.0" y1="6.9" x2="526.5" y2="6.9" stroke="#2030cc" stroke-width="1.6"/>
<text x="240.5" y="429.0" font-family="Liberation Serif" font-size="20" fill="#111">d<tspan font-size="13" dy="4">z</tspan><tspan dy="-4">( nm)</tspan></text>
<text x="0.5" y="19.6" font-family="Liberation Serif" font-weight="bold" font-size="38.0" fill="#000">a</text>
<rect x="941.3" y="42.4" width="152.3" height="45.7" fill="#fff" stroke="#111" stroke-width="1.6"/>
<line x1="944.0" y1="56.7" x2="972.5" y2="56.7" stroke="#c80000" stroke-width="4.5" stroke-linecap="round"/>
<line x1="944.0" y1="74.0" x2="972.5" y2="74.0" stroke="#0000f0" stroke-width="4.5" stroke-linecap="round"/>
<text x="976.7" y="61.5" font-family="Liberation Serif" font-weight="bold" font-size="13.3" fill="#111" textLength="112.0" lengthAdjust="spacingAndGlyphs">Free energy( kJ/mol)</text>
<text x="976.7" y="78.8" font-family="Liberation Serif" font-weight="bold" font-size="13.3" fill="#111" textLength="83.0" lengthAdjust="spacingAndGlyphs">Density( kg/m<tspan font-size="8" dy="-5">3</tspan><tspan dy="5">)</tspan></text>
<line x1="679.0" y1="8.7" x2="1150.7" y2="8.7" stroke="#111" stroke-width="1.6"/>
<line x1="679.0" y1="392.0" x2="1150.7" y2="392.0" stroke="#111" stroke-width="1.6"/>
<line x1="751.8" y1="392.0" x2="751.8" y2="399.0" stroke="#111" stroke-width="1.5"/>
<line x1="751.8" y1="8.7" x2="751.8" y2="15.7" stroke="#111" stroke-width="1.5"/>
<text x="751.8" y="417.2" font-family="Liberation Sans" font-size="16" text-anchor="middle" fill="#111" stroke="#111" stroke-width="0.2">0</text>
<line x1="825.8" y1="392.0" x2="825.8" y2="395.5" stroke="#111" stroke-width="1.5"/>
<line x1="825.8" y1="8.7" x2="825.8" y2="12.2" stroke="#111" stroke-width="1.5"/>
<line x1="899.7" y1="392.0" x2="899.7" y2="399.0" stroke="#111" stroke-width="1.5"/>
<line x1="899.7" y1="8.7" x2="899.7" y2="15.7" stroke="#111" stroke-width="1.5"/>
<text x="899.7" y="417.2" font-family="Liberation Sans" font-size="16" text-anchor="middle" fill="#111" stroke="#111" stroke-width="0.2">1</text>
<line x1="973.6" y1="392.0" x2="973.6" y2="395.5" stroke="#111" stroke-width="1.5"/>
<line x1="973.6" y1="8.7" x2="973.6" y2="12.2" stroke="#111" stroke-width="1.5"/>
<line x1="1047.6" y1="392.0" x2="1047.6" y2="399.0" stroke="#111" stroke-width="1.5"/>
<line x1="1047.6" y1="8.7" x2="1047.6" y2="15.7" stroke="#111" stroke-width="1.5"/>
<text x="1047.6" y="417.2" font-family="Liberation Sans" font-size="16" text-anchor="middle" fill="#111" stroke="#111" stroke-width="0.2">2</text>
<line x1="1121.5" y1="392.0" x2="1121.5" y2="395.5" stroke="#111" stroke-width="1.5"/>
<line x1="1121.5" y1="8.7" x2="1121.5" y2="12.2" stroke="#111" stroke-width="1.5"/>
<line x1="679.0" y1="8.7" x2="679.0" y2="392.0" stroke="#d8222a" stroke-width="1.7"/>
<line x1="675.0" y1="391.6" x2="679.0" y2="391.6" stroke="#d8222a" stroke-width="1.6"/>
<line x1="671.0" y1="359.7" x2="679.0" y2="359.7" stroke="#d8222a" stroke-width="1.6"/>
<text x="666.5" y="364.7" font-family="Liberation Sans" font-size="16" text-anchor="end" fill="#d8222a" stroke="#d8222a" stroke-width="0.3">-250</text>
<line x1="675.0" y1="327.8" x2="679.0" y2="327.8" stroke="#d8222a" stroke-width="1.6"/>
<line x1="671.0" y1="295.9" x2="679.0" y2="295.9" stroke="#d8222a" stroke-width="1.6"/>
<text x="666.5" y="300.9" font-family="Liberation Sans" font-size="16" text-anchor="end" fill="#d8222a" stroke="#d8222a" stroke-width="0.3">-200</text>
<line x1="675.0" y1="263.9" x2="679.0" y2="263.9" stroke="#d8222a" stroke-width="1.6"/>
<line x1="671.0" y1="232.0" x2="679.0" y2="232.0" stroke="#d8222a" stroke-width="1.6"/>
<text x="666.5" y="237.0" font-family="Liberation Sans" font-size="16" text-anchor="end" fill="#d8222a" stroke="#d8222a" stroke-width="0.3">-150</text>
<line x1="675.0" y1="200.1" x2="679.0" y2="200.1" stroke="#d8222a" stroke-width="1.6"/>
<line x1="671.0" y1="168.2" x2="679.0" y2="168.2" stroke="#d8222a" stroke-width="1.6"/>
<text x="666.5" y="173.2" font-family="Liberation Sans" font-size="16" text-anchor="end" fill="#d8222a" stroke="#d8222a" stroke-width="0.3">-100</text>
<line x1="675.0" y1="136.3" x2="679.0" y2="136.3" stroke="#d8222a" stroke-width="1.6"/>
<line x1="671.0" y1="104.3" x2="679.0" y2="104.3" stroke="#d8222a" stroke-width="1.6"/>
<text x="666.5" y="109.3" font-family="Liberation Sans" font-size="16" text-anchor="end" fill="#d8222a" stroke="#d8222a" stroke-width="0.3">-50</text>
<line x1="675.0" y1="72.4" x2="679.0" y2="72.4" stroke="#d8222a" stroke-width="1.6"/>
<line x1="671.0" y1="40.5" x2="679.0" y2="40.5" stroke="#d8222a" stroke-width="1.6"/>
<text x="666.5" y="45.5" font-family="Liberation Sans" font-size="16" text-anchor="end" fill="#d8222a" stroke="#d8222a" stroke-width="0.3">0</text>
<line x1="675.0" y1="8.6" x2="679.0" y2="8.6" stroke="#d8222a" stroke-width="1.6"/>
<line x1="1150.7" y1="8.7" x2="1150.7" y2="392.0" stroke="#2030cc" stroke-width="2.2"/>
<line x1="1150.7" y1="390.8" x2="1154.2" y2="390.8" stroke="#2030cc" stroke-width="1.6"/>
<line x1="1150.7" y1="368.3" x2="1157.7" y2="368.3" stroke="#2030cc" stroke-width="1.6"/>
<text x="1163.1" y="373.1" font-family="Liberation Sans" font-size="16" fill="#2030cc" stroke="#2030cc" stroke-width="0.3">960</text>
<line x1="1150.7" y1="345.8" x2="1154.2" y2="345.8" stroke="#2030cc" stroke-width="1.6"/>
<line x1="1150.7" y1="323.3" x2="1157.7" y2="323.3" stroke="#2030cc" stroke-width="1.6"/>
<text x="1163.1" y="328.1" font-family="Liberation Sans" font-size="16" fill="#2030cc" stroke="#2030cc" stroke-width="0.3">980</text>
<line x1="1150.7" y1="300.8" x2="1154.2" y2="300.8" stroke="#2030cc" stroke-width="1.6"/>
<line x1="1150.7" y1="278.3" x2="1157.7" y2="278.3" stroke="#2030cc" stroke-width="1.6"/>
<text x="1163.1" y="283.1" font-family="Liberation Sans" font-size="16" fill="#2030cc" stroke="#2030cc" stroke-width="0.3">1000</text>
<line x1="1150.7" y1="255.9" x2="1154.2" y2="255.9" stroke="#2030cc" stroke-width="1.6"/>
<line x1="1150.7" y1="233.4" x2="1157.7" y2="233.4" stroke="#2030cc" stroke-width="1.6"/>
<text x="1163.1" y="238.2" font-family="Liberation Sans" font-size="16" fill="#2030cc" stroke="#2030cc" stroke-width="0.3">1020</text>
<line x1="1150.7" y1="210.9" x2="1154.2" y2="210.9" stroke="#2030cc" stroke-width="1.6"/>
<line x1="1150.7" y1="188.4" x2="1157.7" y2="188.4" stroke="#2030cc" stroke-width="1.6"/>
<text x="1163.1" y="193.2" font-family="Liberation Sans" font-size="16" fill="#2030cc" stroke="#2030cc" stroke-width="0.3">1040</text>
<line x1="1150.7" y1="165.9" x2="1154.2" y2="165.9" stroke="#2030cc" stroke-width="1.6"/>
<line x1="1150.7" y1="143.4" x2="1157.7" y2="143.4" stroke="#2030cc" stroke-width="1.6"/>
<text x="1163.1" y="148.2" font-family="Liberation Sans" font-size="16" fill="#2030cc" stroke="#2030cc" stroke-width="0.3">1060</text>
<line x1="1150.7" y1="120.9" x2="1154.2" y2="120.9" stroke="#2030cc" stroke-width="1.6"/>
<line x1="1150.7" y1="98.4" x2="1157.7" y2="98.4" stroke="#2030cc" stroke-width="1.6"/>
<text x="1163.1" y="103.2" font-family="Liberation Sans" font-size="16" fill="#2030cc" stroke="#2030cc" stroke-width="0.3">1080</text>
<line x1="1150.7" y1="76.0" x2="1154.2" y2="76.0" stroke="#2030cc" stroke-width="1.6"/>
<line x1="1150.7" y1="53.5" x2="1157.7" y2="53.5" stroke="#2030cc" stroke-width="1.6"/>
<text x="1163.1" y="58.3" font-family="Liberation Sans" font-size="16" fill="#2030cc" stroke="#2030cc" stroke-width="0.3">1100</text>
<line x1="1150.7" y1="31.0" x2="1154.2" y2="31.0" stroke="#2030cc" stroke-width="1.6"/>
<line x1="1150.7" y1="8.5" x2="1157.7" y2="8.5" stroke="#2030cc" stroke-width="1.6"/>
<text x="1163.1" y="13.3" font-family="Liberation Sans" font-size="16" fill="#2030cc" stroke="#2030cc" stroke-width="0.3">1120</text>
<text x="867.5" y="432.0" font-family="Liberation Serif" font-size="20" fill="#111">d<tspan font-size="13" dy="4">z</tspan><tspan dy="-4">( nm)</tspan></text>
<text x="616.5" y="32.0" font-family="Liberation Serif" font-weight="bold" font-size="38.0" fill="#000">b</text>
<rect x="363.2" y="619.6" width="152.1" height="44.9" fill="#fff" stroke="#111" stroke-width="1.6"/>
<line x1="366.0" y1="633.0" x2="394.0" y2="633.0" stroke="#c80000" stroke-width="4.5" stroke-linecap="round"/>
<line x1="366.0" y1="650.7" x2="394.0" y2="650.7" stroke="#0000f0" stroke-width="4.5" stroke-linecap="round"/>
<text x="397.5" y="637.8" font-family="Liberation Serif" font-weight="bold" font-size="13.3" fill="#111" textLength="113.0" lengthAdjust="spacingAndGlyphs">Free energy( kJ/mol)</text>
<text x="397.5" y="655.5" font-family="Liberation Serif" font-weight="bold" font-size="13.3" fill="#111" textLength="83.0" lengthAdjust="spacingAndGlyphs">Density( kg/m<tspan font-size="8" dy="-5">3</tspan><tspan dy="5">)</tspan></text>
<line x1="49.5" y1="449.7" x2="522.6" y2="449.7" stroke="#111" stroke-width="1.6"/>
<line x1="49.5" y1="833.0" x2="522.6" y2="833.0" stroke="#111" stroke-width="1.6"/>
<line x1="91.8" y1="833.0" x2="91.8" y2="836.5" stroke="#111" stroke-width="1.5"/>
<line x1="91.8" y1="449.7" x2="91.8" y2="453.2" stroke="#111" stroke-width="1.5"/>
<line x1="161.2" y1="833.0" x2="161.2" y2="840.0" stroke="#111" stroke-width="1.5"/>
<line x1="161.2" y1="449.7" x2="161.2" y2="456.7" stroke="#111" stroke-width="1.5"/>
<text x="161.2" y="858.2" font-family="Liberation Sans" font-size="16" text-anchor="middle" fill="#111" stroke="#111" stroke-width="0.2">0</text>
<line x1="230.5" y1="833.0" x2="230.5" y2="836.5" stroke="#111" stroke-width="1.5"/>
<line x1="230.5" y1="449.7" x2="230.5" y2="453.2" stroke="#111" stroke-width="1.5"/>
<line x1="299.9" y1="833.0" x2="299.9" y2="840.0" stroke="#111" stroke-width="1.5"/>
<line x1="299.9" y1="449.7" x2="299.9" y2="456.7" stroke="#111" stroke-width="1.5"/>
<text x="299.9" y="858.2" font-family="Liberation Sans" font-size="16" text-anchor="middle" fill="#111" stroke="#111" stroke-width="0.2">1</text>
<line x1="369.2" y1="833.0" x2="369.2" y2="836.5" stroke="#111" stroke-width="1.5"/>
<line x1="369.2" y1="449.7" x2="369.2" y2="453.2" stroke="#111" stroke-width="1.5"/>
<line x1="438.6" y1="833.0" x2="438.6" y2="840.0" stroke="#111" stroke-width="1.5"/>
<line x1="438.6" y1="449.7" x2="438.6" y2="456.7" stroke="#111" stroke-width="1.5"/>
<text x="438.6" y="858.2" font-family="Liberation Sans" font-size="16" text-anchor="middle" fill="#111" stroke="#111" stroke-width="0.2">2</text>
<line x1="507.9" y1="833.0" x2="507.9" y2="836.5" stroke="#111" stroke-width="1.5"/>
<line x1="507.9" y1="449.7" x2="507.9" y2="453.2" stroke="#111" stroke-width="1.5"/>
<line x1="49.5" y1="449.7" x2="49.5" y2="833.0" stroke="#d8222a" stroke-width="1.7"/>
<line x1="41.5" y1="833.0" x2="49.5" y2="833.0" stroke="#d8222a" stroke-width="1.6"/>
<text x="37.0" y="838.0" font-family="Liberation Sans" font-size="16" text-anchor="end" fill="#d8222a" stroke="#d8222a" stroke-width="0.3">-300</text>
<line x1="45.5" y1="803.5" x2="49.5" y2="803.5" stroke="#d8222a" stroke-width="1.6"/>
<line x1="41.5" y1="774.0" x2="49.5" y2="774.0" stroke="#d8222a" stroke-width="1.6"/>
<text x="37.0" y="779.0" font-family="Liberation Sans" font-size="16" text-anchor="end" fill="#d8222a" stroke="#d8222a" stroke-width="0.3">-250</text>
<line x1="45.5" y1="744.5" x2="49.5" y2="744.5" stroke="#d8222a" stroke-width="1.6"/>
<line x1="41.5" y1="715.1" x2="49.5" y2="715.1" stroke="#d8222a" stroke-width="1.6"/>
<text x="37.0" y="720.1" font-family="Liberation Sans" font-size="16" text-anchor="end" fill="#d8222a" stroke="#d8222a" stroke-width="0.3">-200</text>
<line x1="45.5" y1="685.6" x2="49.5" y2="685.6" stroke="#d8222a" stroke-width="1.6"/>
<line x1="41.5" y1="656.1" x2="49.5" y2="656.1" stroke="#d8222a" stroke-width="1.6"/>
<text x="37.0" y="661.1" font-family="Liberation Sans" font-size="16" text-anchor="end" fill="#d8222a" stroke="#d8222a" stroke-width="0.3">-150</text>
<line x1="45.5" y1="626.6" x2="49.5" y2="626.6" stroke="#d8222a" stroke-width="1.6"/>
<line x1="41.5" y1="597.1" x2="49.5" y2="597.1" stroke="#d8222a" stroke-width="1.6"/>
<text x="37.0" y="602.1" font-family="Liberation Sans" font-size="16" text-anchor="end" fill="#d8222a" stroke="#d8222a" stroke-width="0.3">-100</text>
<line x1="45.5" y1="567.6" x2="49.5" y2="567.6" stroke="#d8222a" stroke-width="1.6"/>
<line x1="41.5" y1="538.2" x2="49.5" y2="538.2" stroke="#d8222a" stroke-width="1.6"/>
<text x="37.0" y="543.2" font-family="Liberation Sans" font-size="16" text-anchor="end" fill="#d8222a" stroke="#d8222a" stroke-width="0.3">-50</text>
<line x1="45.5" y1="508.7" x2="49.5" y2="508.7" stroke="#d8222a" stroke-width="1.6"/>
<line x1="41.5" y1="479.2" x2="49.5" y2="479.2" stroke="#d8222a" stroke-width="1.6"/>
<text x="37.0" y="484.2" font-family="Liberation Sans" font-size="16" text-anchor="end" fill="#d8222a" stroke="#d8222a" stroke-width="0.3">0</text>
<line x1="45.5" y1="449.7" x2="49.5" y2="449.7" stroke="#d8222a" stroke-width="1.6"/>
<line x1="522.6" y1="449.7" x2="522.6" y2="833.0" stroke="#2030cc" stroke-width="2.2"/>
<line x1="522.6" y1="833.0" x2="529.6" y2="833.0" stroke="#2030cc" stroke-width="1.6"/>
<text x="535.0" y="837.8" font-family="Liberation Sans" font-size="16" fill="#2030cc" stroke="#2030cc" stroke-width="0.3">940</text>
<line x1="522.6" y1="810.4" x2="526.1" y2="810.4" stroke="#2030cc" stroke-width="1.6"/>
<line x1="522.6" y1="787.9" x2="529.6" y2="787.9" stroke="#2030cc" stroke-width="1.6"/>
<text x="535.0" y="792.7" font-family="Liberation Sans" font-size="16" fill="#2030cc" stroke="#2030cc" stroke-width="0.3">960</text>
<line x1="522.6" y1="765.3" x2="526.1" y2="765.3" stroke="#2030cc" stroke-width="1.6"/>
<line x1="522.6" y1="742.8" x2="529.6" y2="742.8" stroke="#2030cc" stroke-width="1.6"/>
<text x="535.0" y="747.6" font-family="Liberation Sans" font-size="16" fill="#2030cc" stroke="#2030cc" stroke-width="0.3">980</text>
<line x1="522.6" y1="720.2" x2="526.1" y2="720.2" stroke="#2030cc" stroke-width="1.6"/>
<line x1="522.6" y1="697.7" x2="529.6" y2="697.7" stroke="#2030cc" stroke-width="1.6"/>
<text x="535.0" y="702.5" font-family="Liberation Sans" font-size="16" fill="#2030cc" stroke="#2030cc" stroke-width="0.3">1000</text>
<line x1="522.6" y1="675.1" x2="526.1" y2="675.1" stroke="#2030cc" stroke-width="1.6"/>
<line x1="522.6" y1="652.5" x2="529.6" y2="652.5" stroke="#2030cc" stroke-width="1.6"/>
<text x="535.0" y="657.3" font-family="Liberation Sans" font-size="16" fill="#2030cc" stroke="#2030cc" stroke-width="0.3">1020</text>
<line x1="522.6" y1="630.0" x2="526.1" y2="630.0" stroke="#2030cc" stroke-width="1.6"/>
<line x1="522.6" y1="607.4" x2="529.6" y2="607.4" stroke="#2030cc" stroke-width="1.6"/>
<text x="535.0" y="612.2" font-family="Liberation Sans" font-size="16" fill="#2030cc" stroke="#2030cc" stroke-width="0.3">1040</text>
<line x1="522.6" y1="584.9" x2="526.1" y2="584.9" stroke="#2030cc" stroke-width="1.6"/>
<line x1="522.6" y1="562.3" x2="529.6" y2="562.3" stroke="#2030cc" stroke-width="1.6"/>
<text x="535.0" y="567.1" font-family="Liberation Sans" font-size="16" fill="#2030cc" stroke="#2030cc" stroke-width="0.3">1060</text>
<line x1="522.6" y1="539.8" x2="526.1" y2="539.8" stroke="#2030cc" stroke-width="1.6"/>
<line x1="522.6" y1="517.2" x2="529.6" y2="517.2" stroke="#2030cc" stroke-width="1.6"/>
<text x="535.0" y="522.0" font-family="Liberation Sans" font-size="16" fill="#2030cc" stroke="#2030cc" stroke-width="0.3">1080</text>
<line x1="522.6" y1="494.7" x2="526.1" y2="494.7" stroke="#2030cc" stroke-width="1.6"/>
<line x1="522.6" y1="472.1" x2="529.6" y2="472.1" stroke="#2030cc" stroke-width="1.6"/>
<text x="535.0" y="476.9" font-family="Liberation Sans" font-size="16" fill="#2030cc" stroke="#2030cc" stroke-width="0.3">1100</text>
<line x1="522.6" y1="449.5" x2="526.1" y2="449.5" stroke="#2030cc" stroke-width="1.6"/>
<text x="264.0" y="873.7" font-family="Liberation Serif" font-size="20" fill="#111">d<tspan font-size="13" dy="4">z</tspan><tspan dy="-4">( nm)</tspan></text>
<text x="-0.3" y="467.3" font-family="Liberation Serif" font-weight="bold" font-size="39.0" fill="#000">c</text>
<rect x="979.9" y="612.0" width="152.3" height="45.4" fill="#fff" stroke="#111" stroke-width="1.6"/>
<line x1="982.5" y1="625.8" x2="1011.0" y2="625.8" stroke="#c80000" stroke-width="4.5" stroke-linecap="round"/>
<line x1="982.5" y1="642.9" x2="1011.0" y2="642.9" stroke="#0000f0" stroke-width="4.5" stroke-linecap="round"/>
<text x="1015.0" y="630.6" font-family="Liberation Serif" font-weight="bold" font-size="13.3" fill="#111" textLength="112.5" lengthAdjust="spacingAndGlyphs">Free energy( kJ/mol)</text>
<text x="1015.0" y="647.7" font-family="Liberation Serif" font-weight="bold" font-size="13.3" fill="#111" textLength="83.0" lengthAdjust="spacingAndGlyphs">Density( kg/m<tspan font-size="8" dy="-5">3</tspan><tspan dy="5">)</tspan></text>
<line x1="678.4" y1="451.3" x2="1150.6" y2="451.3" stroke="#111" stroke-width="1.6"/>
<line x1="678.4" y1="833.8" x2="1150.6" y2="833.8" stroke="#111" stroke-width="1.6"/>
<line x1="678.5" y1="833.8" x2="678.5" y2="837.3" stroke="#111" stroke-width="1.5"/>
<line x1="678.5" y1="451.3" x2="678.5" y2="454.8" stroke="#111" stroke-width="1.5"/>
<line x1="754.8" y1="833.8" x2="754.8" y2="840.8" stroke="#111" stroke-width="1.5"/>
<line x1="754.8" y1="451.3" x2="754.8" y2="458.3" stroke="#111" stroke-width="1.5"/>
<text x="754.8" y="859.0" font-family="Liberation Sans" font-size="16" text-anchor="middle" fill="#111" stroke="#111" stroke-width="0.2">0</text>
<line x1="831.0" y1="833.8" x2="831.0" y2="837.3" stroke="#111" stroke-width="1.5"/>
<line x1="831.0" y1="451.3" x2="831.0" y2="454.8" stroke="#111" stroke-width="1.5"/>
<line x1="907.3" y1="833.8" x2="907.3" y2="840.8" stroke="#111" stroke-width="1.5"/>
<line x1="907.3" y1="451.3" x2="907.3" y2="458.3" stroke="#111" stroke-width="1.5"/>
<text x="907.3" y="859.0" font-family="Liberation Sans" font-size="16" text-anchor="middle" fill="#111" stroke="#111" stroke-width="0.2">1</text>
<line x1="983.5" y1="833.8" x2="983.5" y2="837.3" stroke="#111" stroke-width="1.5"/>
<line x1="983.5" y1="451.3" x2="983.5" y2="454.8" stroke="#111" stroke-width="1.5"/>
<line x1="1059.8" y1="833.8" x2="1059.8" y2="840.8" stroke="#111" stroke-width="1.5"/>
<line x1="1059.8" y1="451.3" x2="1059.8" y2="458.3" stroke="#111" stroke-width="1.5"/>
<text x="1059.8" y="859.0" font-family="Liberation Sans" font-size="16" text-anchor="middle" fill="#111" stroke="#111" stroke-width="0.2">2</text>
<line x1="1136.0" y1="833.8" x2="1136.0" y2="837.3" stroke="#111" stroke-width="1.5"/>
<line x1="1136.0" y1="451.3" x2="1136.0" y2="454.8" stroke="#111" stroke-width="1.5"/>
<line x1="678.4" y1="451.3" x2="678.4" y2="833.8" stroke="#d8222a" stroke-width="1.7"/>
<line x1="670.4" y1="833.7" x2="678.4" y2="833.7" stroke="#d8222a" stroke-width="1.6"/>
<text x="665.9" y="838.7" font-family="Liberation Sans" font-size="16" text-anchor="end" fill="#d8222a" stroke="#d8222a" stroke-width="0.3">-300</text>
<line x1="674.4" y1="804.3" x2="678.4" y2="804.3" stroke="#d8222a" stroke-width="1.6"/>
<line x1="670.4" y1="774.8" x2="678.4" y2="774.8" stroke="#d8222a" stroke-width="1.6"/>
<text x="665.9" y="779.8" font-family="Liberation Sans" font-size="16" text-anchor="end" fill="#d8222a" stroke="#d8222a" stroke-width="0.3">-250</text>
<line x1="674.4" y1="745.4" x2="678.4" y2="745.4" stroke="#d8222a" stroke-width="1.6"/>
<line x1="670.4" y1="716.0" x2="678.4" y2="716.0" stroke="#d8222a" stroke-width="1.6"/>
<text x="665.9" y="721.0" font-family="Liberation Sans" font-size="16" text-anchor="end" fill="#d8222a" stroke="#d8222a" stroke-width="0.3">-200</text>
<line x1="674.4" y1="686.5" x2="678.4" y2="686.5" stroke="#d8222a" stroke-width="1.6"/>
<line x1="670.4" y1="657.1" x2="678.4" y2="657.1" stroke="#d8222a" stroke-width="1.6"/>
<text x="665.9" y="662.1" font-family="Liberation Sans" font-size="16" text-anchor="end" fill="#d8222a" stroke="#d8222a" stroke-width="0.3">-150</text>
<line x1="674.4" y1="627.7" x2="678.4" y2="627.7" stroke="#d8222a" stroke-width="1.6"/>
<line x1="670.4" y1="598.2" x2="678.4" y2="598.2" stroke="#d8222a" stroke-width="1.6"/>
<text x="665.9" y="603.2" font-family="Liberation Sans" font-size="16" text-anchor="end" fill="#d8222a" stroke="#d8222a" stroke-width="0.3">-100</text>
<line x1="674.4" y1="568.8" x2="678.4" y2="568.8" stroke="#d8222a" stroke-width="1.6"/>
<line x1="670.4" y1="539.4" x2="678.4" y2="539.4" stroke="#d8222a" stroke-width="1.6"/>
<text x="665.9" y="544.4" font-family="Liberation Sans" font-size="16" text-anchor="end" fill="#d8222a" stroke="#d8222a" stroke-width="0.3">-50</text>
<line x1="674.4" y1="509.9" x2="678.4" y2="509.9" stroke="#d8222a" stroke-width="1.6"/>
<line x1="670.4" y1="480.5" x2="678.4" y2="480.5" stroke="#d8222a" stroke-width="1.6"/>
<text x="665.9" y="485.5" font-family="Liberation Sans" font-size="16" text-anchor="end" fill="#d8222a" stroke="#d8222a" stroke-width="0.3">0</text>
<line x1="674.4" y1="451.1" x2="678.4" y2="451.1" stroke="#d8222a" stroke-width="1.6"/>
<line x1="1150.6" y1="451.3" x2="1150.6" y2="833.8" stroke="#2030cc" stroke-width="2.2"/>
<line x1="1150.6" y1="833.6" x2="1154.1" y2="833.6" stroke="#2030cc" stroke-width="1.6"/>
<line x1="1150.6" y1="812.3" x2="1157.6" y2="812.3" stroke="#2030cc" stroke-width="1.6"/>
<text x="1163.0" y="817.1" font-family="Liberation Sans" font-size="16" fill="#2030cc" stroke="#2030cc" stroke-width="0.3">940</text>
<line x1="1150.6" y1="791.1" x2="1154.1" y2="791.1" stroke="#2030cc" stroke-width="1.6"/>
<line x1="1150.6" y1="769.8" x2="1157.6" y2="769.8" stroke="#2030cc" stroke-width="1.6"/>
<text x="1163.0" y="774.6" font-family="Liberation Sans" font-size="16" fill="#2030cc" stroke="#2030cc" stroke-width="0.3">960</text>
<line x1="1150.6" y1="748.6" x2="1154.1" y2="748.6" stroke="#2030cc" stroke-width="1.6"/>
<line x1="1150.6" y1="727.3" x2="1157.6" y2="727.3" stroke="#2030cc" stroke-width="1.6"/>
<text x="1163.0" y="732.1" font-family="Liberation Sans" font-size="16" fill="#2030cc" stroke="#2030cc" stroke-width="0.3">980</text>
<line x1="1150.6" y1="706.1" x2="1154.1" y2="706.1" stroke="#2030cc" stroke-width="1.6"/>
<line x1="1150.6" y1="684.8" x2="1157.6" y2="684.8" stroke="#2030cc" stroke-width="1.6"/>
<text x="1163.0" y="689.6" font-family="Liberation Sans" font-size="16" fill="#2030cc" stroke="#2030cc" stroke-width="0.3">1000</text>
<line x1="1150.6" y1="663.6" x2="1154.1" y2="663.6" stroke="#2030cc" stroke-width="1.6"/>
<line x1="1150.6" y1="642.4" x2="1157.6" y2="642.4" stroke="#2030cc" stroke-width="1.6"/>
<text x="1163.0" y="647.2" font-family="Liberation Sans" font-size="16" fill="#2030cc" stroke="#2030cc" stroke-width="0.3">1020</text>
<line x1="1150.6" y1="621.1" x2="1154.1" y2="621.1" stroke="#2030cc" stroke-width="1.6"/>
<line x1="1150.6" y1="599.9" x2="1157.6" y2="599.9" stroke="#2030cc" stroke-width="1.6"/>
<text x="1163.0" y="604.7" font-family="Liberation Sans" font-size="16" fill="#2030cc" stroke="#2030cc" stroke-width="0.3">1040</text>
<line x1="1150.6" y1="578.6" x2="1154.1" y2="578.6" stroke="#2030cc" stroke-width="1.6"/>
<line x1="1150.6" y1="557.4" x2="1157.6" y2="557.4" stroke="#2030cc" stroke-width="1.6"/>
<text x="1163.0" y="562.2" font-family="Liberation Sans" font-size="16" fill="#2030cc" stroke="#2030cc" stroke-width="0.3">1060</text>
<line x1="1150.6" y1="536.1" x2="1154.1" y2="536.1" stroke="#2030cc" stroke-width="1.6"/>
<line x1="1150.6" y1="514.9" x2="1157.6" y2="514.9" stroke="#2030cc" stroke-width="1.6"/>
<text x="1163.0" y="519.7" font-family="Liberation Sans" font-size="16" fill="#2030cc" stroke="#2030cc" stroke-width="0.3">1080</text>
<line x1="1150.6" y1="493.6" x2="1154.1" y2="493.6" stroke="#2030cc" stroke-width="1.6"/>
<line x1="1150.6" y1="472.4" x2="1157.6" y2="472.4" stroke="#2030cc" stroke-width="1.6"/>
<text x="1163.0" y="477.2" font-family="Liberation Sans" font-size="16" fill="#2030cc" stroke="#2030cc" stroke-width="0.3">1100</text>
<line x1="1150.6" y1="451.2" x2="1154.1" y2="451.2" stroke="#2030cc" stroke-width="1.6"/>
<text x="877.0" y="874.4" font-family="Liberation Serif" font-size="20" fill="#111">d<tspan font-size="13" dy="4">z</tspan><tspan dy="-4">( nm)</tspan></text>
<text x="616.5" y="473.0" font-family="Liberation Serif" font-weight="bold" font-size="35.0" fill="#000">d</text>
<rect x="404.3" y="444" width="2.6" height="84" fill="#fff"/>
</svg></body></html>
